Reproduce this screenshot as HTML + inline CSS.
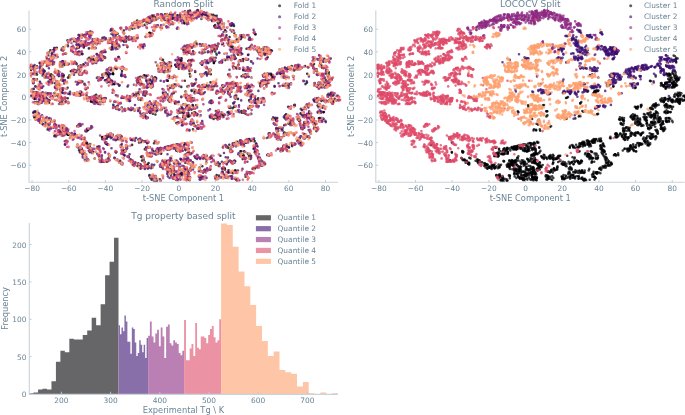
<!DOCTYPE html>
<html><head><meta charset="utf-8"><title>Splits</title>
<style>html,body{margin:0;padding:0;background:#fff}svg{display:block}</style></head>
<body>
<svg width="685" height="415" viewBox="0 0 685 415" font-family="'DejaVu Sans','Liberation Sans',sans-serif" fill="#6a8496">
<rect width="685" height="415" fill="#fff"/>
<path d="M161.5 16.6h0M333.5 100.3h0M240.0 155.7h0M94.7 158.5h0M52.8 96.0h0M190.2 76.4h0M140.8 142.3h0M237.3 141.8h0M285.1 147.6h0M263.4 48.8h0M266.3 84.7h0M112.8 134.9h0M255.4 34.2h0M324.2 58.9h0M236.7 49.8h0M185.7 154.9h0M316.4 131.1h0M237.8 39.7h0M239.4 68.6h0M307.4 117.9h0M100.3 79.6h0M246.9 59.6h0M307.2 73.7h0M152.1 166.7h0M297.8 140.3h0M121.1 39.7h0M82.8 44.9h0M169.4 24.3h0M270.7 51.1h0M79.9 73.7h0M213.9 62.7h0M86.6 95.4h0M142.6 76.9h0M93.4 59.0h0M154.0 143.2h0M287.2 133.5h0M243.0 61.0h0M319.7 118.0h0M60.8 62.9h0M219.7 22.5h0M110.5 38.6h0M319.7 121.6h0M148.8 167.7h0M179.2 58.6h0M244.0 76.3h0M192.5 105.7h0M145.8 20.5h0M146.4 117.3h0M191.7 91.0h0M259.8 158.1h0M206.4 159.4h0M264.2 162.8h0M185.5 179.2h0M194.4 112.8h0M191.1 47.3h0M190.6 60.2h0M283.3 146.6h0M305.1 66.1h0M168.3 19.2h0M318.4 105.5h0M89.1 147.4h0M165.7 161.4h0M319.9 58.5h0M151.9 83.7h0M237.0 180.0h0M62.3 66.5h0M154.7 78.6h0M232.0 23.2h0M245.6 76.9h0M185.3 116.2h0M264.6 73.9h0M165.8 63.8h0M95.2 41.6h0M162.1 16.1h0M85.7 89.2h0M149.9 112.7h0M263.7 75.9h0M191.5 109.6h0M69.3 75.5h0M120.8 145.2h0M253.6 148.7h0M208.9 73.7h0M179.6 111.8h0M109.4 42.8h0M189.3 106.3h0M157.7 154.0h0M193.3 85.3h0M215.0 48.2h0M228.2 74.5h0M80.2 82.3h0M64.2 131.0h0M143.0 46.7h0M313.6 99.6h0M232.8 25.2h0M228.9 44.1h0M113.1 74.1h0M162.8 166.5h0M116.5 68.9h0M151.5 104.0h0M130.3 27.3h0M97.1 54.5h0M215.1 51.5h0M194.0 100.0h0M138.6 25.3h0M181.7 149.7h0M231.8 178.6h0M146.8 81.3h0M119.3 36.5h0M93.8 60.5h0M231.3 161.4h0M300.1 120.5h0M241.4 111.1h0M139.7 78.7h0M215.6 27.5h0M299.2 67.9h0M127.4 47.1h0M62.5 61.6h0M174.2 84.5h0M95.3 47.8h0M215.9 114.4h0M68.9 134.5h0M122.0 71.1h0M167.5 96.1h0M217.6 178.5h0M56.8 47.8h0M217.4 164.8h0M122.5 151.1h0M324.7 87.4h0M34.6 117.8h0M94.3 43.0h0M58.2 74.0h0M49.1 102.7h0M234.7 97.6h0M47.7 93.3h0M231.5 25.0h0M80.4 81.2h0M31.1 69.2h0M177.7 163.3h0M246.1 86.3h0M153.8 111.3h0M260.6 52.3h0M231.9 151.6h0M205.5 13.9h0M230.8 46.1h0M182.7 123.0h0M177.6 15.3h0M75.9 63.0h0M84.3 35.9h0M95.7 101.2h0M195.7 157.9h0M188.8 116.4h0M147.4 82.4h0M226.5 35.2h0M224.8 168.4h0M234.0 26.0h0M185.4 53.0h0M62.5 128.0h0M98.0 59.0h0M211.9 49.9h0M192.3 98.4h0M234.5 160.9h0M223.6 114.4h0M250.5 158.9h0M155.4 114.5h0M84.5 83.8h0M321.8 66.7h0M185.5 150.1h0" stroke="#000004" stroke-opacity="0.76" stroke-width="2.6" stroke-linecap="round" fill="none"/>
<path d="M252.7 168.9h0M230.2 106.8h0M203.5 50.9h0M313.7 59.3h0M269.6 52.5h0M202.2 15.1h0M173.8 93.1h0M146.6 22.1h0M212.9 87.5h0M168.5 16.4h0M62.1 103.5h0M223.2 115.7h0M155.2 27.1h0M107.9 75.1h0M66.1 101.6h0M168.9 15.8h0M203.4 93.4h0M325.9 100.4h0M328.8 72.4h0M178.5 65.0h0M89.8 152.1h0M149.6 32.9h0M42.7 75.4h0M60.3 66.3h0M232.9 143.6h0M250.8 106.0h0M96.1 102.1h0M159.8 179.4h0M215.0 49.3h0M107.9 80.1h0M235.4 170.2h0M44.7 71.2h0M184.2 21.0h0M78.6 44.4h0M295.4 65.6h0M35.3 86.4h0M308.8 136.3h0M241.8 112.7h0M293.4 76.8h0M42.1 64.2h0M59.1 126.3h0M320.2 111.7h0M304.7 134.2h0M239.9 60.4h0M167.6 149.4h0M102.1 40.9h0M173.3 17.7h0M171.1 96.4h0M79.3 94.3h0M201.4 177.1h0M305.5 84.1h0M146.5 76.1h0M54.5 93.1h0M124.7 75.2h0M272.5 76.8h0M87.1 142.8h0M113.5 42.7h0M56.9 84.2h0M191.5 60.8h0M202.3 166.3h0M228.4 161.5h0M114.4 84.1h0M188.2 112.7h0M57.5 86.5h0M198.0 86.0h0M294.5 106.0h0M307.6 114.4h0M72.4 47.9h0M104.6 57.0h0M266.0 48.5h0M329.9 94.9h0M308.7 105.3h0M191.4 167.9h0M302.3 115.0h0M311.9 117.2h0M157.7 14.5h0M326.0 85.9h0M153.8 104.6h0M147.8 168.5h0M185.2 148.9h0M128.7 157.2h0M151.5 107.4h0M209.8 157.9h0M30.7 66.9h0M163.0 59.8h0M322.5 99.6h0M279.7 127.8h0M220.4 155.8h0M216.9 117.3h0M228.4 147.9h0M58.2 71.0h0M112.4 44.0h0M48.5 81.6h0M99.0 146.5h0M40.4 87.1h0M231.5 162.5h0M293.7 69.9h0M96.8 57.9h0M244.7 158.4h0M309.1 113.6h0M327.9 83.6h0M187.1 169.5h0M113.1 73.9h0M126.0 41.6h0M238.1 54.7h0M254.5 148.5h0M184.8 80.8h0M90.0 148.3h0M233.4 66.7h0M312.4 121.9h0M95.4 97.2h0M188.9 98.8h0M148.2 86.9h0M203.1 93.6h0M300.7 143.2h0M221.8 113.8h0M185.2 105.0h0M107.3 160.4h0M78.8 35.0h0M224.1 92.4h0M47.3 59.2h0M78.3 82.9h0M33.7 92.3h0M216.0 83.6h0M183.3 49.9h0M39.9 81.8h0M294.1 70.4h0M264.1 47.3h0M181.9 173.6h0M332.9 100.0h0M63.0 63.6h0M101.3 51.8h0M199.7 157.8h0M68.9 93.8h0M140.6 168.4h0M30.7 68.0h0M77.1 146.9h0M204.2 157.7h0M282.8 85.5h0M192.8 45.5h0M197.3 114.3h0M31.0 65.8h0M83.4 138.7h0M193.4 99.3h0M226.4 147.0h0M241.3 151.3h0M187.3 161.5h0M143.3 141.2h0M292.4 121.7h0M184.7 95.1h0M95.2 98.2h0M307.1 136.5h0M67.5 40.4h0M33.6 79.0h0M33.3 94.2h0M39.8 63.1h0M327.2 85.4h0M51.0 76.7h0M84.2 35.8h0M328.2 77.4h0M195.3 112.7h0M234.7 58.8h0M222.3 91.3h0M177.2 116.6h0M237.5 90.5h0M89.6 145.7h0M140.6 83.3h0" stroke="#000004" stroke-opacity="0.76" stroke-width="2.6" stroke-linecap="round" fill="none"/>
<path d="M248.7 85.6h0M212.2 21.0h0M185.2 169.3h0M221.7 89.5h0M143.5 113.2h0M210.5 82.4h0M191.1 99.7h0M331.5 78.9h0M102.0 137.1h0M79.0 150.2h0M210.0 117.3h0M167.6 71.4h0M242.8 59.2h0M300.7 113.3h0M215.3 176.7h0M61.6 50.1h0M194.4 43.5h0M34.7 98.8h0M277.2 118.1h0M61.6 103.7h0M170.2 87.8h0M243.8 110.7h0M204.8 86.9h0M285.0 67.8h0M90.8 60.5h0M317.6 105.5h0M248.9 155.7h0M271.1 75.3h0M164.3 72.2h0M245.8 86.9h0M290.0 122.8h0M294.3 143.5h0M250.2 39.5h0M84.6 153.5h0M54.9 48.1h0M156.0 178.6h0M137.2 20.6h0M231.0 147.4h0M149.4 33.1h0M223.4 117.0h0M234.8 83.2h0M150.1 18.0h0M219.4 27.5h0M233.6 41.9h0M206.9 74.2h0M96.7 101.1h0M328.8 74.6h0M195.9 92.2h0M112.3 81.6h0M244.0 151.3h0M175.6 178.3h0M315.0 84.7h0M326.2 73.7h0M108.2 73.9h0M315.3 123.5h0M80.4 152.2h0M183.7 173.2h0M252.3 94.9h0M155.7 19.7h0M190.2 168.9h0M271.0 73.8h0M211.5 57.8h0M216.6 114.7h0M174.3 170.5h0M61.9 98.4h0M301.9 110.1h0M215.0 60.9h0M298.1 118.6h0M191.6 153.3h0M323.9 112.0h0M57.3 95.4h0M240.9 50.4h0M144.8 149.2h0M213.7 61.4h0M208.2 62.9h0M232.8 46.7h0M173.5 169.0h0M253.2 140.8h0M338.4 100.0h0M172.5 85.3h0M178.4 174.6h0M152.6 111.6h0M222.2 90.5h0M107.6 80.8h0M76.6 44.6h0M300.4 141.6h0M120.4 139.2h0M315.5 101.5h0M276.0 120.3h0M284.2 132.5h0M229.7 94.4h0M307.9 67.3h0M238.2 87.2h0M85.8 72.1h0M128.0 156.8h0M70.9 71.3h0M116.9 43.4h0M184.2 143.7h0M99.6 159.5h0M79.7 95.1h0M169.2 76.0h0M304.3 122.9h0M188.5 152.3h0M215.3 117.6h0M117.6 33.8h0M231.4 91.8h0M204.8 13.4h0M186.5 19.6h0M142.5 167.1h0M46.2 75.1h0M297.8 119.4h0M257.4 150.7h0M144.6 75.2h0M278.6 128.1h0M314.4 126.9h0M200.8 63.2h0M279.5 69.6h0M175.0 103.5h0M218.3 110.8h0M323.1 85.0h0M267.7 75.6h0M43.5 96.8h0M211.5 100.5h0M154.9 77.4h0M93.9 41.6h0M281.5 129.2h0M204.6 52.3h0M65.2 97.8h0M165.6 148.2h0M148.7 82.8h0M128.1 108.7h0M201.6 171.3h0M189.7 115.8h0M91.2 101.5h0M182.1 108.3h0M248.8 91.3h0M62.5 100.6h0M332.6 103.7h0M114.1 84.0h0M253.3 168.6h0M137.4 82.7h0M86.2 88.2h0M180.5 17.4h0M217.5 27.7h0M43.5 72.9h0M286.9 150.4h0M226.8 164.1h0M213.9 63.1h0M225.0 169.6h0M156.5 179.2h0M57.5 134.5h0M306.6 105.3h0M90.3 31.5h0M185.3 52.6h0M223.2 87.1h0M88.5 129.4h0M194.8 83.7h0M160.5 148.4h0M142.5 116.6h0M212.6 89.5h0M61.9 100.7h0M183.1 117.2h0M244.3 75.4h0M198.9 176.4h0M331.0 92.7h0M40.7 93.6h0M51.0 78.5h0" stroke="#000004" stroke-opacity="0.76" stroke-width="2.6" stroke-linecap="round" fill="none"/>
<path d="M161.1 153.1h0M292.8 144.0h0M122.8 97.7h0M250.7 96.1h0M196.3 43.1h0M211.0 58.4h0M86.6 143.6h0M186.4 155.0h0M149.1 21.7h0M150.5 178.1h0M59.7 130.6h0M219.1 117.4h0M115.8 47.1h0M217.6 116.8h0M141.0 99.9h0M170.6 158.2h0M254.1 32.6h0M205.5 157.7h0M183.7 65.4h0M222.9 147.3h0M215.6 117.4h0M169.8 168.9h0M173.9 87.2h0M185.6 47.8h0M317.8 112.4h0M80.4 125.7h0M31.1 69.7h0M243.0 144.5h0M127.6 86.5h0M230.3 107.9h0M68.0 77.6h0M76.6 64.1h0M78.7 47.6h0M187.6 105.7h0M193.7 123.6h0M110.9 69.1h0M322.0 67.6h0M327.3 86.5h0M107.4 75.9h0M138.7 99.4h0M42.0 100.8h0M259.8 83.4h0M187.7 100.3h0M105.9 143.8h0M174.8 175.0h0M77.4 54.2h0M119.3 85.7h0M333.2 102.4h0M120.1 160.7h0M241.6 76.2h0M141.7 83.9h0M96.2 94.8h0M61.8 65.2h0M38.7 116.5h0M204.9 60.6h0M189.3 16.7h0M234.6 172.5h0M277.8 149.0h0M209.8 169.8h0M67.7 134.8h0M116.5 138.0h0M207.5 87.5h0M240.0 140.6h0M187.4 86.6h0M146.4 141.7h0M87.5 130.3h0M98.0 77.3h0M188.5 114.6h0M315.5 122.6h0M146.0 148.8h0M124.0 33.5h0M157.2 143.2h0M43.1 99.2h0M228.4 172.8h0M184.5 23.5h0M216.7 15.8h0M245.9 142.4h0M186.0 171.8h0M170.7 146.3h0M90.2 144.0h0M42.2 71.6h0M292.1 146.1h0M63.3 47.4h0M131.4 110.0h0M240.6 143.1h0M180.2 174.2h0M273.7 77.9h0M77.1 126.3h0M80.8 74.4h0M96.8 54.0h0M178.5 122.3h0M176.4 66.8h0M79.6 66.1h0M145.1 95.6h0M257.0 50.0h0M229.6 37.0h0M138.6 94.5h0M269.8 50.1h0M290.7 69.2h0M328.8 100.5h0M303.4 125.2h0M152.1 15.6h0M174.0 163.0h0M192.2 19.8h0M229.8 45.9h0M195.5 126.0h0M177.6 151.1h0M185.2 104.5h0M67.7 45.2h0M274.0 118.6h0M173.3 146.6h0M217.4 111.8h0M33.7 88.9h0M170.0 15.3h0M235.1 170.9h0M31.2 65.4h0M113.3 104.8h0M261.6 49.3h0M243.3 70.3h0M147.7 164.7h0M187.9 22.5h0M137.3 37.9h0M78.1 38.0h0M320.9 87.2h0M155.5 17.4h0M105.1 98.6h0M108.4 158.4h0M314.9 124.6h0M187.1 45.5h0M250.2 106.2h0M209.4 72.3h0M173.0 88.1h0M62.9 103.8h0M149.4 175.6h0M156.2 78.6h0M44.4 100.7h0M234.6 143.6h0M192.1 113.2h0M246.8 174.0h0M60.3 103.0h0M204.7 170.1h0M53.5 62.8h0M105.5 52.0h0M161.8 14.8h0M304.4 115.4h0M241.7 35.4h0M105.0 57.9h0M193.1 51.3h0M49.6 100.2h0M238.8 68.0h0M307.0 82.6h0M242.2 155.5h0M82.3 53.9h0M128.5 37.1h0M170.1 164.8h0M327.4 70.8h0M46.7 100.3h0M144.7 24.9h0M63.1 50.5h0M249.1 100.3h0M36.9 79.4h0M145.8 93.7h0M317.5 85.4h0M315.4 128.2h0M243.8 112.8h0M185.3 162.8h0M142.4 21.6h0" stroke="#000004" stroke-opacity="0.76" stroke-width="2.6" stroke-linecap="round" fill="none"/>
<path d="M222.6 39.5h0M180.0 59.1h0M243.4 154.9h0M247.2 87.5h0M143.9 19.9h0M68.1 102.0h0M246.5 48.7h0M216.4 53.8h0M63.8 75.4h0M113.2 32.9h0M199.2 12.7h0M246.1 142.4h0M322.0 121.2h0M151.2 33.2h0M287.8 68.3h0M240.4 151.3h0M245.6 176.8h0M119.1 45.5h0M186.1 177.5h0M121.7 75.9h0M327.9 83.7h0M256.8 145.8h0M315.3 69.6h0M199.3 89.7h0M127.2 97.3h0M161.5 27.8h0M234.8 143.4h0M171.0 66.0h0M35.7 73.3h0M90.7 149.8h0M78.0 71.9h0M211.3 156.7h0M266.4 58.9h0M294.1 144.4h0M285.6 119.1h0M167.5 170.9h0M49.1 82.6h0M162.3 167.5h0M167.4 80.8h0M235.5 35.2h0M214.1 49.2h0M138.3 163.4h0M211.5 117.5h0M75.7 72.2h0M82.5 154.2h0M181.5 106.6h0M168.0 161.0h0M190.0 10.8h0M108.7 76.8h0M206.3 61.6h0M289.3 84.0h0M78.8 53.0h0M48.3 55.2h0M61.2 80.0h0M214.2 26.0h0M292.1 124.3h0M321.4 101.0h0M101.5 99.2h0M52.4 64.3h0M281.8 150.2h0M142.3 45.8h0M173.3 145.1h0M88.9 48.4h0M87.3 130.2h0M237.9 89.1h0M109.2 78.6h0M84.3 139.6h0M238.6 64.5h0M90.3 35.0h0M258.2 98.3h0M176.4 123.1h0M150.7 154.9h0M127.2 146.0h0M139.0 142.4h0M181.4 159.9h0M195.5 92.0h0M248.9 39.4h0M172.2 18.9h0M232.8 171.2h0M179.6 144.9h0M294.1 105.2h0M228.9 57.6h0M94.7 100.4h0M31.3 95.7h0M111.7 29.9h0M58.7 83.5h0M128.5 39.5h0M57.2 134.9h0M189.2 12.0h0M155.4 141.7h0M175.5 117.5h0M125.5 151.1h0M216.7 54.6h0M175.3 64.9h0M268.1 48.9h0M231.5 46.9h0M286.1 114.3h0M211.1 103.1h0M265.2 51.8h0M112.3 47.6h0M309.4 112.5h0M189.4 66.8h0M85.1 44.2h0M309.8 131.6h0M67.6 87.7h0M101.3 78.2h0M203.2 172.6h0M202.7 87.0h0M130.5 159.4h0M80.6 95.2h0M323.4 61.7h0M187.8 116.4h0M181.3 97.1h0M247.7 153.6h0M298.7 66.5h0M198.7 128.6h0M48.6 125.5h0M163.7 62.3h0M205.0 14.7h0M178.8 16.8h0M188.7 179.8h0M138.5 92.5h0M255.6 150.7h0M288.5 123.7h0M233.0 82.1h0M210.6 157.7h0M202.9 157.5h0M62.9 89.8h0M219.8 163.8h0M99.4 156.8h0M200.5 93.8h0M284.2 125.2h0M58.4 72.7h0M32.1 65.7h0M138.4 79.7h0M283.5 77.4h0M266.1 54.1h0M272.0 75.7h0M264.6 48.6h0M285.0 133.0h0M188.2 46.7h0M173.0 86.0h0M258.0 99.6h0M134.3 139.1h0M187.3 106.0h0M133.1 38.4h0M85.9 142.7h0M261.5 162.4h0M114.9 68.1h0M111.4 49.5h0M46.9 66.0h0M120.4 135.6h0M137.5 166.0h0M249.7 69.8h0M85.4 131.1h0M167.8 172.7h0M35.1 93.0h0M284.6 117.7h0M49.9 78.8h0M52.2 53.2h0M337.2 95.8h0M264.9 53.8h0M329.0 61.3h0M250.1 172.7h0M206.1 72.4h0M227.8 177.4h0M181.1 112.5h0" stroke="#000004" stroke-opacity="0.76" stroke-width="2.6" stroke-linecap="round" fill="none"/>
<path d="M65.7 53.7h0M79.5 35.6h0M223.9 23.7h0M331.0 101.9h0M67.2 134.0h0M54.4 50.1h0M289.0 147.4h0M215.3 177.3h0M36.8 118.7h0M215.9 111.0h0M50.1 75.3h0M35.7 95.5h0M148.4 147.4h0M149.5 19.4h0M54.4 136.1h0M142.2 156.4h0M84.4 45.8h0M272.8 77.8h0M145.5 116.3h0M181.1 174.3h0M116.1 107.4h0M148.6 163.0h0M294.7 104.9h0M192.7 162.4h0M150.2 113.0h0M55.1 83.3h0M189.4 70.7h0M245.5 113.7h0M157.3 110.4h0M188.8 16.8h0M175.1 102.8h0M170.9 99.6h0M185.1 49.5h0M69.0 77.3h0M192.7 105.0h0M111.8 47.5h0M276.9 73.9h0M320.4 63.6h0M168.2 69.5h0M200.3 44.7h0M40.0 117.0h0M200.5 179.3h0M243.9 156.0h0M210.6 158.1h0M124.0 41.5h0M194.5 112.4h0M147.4 20.9h0M316.3 128.4h0M250.1 96.2h0M222.0 114.3h0M188.7 110.0h0M228.6 170.4h0M304.8 107.4h0M249.6 37.5h0M105.6 80.3h0M246.3 70.0h0M35.5 111.6h0M299.2 121.0h0M38.6 101.8h0M61.6 79.9h0M227.6 112.4h0M80.8 65.6h0M254.7 152.3h0M149.3 111.7h0M104.4 74.2h0M161.5 99.0h0M217.4 46.5h0M231.7 84.7h0M40.1 95.7h0M114.5 157.8h0M94.9 100.6h0M112.7 32.9h0M182.2 173.6h0M83.4 64.4h0M267.7 57.3h0M132.1 144.9h0M230.5 83.6h0M139.7 164.5h0M260.2 85.9h0M93.0 151.7h0M106.9 138.5h0M189.6 46.0h0M167.1 161.4h0M286.3 68.7h0M184.4 168.9h0M183.8 112.6h0M327.3 81.6h0M102.4 139.0h0M268.6 137.1h0M147.8 166.8h0M288.4 68.3h0M142.8 166.6h0M116.1 152.6h0M80.2 151.8h0M232.3 30.6h0M251.1 61.6h0M36.8 102.0h0M168.0 21.2h0M171.2 173.4h0M169.7 101.6h0M257.8 51.2h0M48.4 101.7h0M177.5 19.6h0M235.2 161.3h0M145.7 148.9h0M80.9 54.0h0M140.3 76.8h0M82.2 45.7h0M323.5 118.9h0M98.8 40.0h0M37.0 66.4h0M116.4 152.0h0M174.8 147.1h0M285.5 85.7h0M59.2 86.1h0M95.0 97.8h0M147.0 164.8h0M235.2 85.7h0M225.1 30.0h0M42.5 63.5h0M250.9 91.2h0M234.2 32.9h0M52.4 75.4h0M42.8 124.0h0M53.0 50.3h0M317.0 71.5h0M123.9 30.5h0M132.9 161.8h0M202.7 14.1h0M49.0 52.3h0M134.0 95.4h0M63.2 76.9h0M229.1 107.4h0M215.2 25.1h0M186.0 171.2h0M235.7 58.5h0M118.1 139.3h0M97.4 146.7h0M177.3 144.3h0M186.6 12.7h0M202.6 85.0h0M31.1 65.0h0M164.5 71.3h0M197.6 10.4h0M144.4 161.8h0M124.2 155.0h0M214.3 20.5h0M54.9 124.6h0M262.3 165.4h0M86.3 157.6h0M297.7 69.4h0M77.0 48.3h0M168.5 64.2h0M121.4 163.7h0M248.3 108.4h0M266.6 50.2h0M92.7 102.2h0M228.0 39.7h0M79.2 47.0h0M110.5 42.4h0M207.8 52.2h0M78.3 52.1h0M187.2 153.6h0M55.0 87.5h0M161.0 153.7h0M323.4 112.3h0" stroke="#000004" stroke-opacity="0.76" stroke-width="2.6" stroke-linecap="round" fill="none"/>
<path d="M107.5 136.8h0M89.5 34.4h0M217.3 45.8h0M164.3 163.2h0M235.7 67.6h0M145.6 36.7h0M228.6 45.0h0M112.9 73.3h0M168.3 100.3h0M189.4 130.4h0M314.2 59.0h0M71.6 71.0h0M280.6 73.6h0M263.7 83.9h0M242.1 144.5h0M181.5 60.7h0M181.3 60.0h0M224.8 162.3h0M92.4 152.6h0M268.0 83.0h0M191.3 53.7h0M236.2 95.5h0M312.0 121.9h0M62.7 135.5h0M88.3 44.0h0M189.7 73.8h0M187.1 161.1h0M330.8 94.5h0M68.3 134.7h0M318.9 118.2h0M186.9 14.2h0M93.8 62.5h0M57.9 83.7h0M102.5 137.4h0M163.0 66.5h0M79.7 93.5h0M255.1 99.9h0M34.1 116.6h0M268.4 154.3h0M65.9 130.6h0M106.1 72.9h0M67.7 98.3h0M256.0 143.5h0M132.4 28.7h0M212.0 50.5h0M57.3 85.7h0M102.4 60.1h0M322.5 107.8h0M92.9 45.2h0M178.8 68.7h0M232.7 173.3h0M212.3 60.0h0M268.4 53.6h0M241.2 53.3h0M153.5 151.3h0M246.4 87.4h0M217.7 22.6h0M274.6 86.0h0M90.4 33.6h0M152.9 113.7h0M109.2 73.4h0M323.7 67.9h0M263.6 53.8h0M271.6 74.8h0M153.4 78.2h0M167.8 80.7h0M247.9 86.9h0M151.2 84.3h0M153.6 107.5h0M62.8 88.2h0M262.3 100.6h0M185.1 174.0h0M143.9 75.6h0M250.8 141.0h0M235.2 171.8h0M256.4 102.5h0M136.3 93.2h0M181.3 58.4h0M234.8 56.6h0M184.2 145.1h0M198.7 16.1h0M180.9 150.2h0M282.6 150.8h0M183.1 112.7h0M214.7 15.9h0M242.7 159.1h0M176.2 150.5h0M116.0 44.7h0M291.7 66.0h0M319.5 104.1h0M66.3 140.9h0M159.2 150.0h0M171.3 169.5h0M60.5 131.9h0M96.8 101.9h0M118.4 57.1h0M189.2 160.1h0M317.1 98.4h0M78.3 68.8h0M107.8 74.2h0M35.5 98.1h0M178.0 180.1h0M209.0 45.7h0M40.7 70.9h0M270.9 50.3h0M266.8 50.1h0M214.6 86.1h0M227.2 146.8h0M196.6 114.6h0M141.9 157.2h0M185.5 91.5h0M80.5 69.5h0M255.6 102.9h0M188.3 11.0h0M102.6 37.9h0M226.0 175.2h0M51.2 74.4h0M185.5 48.8h0M217.5 91.7h0M33.3 112.8h0M141.0 156.8h0M283.5 73.1h0M163.2 18.2h0M229.7 107.4h0M233.9 106.9h0M186.5 172.3h0M168.7 15.5h0M210.6 70.3h0M188.3 61.1h0M153.5 16.4h0M116.0 60.3h0M139.3 80.0h0M218.8 165.9h0M122.0 40.5h0M79.1 95.2h0M213.6 119.0h0M242.7 37.1h0M254.0 141.1h0M171.7 22.6h0M98.6 104.0h0M36.6 92.5h0M44.9 77.5h0M110.3 136.2h0M181.3 86.9h0M176.7 66.4h0M220.6 36.3h0M189.3 15.8h0M205.0 171.7h0M165.7 164.3h0M193.0 129.4h0M196.1 105.4h0M222.6 169.2h0M179.9 15.1h0M110.6 70.2h0M138.9 77.9h0M243.5 35.0h0M189.5 66.2h0M108.6 136.6h0M302.5 129.2h0M301.3 127.9h0M58.8 76.1h0M198.6 16.0h0M189.6 180.3h0M255.4 34.2h0M162.4 63.2h0M288.4 85.8h0" stroke="#000004" stroke-opacity="0.76" stroke-width="2.6" stroke-linecap="round" fill="none"/>
<path d="M152.3 16.7h0M222.9 172.4h0M157.3 65.6h0M299.5 137.9h0M267.1 81.7h0M169.7 160.3h0M149.6 153.5h0M59.9 89.2h0M253.7 140.1h0M48.7 119.1h0M228.0 91.8h0M245.3 74.2h0M146.5 91.9h0M47.3 64.9h0M212.1 51.6h0M211.1 14.8h0M98.3 98.5h0M96.9 40.2h0M90.8 101.4h0M50.6 120.0h0M181.1 174.3h0M225.7 37.7h0M94.6 95.9h0M163.2 93.4h0M191.8 83.7h0M147.7 154.8h0M232.6 108.2h0M325.6 79.7h0M321.9 65.8h0M236.8 39.6h0M323.1 81.0h0M152.6 175.9h0M242.1 154.2h0M116.8 38.6h0M82.4 34.9h0M227.9 157.5h0M216.8 93.5h0M334.7 98.7h0M170.1 165.2h0M272.3 119.3h0M269.6 133.3h0M243.1 75.1h0M142.2 167.4h0M256.7 105.6h0M55.6 125.3h0M31.2 68.0h0M37.0 74.6h0M206.7 85.4h0M180.9 60.9h0M288.2 67.7h0M151.6 179.6h0M216.7 175.1h0M212.3 59.7h0M106.9 161.6h0M187.3 14.9h0M89.3 57.7h0M152.7 84.7h0M45.1 94.2h0M112.6 84.2h0M34.6 98.9h0M254.9 168.4h0M146.3 105.4h0M327.6 95.0h0M93.2 60.5h0M286.6 145.9h0M160.4 150.1h0M172.1 86.5h0M124.1 150.2h0M248.4 178.0h0M38.7 120.4h0M194.6 91.9h0M147.2 143.2h0M243.7 144.2h0M319.6 59.8h0M319.0 84.3h0M164.8 19.9h0M254.6 141.1h0M138.2 21.9h0M176.0 179.6h0M295.4 68.9h0M146.3 20.3h0M62.4 75.7h0M172.3 171.4h0M227.7 172.0h0M333.4 95.4h0M175.7 65.1h0M231.1 176.2h0M44.9 120.2h0M69.2 133.2h0M287.4 69.0h0M248.2 90.7h0M140.5 164.5h0M213.1 14.9h0M47.6 129.5h0M121.7 107.6h0M314.8 124.3h0M238.0 98.9h0M169.6 18.7h0M230.7 25.4h0M257.0 166.7h0M272.2 76.7h0M173.8 173.7h0M231.4 161.6h0M312.0 118.3h0M55.6 55.5h0M43.4 96.1h0M250.9 46.2h0M240.3 88.1h0M33.0 68.1h0M176.9 162.5h0M111.9 80.7h0M249.1 139.1h0M170.7 65.8h0M51.1 121.6h0M142.0 160.6h0M198.9 91.0h0M102.8 101.3h0M312.8 66.0h0M210.9 74.3h0M151.5 87.3h0M182.3 122.1h0M333.3 95.3h0M225.3 60.1h0M108.7 81.3h0M195.2 71.9h0M164.2 108.1h0M314.0 64.1h0M316.7 69.5h0M74.0 41.3h0M236.6 180.1h0M102.3 74.7h0M150.1 79.6h0M89.8 147.6h0M233.4 66.7h0M184.2 22.8h0M72.5 62.6h0M89.5 34.3h0M241.2 36.8h0M50.4 50.3h0M33.0 82.8h0M45.6 122.9h0M109.3 156.5h0M331.4 96.1h0M51.6 83.0h0M240.8 39.1h0M151.7 81.7h0M134.6 110.6h0M218.7 23.9h0M56.6 100.0h0M276.1 120.1h0M82.4 81.6h0M276.2 128.4h0M129.2 39.1h0M229.3 144.8h0M45.6 77.2h0M269.2 134.4h0M333.0 101.8h0M116.4 139.1h0M126.3 38.0h0M165.1 14.2h0M248.0 55.0h0M251.1 155.8h0M36.2 114.7h0M120.8 28.6h0M64.7 64.9h0M81.8 149.0h0" stroke="#000004" stroke-opacity="0.76" stroke-width="2.6" stroke-linecap="round" fill="none"/>
<path d="M223.5 93.6h0M167.3 21.2h0M171.6 148.1h0M61.0 103.9h0M115.1 47.8h0M185.7 167.6h0M160.7 80.8h0M222.3 85.5h0M64.9 80.1h0M300.0 69.3h0M112.0 137.3h0M140.9 45.3h0M245.6 141.4h0M124.6 109.7h0M151.0 153.8h0M131.2 109.6h0M75.7 136.1h0M42.7 120.7h0M98.4 155.4h0M35.8 119.7h0M46.4 97.7h0M39.7 118.5h0M133.5 38.7h0M166.6 80.2h0M278.2 139.4h0M160.2 180.8h0M38.2 112.7h0M213.7 161.0h0M101.6 77.8h0M215.5 177.7h0M143.8 161.6h0M76.2 70.8h0M99.7 102.2h0M222.8 92.8h0M301.0 136.2h0M146.0 147.2h0M249.7 101.5h0M237.3 142.9h0M152.0 20.9h0M215.8 57.7h0M172.5 15.6h0M144.1 91.6h0M273.7 123.4h0M206.5 177.9h0M186.4 52.0h0M54.3 121.2h0M212.5 102.5h0M248.8 76.8h0M75.9 39.3h0M308.4 67.2h0M173.6 76.7h0M232.0 176.6h0M202.6 51.5h0M148.6 155.7h0M152.6 178.0h0M203.7 155.1h0M181.3 172.6h0M74.8 133.7h0M263.0 98.1h0M216.7 18.6h0M190.1 177.4h0M153.4 30.4h0M55.1 135.1h0M111.0 29.4h0M197.2 128.4h0M153.1 175.6h0M163.2 97.8h0M119.5 162.2h0M172.3 77.1h0M107.9 81.7h0M87.6 128.9h0M227.3 56.6h0M151.8 107.7h0M64.4 80.2h0M43.5 72.5h0M160.5 59.0h0M318.2 99.5h0M199.6 167.8h0M155.8 77.7h0M304.4 127.6h0M153.7 180.6h0M258.5 51.4h0M245.3 70.7h0M57.8 85.2h0M111.5 34.0h0M221.9 161.7h0M216.5 164.8h0M143.7 92.9h0M61.1 96.7h0M192.1 119.8h0M210.5 52.3h0M193.0 14.9h0M109.4 74.4h0M258.1 158.4h0M86.2 71.7h0M235.2 143.1h0M43.4 117.9h0M147.5 112.1h0M216.8 118.5h0M242.5 168.9h0M63.5 80.4h0M187.2 154.6h0M227.8 87.2h0M265.3 80.4h0M160.8 14.2h0M309.5 137.6h0M329.1 59.4h0M149.1 156.2h0M39.5 95.0h0M202.2 64.7h0M161.0 163.9h0M206.9 62.4h0M51.0 128.1h0M34.3 94.6h0M175.4 145.6h0M197.1 107.4h0M157.5 152.4h0M240.6 38.3h0M34.1 95.2h0M149.2 155.2h0M65.5 53.8h0M103.2 56.3h0M75.5 136.1h0M179.7 66.5h0M194.3 18.3h0M95.6 98.4h0M183.6 166.1h0M219.7 118.5h0M291.0 83.3h0M249.0 87.0h0M150.0 147.4h0M119.6 109.5h0M251.3 113.9h0M197.5 158.1h0M41.5 72.7h0M188.3 159.6h0M172.3 22.8h0M169.6 161.6h0M167.7 167.1h0M139.7 79.7h0M162.1 97.1h0M161.2 65.6h0M80.8 65.9h0M144.3 107.3h0M98.7 77.2h0M313.9 128.5h0M43.0 69.4h0M273.1 117.3h0M121.8 163.9h0M181.0 159.2h0M178.9 60.9h0M217.4 163.5h0M199.6 179.4h0M41.6 99.0h0M235.8 179.2h0M90.3 35.3h0M169.5 62.3h0M322.4 118.2h0M152.4 81.9h0M147.6 104.4h0M154.7 102.8h0M197.2 114.5h0M178.2 179.7h0M43.2 86.2h0M165.4 98.2h0" stroke="#3b0f70" stroke-opacity="0.76" stroke-width="2.6" stroke-linecap="round" fill="none"/>
<path d="M200.6 170.9h0M199.9 177.0h0M171.9 93.8h0M261.5 102.4h0M180.4 169.6h0M49.0 77.7h0M255.5 151.1h0M79.3 74.6h0M182.4 64.2h0M121.2 145.3h0M239.5 112.2h0M244.8 111.6h0M33.2 67.5h0M229.8 113.6h0M86.9 160.6h0M157.3 161.4h0M143.4 21.0h0M147.8 168.0h0M223.1 43.2h0M187.3 50.7h0M133.8 37.6h0M314.8 83.1h0M215.0 20.2h0M168.9 170.5h0M48.8 65.1h0M178.3 66.4h0M246.3 76.5h0M189.3 60.3h0M176.3 145.7h0M101.7 159.3h0M93.8 98.0h0M277.2 132.1h0M197.7 128.5h0M132.7 140.3h0M300.7 145.2h0M201.4 18.9h0M53.3 55.2h0M38.0 119.1h0M178.4 111.1h0M245.9 58.9h0M180.0 163.7h0M156.2 111.4h0M316.4 86.2h0M261.5 165.6h0M120.7 68.6h0M143.3 95.1h0M44.1 97.8h0M174.7 76.4h0M130.1 100.7h0M204.8 92.2h0M174.3 176.1h0M172.5 23.4h0M44.7 74.7h0M308.4 107.5h0M274.8 124.5h0M224.0 153.0h0M88.8 150.6h0M64.3 64.0h0M206.7 15.4h0M211.5 60.4h0M65.3 102.3h0M248.8 48.5h0M226.5 177.7h0M240.6 61.0h0M241.3 48.4h0M53.0 51.2h0M203.4 176.7h0M233.4 103.2h0M151.8 76.6h0M84.1 65.3h0M119.4 46.9h0M184.5 159.1h0M67.9 64.4h0M228.9 41.6h0M119.7 103.2h0M265.1 164.1h0M104.3 37.3h0M275.2 118.7h0M73.7 73.0h0M176.9 28.6h0M249.0 172.3h0M320.7 65.7h0M193.7 54.1h0M196.9 44.5h0M42.1 115.2h0M326.2 69.7h0M110.6 30.8h0M96.2 62.9h0M183.4 104.3h0M310.7 133.4h0M104.8 101.5h0M116.5 108.7h0M109.2 74.2h0M132.8 25.8h0M114.7 32.3h0M225.1 175.1h0M74.6 39.6h0M186.9 161.4h0M132.9 39.5h0M164.8 147.3h0M254.1 138.6h0M165.5 16.4h0M177.5 62.8h0M211.4 20.1h0M100.7 161.1h0M174.6 13.8h0M63.2 92.9h0M201.2 123.6h0M103.7 161.8h0M157.9 148.3h0M156.4 150.9h0M39.9 68.6h0M321.6 111.7h0M118.0 105.6h0M316.5 69.7h0M306.5 115.8h0M255.7 99.3h0M319.2 105.7h0M288.0 84.0h0M108.3 40.7h0M109.4 82.3h0M304.0 81.1h0M288.7 77.5h0M329.7 80.1h0M185.5 168.5h0M84.6 71.4h0M222.0 171.8h0M84.5 44.2h0M253.6 29.9h0M182.2 175.4h0M201.2 45.6h0M117.9 84.1h0M243.2 69.6h0M80.2 45.6h0M167.6 147.1h0M111.5 148.2h0M158.3 69.2h0M104.6 101.0h0M71.7 133.0h0M48.2 60.1h0M253.0 63.4h0M309.1 111.4h0M140.2 113.2h0M176.3 144.8h0M177.6 27.6h0M206.9 68.0h0M105.4 73.3h0M267.9 53.5h0M82.7 156.6h0M81.3 51.8h0M260.9 83.6h0M318.1 99.9h0M194.6 93.2h0M221.4 177.4h0M78.3 66.2h0M87.7 145.1h0M233.8 54.8h0M184.9 168.6h0M123.9 68.7h0M288.1 106.9h0M193.0 169.5h0M267.5 154.8h0M219.0 111.6h0M179.2 173.2h0M186.3 97.5h0" stroke="#3b0f70" stroke-opacity="0.76" stroke-width="2.6" stroke-linecap="round" fill="none"/>
<path d="M102.7 77.7h0M192.9 17.3h0M189.7 10.9h0M236.5 143.8h0M251.5 77.6h0M247.5 69.9h0M197.5 92.5h0M61.9 48.6h0M40.2 99.7h0M208.9 16.1h0M49.6 82.6h0M85.4 42.9h0M308.2 117.1h0M262.8 49.1h0M60.4 100.3h0M153.3 104.8h0M109.3 135.9h0M266.9 58.3h0M121.4 74.9h0M304.7 138.6h0M99.4 96.8h0M206.8 155.7h0M170.2 13.7h0M93.2 96.8h0M266.4 74.5h0M323.4 74.0h0M157.8 25.3h0M47.4 99.1h0M288.5 115.8h0M112.5 83.7h0M284.9 67.7h0M88.2 43.3h0M188.0 174.1h0M205.4 85.5h0M213.3 17.9h0M251.9 85.1h0M202.7 156.3h0M268.9 133.5h0M130.2 27.3h0M76.6 71.8h0M280.6 151.3h0M217.6 114.4h0M190.3 66.3h0M144.2 44.3h0M33.3 73.9h0M180.4 158.9h0M233.1 51.7h0M138.3 27.6h0M190.5 170.2h0M214.9 18.5h0M165.8 92.8h0M189.5 107.9h0M174.4 117.6h0M34.8 112.1h0M325.4 82.6h0M270.3 52.6h0M200.8 63.1h0M150.4 22.4h0M308.9 76.4h0M269.3 134.7h0M48.3 124.5h0M177.2 18.6h0M186.7 66.4h0M175.5 60.3h0M80.2 35.2h0M35.4 93.3h0M81.6 139.1h0M46.1 101.3h0M245.5 158.6h0M248.1 35.3h0M179.6 108.7h0M188.9 148.8h0M64.8 141.2h0M232.6 49.1h0M305.5 122.5h0M187.8 171.2h0M165.5 161.7h0M50.8 80.5h0M45.7 96.6h0M197.3 11.3h0M123.6 38.3h0M206.9 12.9h0M59.1 133.2h0M241.2 154.5h0M193.7 89.8h0M119.5 85.0h0M102.4 101.5h0M219.2 176.5h0M267.0 75.4h0M104.0 57.8h0M54.1 48.0h0M306.7 81.4h0M162.9 92.5h0M185.6 116.0h0M238.7 52.2h0M87.9 32.4h0M327.8 60.6h0M126.4 147.5h0M97.8 59.1h0M139.6 89.3h0M129.5 101.1h0M100.0 102.0h0M318.7 82.9h0M148.6 103.1h0M106.2 142.4h0M187.8 108.6h0M134.0 84.7h0M222.7 85.2h0M117.5 48.7h0M117.7 135.5h0M63.0 80.7h0M109.6 68.0h0M165.5 71.6h0M160.6 110.0h0M237.3 84.0h0M91.0 59.5h0M152.2 149.8h0M67.6 131.0h0M162.1 166.2h0M110.9 138.1h0M129.5 29.8h0M241.2 140.6h0M70.8 136.1h0M140.0 22.9h0M86.5 131.4h0M215.9 116.3h0M81.4 41.2h0M187.0 174.2h0M101.2 60.2h0M140.2 138.5h0M179.7 112.6h0M219.1 52.5h0M168.5 75.8h0M305.1 115.2h0M262.9 80.5h0M262.3 161.3h0M134.1 23.0h0M116.3 136.6h0M191.0 65.1h0M229.0 56.9h0M229.2 113.1h0M159.7 150.2h0M304.5 134.1h0M112.6 92.7h0M158.0 151.5h0M48.9 68.2h0M166.5 160.9h0M51.7 53.7h0M196.6 12.2h0M109.3 40.2h0M136.2 95.4h0M39.3 88.9h0M239.1 50.6h0M235.7 106.1h0M125.1 110.8h0M197.7 11.3h0M96.7 44.3h0M133.0 94.3h0M178.1 175.7h0M91.6 150.1h0M235.5 98.8h0M77.0 84.5h0M107.7 144.6h0M135.3 162.2h0M330.8 58.5h0" stroke="#3b0f70" stroke-opacity="0.76" stroke-width="2.6" stroke-linecap="round" fill="none"/>
<path d="M88.0 147.8h0M107.3 144.2h0M328.2 96.7h0M185.0 68.1h0M228.0 93.5h0M81.2 67.2h0M86.9 45.3h0M187.3 22.7h0M175.7 84.6h0M230.8 112.2h0M242.1 141.7h0M258.7 106.1h0M50.9 61.0h0M136.8 80.8h0M47.1 124.0h0M49.0 129.1h0M233.1 163.2h0M326.1 84.1h0M194.1 12.8h0M53.6 127.7h0M162.1 59.7h0M227.2 57.7h0M309.4 118.6h0M117.3 159.5h0M117.3 45.4h0M124.3 41.4h0M40.1 122.0h0M121.4 97.9h0M268.9 74.1h0M54.9 95.9h0M221.6 39.7h0M328.5 93.7h0M298.8 143.4h0M178.0 60.3h0M155.9 151.4h0M187.5 163.1h0M247.1 95.3h0M121.0 138.2h0M317.5 129.5h0M299.6 138.2h0M300.8 114.1h0M106.9 79.6h0M123.5 45.0h0M202.5 53.3h0M211.4 45.8h0M143.7 159.4h0M150.2 111.3h0M82.1 93.0h0M30.9 68.0h0M220.3 116.4h0M162.5 89.1h0M222.2 24.0h0M126.8 98.6h0M155.8 177.4h0M222.0 168.3h0M120.5 39.8h0M236.1 85.4h0M92.6 39.2h0M139.3 82.5h0M74.6 133.8h0M33.4 83.2h0M66.7 133.1h0M118.5 138.3h0M177.5 123.3h0M61.2 91.4h0M145.9 116.7h0M232.6 24.0h0M162.4 161.0h0M259.0 47.9h0M84.7 42.1h0M84.8 159.9h0M36.5 72.3h0M73.2 48.0h0M299.1 118.9h0M65.4 98.2h0M101.9 161.6h0M168.6 146.3h0M220.1 24.4h0M115.7 35.7h0M110.6 133.4h0M42.0 87.8h0M273.6 133.5h0M117.0 106.0h0M149.9 21.1h0M222.0 44.2h0M330.2 99.9h0M256.4 143.7h0M167.5 94.2h0M266.9 53.5h0M100.8 96.9h0M187.1 24.2h0M194.5 156.3h0M100.6 161.9h0M229.5 69.8h0M294.8 144.4h0M323.3 106.1h0M103.7 52.3h0M201.0 11.3h0M254.8 147.5h0M251.6 97.1h0M237.5 178.8h0M192.7 123.9h0M286.7 77.0h0M259.1 161.2h0M83.9 46.9h0M60.3 64.8h0M188.1 47.2h0M276.9 138.9h0M271.6 50.8h0M46.7 73.7h0M113.5 106.2h0M258.4 90.9h0M155.7 78.5h0M203.5 13.8h0M237.7 111.5h0M282.4 149.4h0M278.9 72.1h0M259.0 53.6h0M234.1 85.5h0M209.0 85.6h0M201.9 64.6h0M191.8 14.7h0M141.8 98.7h0M176.3 149.9h0M200.6 115.4h0M139.8 111.5h0M296.9 67.9h0M39.9 62.9h0M171.5 170.1h0M234.5 102.1h0M194.5 46.2h0M111.6 84.2h0M156.8 181.0h0M35.2 74.3h0M169.6 178.0h0M133.2 108.6h0M86.9 129.0h0M103.2 138.1h0M229.3 89.2h0M265.5 50.3h0M105.5 39.3h0M136.9 94.6h0M62.9 61.4h0M313.5 68.4h0M249.6 139.2h0M44.2 70.5h0M197.9 14.0h0M176.5 160.6h0M202.6 44.3h0M194.4 125.6h0M198.9 171.2h0M202.0 74.5h0M60.6 103.1h0M105.8 136.2h0M143.4 157.7h0M99.3 40.8h0M100.3 104.2h0M311.1 64.5h0M111.1 68.1h0M321.5 84.8h0M250.1 48.8h0M188.1 13.8h0M219.8 21.7h0M301.4 128.0h0M122.3 151.2h0" stroke="#3b0f70" stroke-opacity="0.76" stroke-width="2.6" stroke-linecap="round" fill="none"/>
<path d="M200.5 86.9h0M188.0 178.9h0M209.8 115.7h0M178.8 65.1h0M177.1 15.5h0M165.3 111.2h0M211.3 47.5h0M204.3 85.2h0M87.3 145.7h0M325.8 60.1h0M288.7 147.3h0M167.9 176.4h0M186.9 15.9h0M81.3 92.0h0M70.0 91.9h0M71.4 47.3h0M200.3 74.2h0M115.7 34.2h0M318.5 74.2h0M179.4 110.7h0M247.4 161.7h0M222.2 35.0h0M146.2 80.4h0M294.0 69.3h0M138.4 109.5h0M144.9 169.0h0M34.1 92.3h0M39.1 99.4h0M149.6 175.0h0M225.2 31.5h0M126.1 147.2h0M131.4 140.0h0M34.6 65.1h0M265.8 76.1h0M157.3 148.9h0M138.2 139.5h0M203.2 85.7h0M36.5 94.5h0M48.8 63.2h0M247.6 91.7h0M281.3 74.2h0M250.2 39.1h0M62.2 93.0h0M183.2 108.7h0M231.5 25.6h0M325.4 83.1h0M167.5 154.2h0M161.0 25.4h0M39.9 96.7h0M231.2 60.0h0M178.8 59.3h0M126.1 37.1h0M229.1 172.1h0M280.7 149.7h0M180.7 21.0h0M58.9 131.4h0M206.3 61.3h0M209.2 46.2h0M115.6 139.6h0M330.5 78.2h0M132.4 23.4h0M129.6 154.2h0M181.8 125.3h0M190.4 16.0h0M321.3 111.8h0M197.7 14.8h0M151.1 83.8h0M116.2 41.1h0M98.3 80.5h0M51.0 56.8h0M325.2 100.4h0M134.9 28.1h0M113.4 139.5h0M250.6 114.0h0M318.7 83.7h0M128.8 109.3h0M323.2 75.2h0M304.5 117.3h0M154.2 164.7h0M298.0 64.9h0M265.7 79.5h0M325.8 122.1h0M264.8 55.0h0M128.8 100.0h0M39.7 96.4h0M167.3 173.9h0M191.6 142.6h0M314.1 59.9h0M128.7 156.8h0M147.9 84.1h0M317.9 111.7h0M93.6 61.9h0M330.1 99.0h0M250.8 46.9h0M320.6 112.8h0M188.4 96.2h0M193.0 106.0h0M170.8 19.3h0M191.0 13.5h0M250.7 157.6h0M80.3 36.4h0M225.4 145.1h0M226.2 31.6h0M316.7 74.3h0M62.4 61.3h0M258.0 156.7h0M254.9 100.5h0M101.0 79.6h0M292.2 144.8h0M110.7 136.1h0M105.9 161.1h0M170.3 97.4h0M41.3 83.9h0M314.4 71.0h0M186.2 158.7h0M219.4 62.4h0M191.9 98.3h0M204.1 12.3h0M314.0 57.9h0M89.6 144.4h0M149.8 101.5h0M218.0 162.3h0M212.6 86.8h0M267.5 73.6h0M56.1 72.6h0M233.7 24.6h0M268.6 52.8h0M190.8 160.5h0M105.8 98.2h0M315.4 69.5h0M313.9 100.4h0M113.0 35.1h0M56.2 88.8h0M271.9 50.7h0M283.8 116.9h0M196.6 18.3h0M182.9 66.6h0M197.6 10.1h0M284.2 116.4h0M85.5 62.8h0M197.5 13.8h0M190.4 169.4h0M53.6 57.8h0M276.6 134.5h0M265.0 49.3h0M79.1 53.0h0M54.1 76.8h0M156.0 154.4h0M48.4 100.0h0M177.9 64.2h0M124.7 151.8h0M91.2 128.3h0M215.5 46.4h0M266.8 81.0h0M203.6 45.8h0M102.9 77.5h0M269.6 134.4h0M221.8 62.5h0M243.4 59.0h0M174.8 178.7h0M60.5 127.5h0M135.0 105.0h0M185.7 17.5h0M256.5 145.3h0M314.2 128.3h0" stroke="#3b0f70" stroke-opacity="0.76" stroke-width="2.6" stroke-linecap="round" fill="none"/>
<path d="M214.8 50.1h0M95.2 98.8h0M191.5 121.0h0M36.3 115.7h0M219.5 26.6h0M210.3 101.0h0M58.8 85.9h0M212.0 49.5h0M134.7 164.0h0M161.7 109.5h0M112.2 46.4h0M152.1 153.3h0M160.3 148.4h0M268.5 48.6h0M219.3 53.0h0M132.8 139.3h0M199.5 52.5h0M169.6 114.8h0M149.9 176.8h0M39.8 67.1h0M185.5 169.3h0M220.9 91.2h0M250.7 98.9h0M261.8 83.9h0M261.8 50.2h0M206.9 75.6h0M199.5 14.2h0M97.2 153.7h0M315.1 100.3h0M125.7 40.2h0M195.2 13.3h0M115.7 140.2h0M182.9 169.7h0M118.7 57.1h0M138.8 81.4h0M191.0 47.3h0M254.9 97.5h0M178.0 148.6h0M301.4 128.3h0M234.2 48.5h0M202.2 121.1h0M239.0 105.3h0M229.9 160.6h0M73.7 93.5h0M64.9 144.4h0M84.7 153.5h0M268.8 51.8h0M200.4 111.2h0M71.2 50.4h0M52.0 55.3h0M280.7 139.7h0M249.3 47.8h0M293.4 76.1h0M325.4 120.9h0M261.4 83.5h0M126.6 148.9h0M168.6 97.7h0M182.7 150.7h0M61.9 90.7h0M84.9 34.8h0M223.6 32.0h0M97.2 42.9h0M230.6 96.8h0M77.7 82.1h0M108.4 134.6h0M106.5 159.7h0M188.9 173.1h0M293.5 133.8h0M121.2 146.4h0M77.2 45.1h0M162.2 14.8h0M80.5 91.6h0M211.9 158.3h0M186.3 179.2h0M107.1 135.2h0M43.2 98.5h0M287.7 147.1h0M136.0 138.0h0M175.1 102.6h0M297.3 141.0h0M117.0 160.1h0M45.8 102.7h0M193.3 166.8h0M151.1 168.2h0M203.3 14.0h0M50.3 97.1h0M242.3 54.0h0M322.8 75.0h0M326.6 101.0h0M98.3 40.2h0M186.2 14.0h0M207.9 170.0h0M33.8 111.9h0M171.1 158.2h0M153.4 103.8h0M172.7 178.3h0M272.8 77.8h0M105.1 142.6h0M313.9 118.5h0M130.9 161.7h0M52.5 61.2h0M143.9 84.9h0M279.7 73.4h0M68.0 46.3h0M116.4 139.3h0M138.9 23.7h0M283.7 133.7h0M267.1 48.0h0M210.0 109.3h0M187.8 176.6h0M41.7 102.7h0M90.1 97.3h0M107.0 82.4h0M190.8 164.8h0M139.5 108.1h0M205.1 86.7h0M138.0 111.0h0M214.9 60.6h0M55.9 136.5h0M35.0 102.4h0M96.1 59.1h0M153.6 19.8h0M285.1 115.1h0M278.2 135.5h0M34.9 79.4h0M270.0 54.0h0M145.5 77.9h0M322.7 74.8h0M149.0 23.0h0M179.4 111.3h0M49.9 64.2h0M242.8 157.5h0M125.5 76.9h0M189.4 52.7h0M42.0 100.7h0M91.5 126.4h0M105.4 139.1h0M187.3 115.0h0M103.6 39.7h0M195.3 157.2h0M175.4 65.1h0M197.0 114.3h0M222.8 43.8h0M121.2 75.5h0M277.4 128.8h0M147.9 117.8h0M216.8 48.4h0M50.0 79.1h0M114.3 101.8h0M110.8 80.4h0M165.0 99.6h0M199.5 167.9h0M49.3 118.0h0M108.4 40.8h0M49.4 59.1h0M172.9 178.0h0M289.2 107.0h0M156.9 105.5h0M184.7 143.3h0M165.1 92.6h0M194.1 98.6h0M171.5 145.6h0M50.3 77.3h0M87.3 145.7h0M43.6 93.1h0" stroke="#3b0f70" stroke-opacity="0.76" stroke-width="2.6" stroke-linecap="round" fill="none"/>
<path d="M235.8 85.8h0M166.9 66.4h0M155.3 181.0h0M186.2 107.8h0M300.8 108.9h0M187.4 160.4h0M321.9 74.2h0M78.7 137.7h0M70.0 94.2h0M46.9 58.4h0M321.2 118.1h0M76.7 53.2h0M147.1 87.5h0M235.1 57.7h0M155.7 180.0h0M65.2 144.6h0M103.3 51.5h0M179.8 166.8h0M258.8 52.0h0M77.1 71.4h0M98.0 96.2h0M152.9 80.2h0M65.4 92.7h0M188.0 157.7h0M263.6 48.8h0M282.1 129.2h0M327.5 60.4h0M228.7 111.7h0M206.2 18.0h0M204.3 73.9h0M266.8 138.0h0M235.1 95.9h0M207.2 15.7h0M237.4 40.1h0M197.0 158.9h0M92.5 63.4h0M188.2 143.7h0M113.0 49.3h0M64.5 134.9h0M105.9 80.3h0M52.0 81.2h0M98.8 96.4h0M121.8 144.0h0M302.8 116.6h0M326.7 60.6h0M232.9 146.4h0M149.9 108.1h0M169.0 148.7h0M204.6 169.8h0M50.7 79.3h0M283.2 73.2h0M256.2 49.3h0M237.9 170.5h0M269.2 155.5h0M233.5 68.4h0M171.1 176.3h0M150.3 80.2h0M99.0 43.1h0M210.3 69.5h0M156.5 151.7h0M186.4 144.1h0M144.3 162.0h0M153.1 109.5h0M201.6 176.3h0M156.2 154.0h0M224.7 59.8h0M85.7 34.7h0M72.8 63.5h0M238.2 154.2h0M79.8 92.0h0M201.5 178.3h0M134.1 165.1h0M115.5 152.0h0M229.9 113.6h0M104.9 80.3h0M148.6 17.1h0M184.3 117.2h0M124.6 155.6h0M168.5 89.7h0M205.2 72.8h0M152.4 167.4h0M74.0 69.8h0M135.0 140.8h0M338.5 96.8h0M133.8 94.8h0M283.2 71.4h0M82.3 54.1h0M131.7 160.2h0M238.7 153.0h0M142.7 92.6h0M184.4 63.3h0M188.2 172.2h0M170.5 24.3h0M254.7 33.6h0M215.2 163.5h0M152.9 107.0h0M120.9 103.3h0M165.4 112.5h0M42.3 71.6h0M246.8 88.2h0M34.0 66.2h0M290.4 124.9h0M241.2 100.4h0M140.6 140.7h0M110.8 74.0h0M220.5 19.5h0M179.3 67.3h0M247.5 74.4h0M107.0 144.3h0M122.5 154.1h0M182.6 125.2h0M269.6 73.7h0M34.8 111.5h0M289.0 87.6h0M33.3 82.9h0M40.3 117.1h0M194.1 84.0h0M160.3 166.7h0M158.7 71.5h0M85.6 45.3h0M42.6 92.2h0M137.3 25.4h0M148.1 142.6h0M184.7 45.7h0M79.0 93.0h0M319.7 110.4h0M184.4 46.3h0M167.8 114.4h0M240.9 35.7h0M60.7 97.7h0M150.6 35.5h0M99.2 155.1h0M79.0 51.6h0M101.5 161.5h0M185.0 11.4h0M151.8 164.6h0M250.3 87.0h0M54.1 49.6h0M201.5 177.1h0M199.7 44.1h0M46.2 124.0h0M240.8 36.6h0M199.1 93.0h0M116.8 109.0h0M83.8 47.6h0M114.3 31.3h0M98.1 60.4h0M186.5 170.2h0M197.5 15.7h0M233.5 30.6h0M200.4 14.3h0M225.3 38.9h0M127.7 99.3h0M194.9 108.3h0M233.5 103.4h0M218.4 19.8h0M151.5 156.1h0M66.8 129.1h0M247.5 139.6h0M45.5 99.0h0M214.5 115.6h0M182.2 18.0h0M79.3 69.4h0M178.9 101.9h0" stroke="#3b0f70" stroke-opacity="0.76" stroke-width="2.6" stroke-linecap="round" fill="none"/>
<path d="M72.8 72.1h0M115.9 95.2h0M74.0 62.6h0M248.2 59.4h0M121.7 73.4h0M282.0 68.7h0M87.9 97.6h0M63.3 81.0h0M314.4 101.4h0M282.6 130.5h0M102.8 101.1h0M250.1 172.4h0M172.3 22.8h0M59.7 134.3h0M146.7 75.9h0M173.2 169.1h0M96.9 77.9h0M148.8 83.0h0M177.1 20.4h0M241.0 143.2h0M62.5 74.5h0M193.2 108.4h0M53.4 79.0h0M224.7 91.7h0M324.5 77.8h0M101.6 58.5h0M137.3 80.8h0M247.8 67.6h0M248.4 54.6h0M164.7 19.3h0M129.8 98.5h0M35.5 92.4h0M165.3 67.3h0M182.1 67.8h0M239.3 180.2h0M92.6 41.8h0M225.7 157.3h0M96.6 60.5h0M78.4 147.6h0M40.9 87.7h0M31.3 68.3h0M193.2 121.9h0M75.4 70.3h0M104.1 98.9h0M185.3 118.9h0M162.1 71.6h0M129.8 96.2h0M246.0 142.5h0M81.3 148.0h0M189.3 152.5h0M217.1 86.0h0M189.6 109.1h0M208.4 19.9h0M236.6 68.6h0M317.1 102.3h0M164.7 164.0h0M278.2 130.6h0M173.7 18.6h0M146.1 118.2h0M318.5 107.2h0M142.4 46.7h0M105.0 152.1h0M130.8 139.6h0M189.3 15.0h0M176.2 65.4h0M177.5 163.6h0M253.8 100.5h0M234.5 162.8h0M250.8 90.9h0M306.5 123.0h0M275.3 117.8h0M172.8 15.1h0M254.5 102.7h0M237.3 179.6h0M196.0 79.6h0M272.1 92.8h0M231.3 89.3h0M72.7 51.6h0M207.3 168.4h0M164.4 161.4h0M74.0 74.8h0M239.6 90.7h0M307.2 115.2h0M134.7 22.6h0M283.6 145.9h0M207.3 168.9h0M122.9 140.4h0M290.8 121.8h0M283.0 75.6h0M274.6 86.7h0M240.0 52.5h0M87.0 34.0h0M277.1 121.0h0M306.9 104.4h0M181.6 58.6h0M188.9 60.7h0M218.9 175.6h0M111.6 48.7h0M261.8 82.3h0M122.2 67.8h0M257.6 146.5h0M234.4 161.1h0M114.8 158.2h0M200.2 158.9h0M263.8 50.0h0M44.3 93.3h0M245.6 111.0h0M100.1 40.4h0M177.4 102.1h0M260.8 165.1h0M207.2 47.1h0M192.1 85.7h0M190.9 99.5h0M263.4 76.6h0M167.7 67.7h0M62.1 73.9h0M189.1 154.1h0M180.1 63.1h0M317.3 86.7h0M105.8 38.2h0M104.5 98.2h0M100.3 96.1h0M88.0 58.7h0M215.0 44.9h0M318.4 59.2h0M64.1 83.5h0M55.5 87.6h0M220.4 20.4h0M228.9 40.0h0M278.5 83.2h0M43.8 75.5h0M219.2 98.0h0M108.2 78.2h0M145.0 141.4h0M89.8 32.0h0M231.8 31.4h0M211.7 155.8h0M166.3 26.4h0M274.9 134.9h0M257.6 58.5h0M285.0 77.7h0M222.2 62.1h0M78.5 46.3h0M177.3 164.3h0M308.7 130.0h0M222.0 62.1h0M160.8 63.3h0M170.8 174.6h0M191.6 90.0h0M157.3 18.9h0M42.8 124.4h0M103.5 161.4h0M291.7 143.0h0M282.9 71.2h0M89.2 36.6h0M282.4 130.6h0M193.7 99.8h0M178.2 113.1h0M237.8 110.5h0M288.1 118.2h0M171.4 14.4h0M201.7 16.5h0M206.4 162.3h0M268.0 80.3h0" stroke="#3b0f70" stroke-opacity="0.76" stroke-width="2.6" stroke-linecap="round" fill="none"/>
<path d="M205.7 49.1h0M46.1 118.0h0M267.0 52.9h0M80.3 81.7h0M175.6 101.4h0M247.4 67.3h0M168.7 21.9h0M33.0 92.0h0M200.5 126.8h0M132.8 164.9h0M167.4 149.6h0M122.5 111.3h0M91.2 61.3h0M236.9 77.2h0M268.6 83.0h0M276.7 120.8h0M113.3 42.4h0M265.4 49.9h0M332.9 99.2h0M295.6 143.9h0M81.6 149.8h0M329.2 59.5h0M59.1 130.3h0M147.9 146.9h0M303.9 127.9h0M154.8 110.3h0M175.3 117.7h0M197.3 92.4h0M338.6 99.7h0M186.0 98.1h0M91.2 35.0h0M175.5 144.9h0M282.8 70.7h0M221.0 29.3h0M154.8 103.0h0M268.6 134.5h0M49.6 62.1h0M139.1 79.5h0M101.9 155.4h0M245.7 157.8h0M197.4 16.1h0M143.2 48.1h0M174.4 147.2h0M78.7 38.1h0M71.3 49.2h0M161.1 15.0h0M76.3 63.5h0M321.1 86.0h0M72.0 63.5h0M239.1 38.0h0M226.0 36.8h0M168.4 148.4h0M306.8 137.0h0M254.6 46.4h0M326.0 71.1h0M202.4 158.2h0M44.3 100.0h0M163.0 176.3h0M112.1 81.5h0M233.0 31.4h0M289.3 107.5h0M155.0 78.7h0M197.9 11.6h0M38.3 102.3h0M101.0 58.7h0M63.6 130.0h0M256.4 106.6h0M209.2 102.4h0M80.1 71.4h0M168.0 63.6h0M318.7 82.9h0M218.5 25.4h0M164.8 96.8h0M250.6 39.7h0M217.5 90.8h0M140.0 165.7h0M150.8 177.4h0M166.7 27.6h0M211.0 115.5h0M138.5 108.3h0M162.4 166.1h0M259.0 154.3h0M72.7 71.0h0M192.0 47.3h0M262.5 80.5h0M181.2 151.1h0M208.2 18.0h0M212.0 50.3h0M99.4 149.7h0M194.8 156.5h0M105.7 39.3h0M186.0 68.3h0M119.5 162.3h0M78.6 126.6h0M53.0 58.8h0M177.0 174.8h0M231.7 42.5h0M49.0 82.3h0M247.4 140.6h0M64.6 98.9h0M229.4 94.5h0M294.7 66.4h0M268.7 133.8h0M300.4 136.2h0M92.3 127.3h0M322.2 121.8h0M199.1 85.3h0M101.2 55.6h0M154.1 20.1h0M55.2 71.3h0M302.4 144.5h0M266.0 47.5h0M236.6 53.4h0M91.4 151.0h0M124.3 39.8h0M247.6 176.8h0M155.8 101.2h0M187.2 21.6h0M286.2 68.6h0M84.4 84.6h0M317.4 75.0h0M138.2 26.0h0M69.0 63.9h0M154.8 102.5h0M31.4 67.4h0M202.5 52.7h0M40.0 72.6h0M240.0 38.4h0M225.5 177.8h0M226.1 99.9h0M322.2 85.0h0M139.4 26.6h0M81.6 135.6h0M117.1 44.2h0M169.9 147.3h0M111.8 42.8h0M53.4 64.3h0M176.0 59.9h0M221.4 20.1h0M51.2 93.6h0M153.9 15.2h0M145.5 106.2h0M135.7 96.1h0M78.3 124.9h0M246.9 139.9h0M225.2 38.7h0M39.3 87.7h0M200.4 179.5h0M159.1 17.7h0M244.7 69.1h0M60.4 62.0h0M216.1 92.9h0M230.6 58.5h0M41.7 87.7h0M229.0 87.3h0M320.2 82.9h0M170.4 97.6h0M56.1 128.5h0M253.4 140.7h0M176.8 178.7h0M185.1 12.9h0M74.9 61.7h0M307.1 124.8h0M278.8 136.6h0M325.0 100.2h0M284.5 76.2h0M62.2 98.2h0M279.6 86.1h0M238.8 86.7h0M156.4 102.4h0M177.6 28.6h0M282.9 127.8h0M261.3 81.0h0" stroke="#8c2981" stroke-opacity="0.76" stroke-width="2.6" stroke-linecap="round" fill="none"/>
<path d="M185.7 178.9h0M271.7 79.5h0M177.3 19.8h0M176.5 177.3h0M187.8 16.2h0M248.2 92.7h0M161.1 108.8h0M230.0 107.4h0M307.5 117.7h0M167.4 167.7h0M92.7 43.3h0M169.2 163.8h0M42.3 69.6h0M237.7 143.1h0M76.8 44.8h0M184.9 67.9h0M218.2 92.0h0M40.7 98.4h0M131.4 37.4h0M193.4 52.1h0M150.7 20.5h0M212.3 102.3h0M189.2 129.8h0M112.8 90.0h0M191.7 19.6h0M193.0 100.7h0M279.8 70.3h0M79.4 55.0h0M181.9 170.3h0M219.0 19.2h0M62.8 125.4h0M286.5 147.0h0M121.7 149.9h0M85.1 41.6h0M302.9 137.4h0M230.9 50.1h0M64.7 129.4h0M257.2 152.3h0M100.4 151.8h0M38.8 119.7h0M116.5 33.0h0M147.0 18.9h0M214.9 85.3h0M82.6 73.3h0M150.0 16.7h0M160.8 151.7h0M49.9 124.3h0M54.0 51.8h0M203.4 158.8h0M241.6 144.7h0M216.7 91.0h0M165.2 148.2h0M293.4 122.5h0M332.1 78.2h0M222.7 173.3h0M108.8 158.5h0M285.8 83.5h0M103.1 98.4h0M151.1 109.3h0M284.3 85.3h0M188.8 176.7h0M79.1 124.2h0M128.6 156.6h0M207.6 47.5h0M318.3 98.0h0M294.0 135.2h0M121.1 28.6h0M329.6 82.3h0M237.2 179.2h0M207.3 60.2h0M265.3 49.8h0M185.3 14.0h0M222.1 34.3h0M121.4 153.7h0M248.8 108.0h0M183.1 124.5h0M203.4 104.2h0M72.8 45.7h0M273.7 93.8h0M282.1 148.5h0M90.8 61.1h0M210.2 169.2h0M198.7 16.8h0M295.0 68.6h0M90.0 43.1h0M200.8 94.2h0M86.0 41.2h0M90.5 37.3h0M247.9 94.0h0M67.6 141.6h0M40.3 83.6h0M169.7 99.5h0M183.3 123.5h0M68.2 42.6h0M162.3 15.2h0M62.1 133.3h0M107.2 69.4h0M264.7 51.8h0M128.2 85.3h0M73.8 135.7h0M233.1 57.9h0M54.2 124.9h0M230.1 24.4h0M324.3 101.2h0M231.9 82.5h0M267.1 155.2h0M187.9 45.2h0M286.3 119.4h0M224.1 174.6h0M238.9 90.7h0M231.4 161.9h0M188.4 108.0h0M217.4 112.4h0M90.5 98.8h0M186.0 17.1h0M92.5 61.8h0M187.5 177.2h0M189.7 12.8h0M174.8 148.7h0M175.8 77.3h0M167.6 173.5h0M195.2 108.4h0M82.5 124.2h0M236.3 143.0h0M205.3 156.2h0M122.1 153.8h0M99.7 97.1h0M93.1 47.8h0M164.2 97.3h0M210.1 58.5h0M54.7 123.7h0M135.8 23.1h0M234.4 178.7h0M188.4 51.0h0M245.0 37.2h0M101.0 158.6h0M72.5 134.4h0M246.4 87.6h0M46.8 101.3h0M258.7 165.5h0M149.7 153.1h0M240.5 141.1h0M57.4 75.0h0M324.8 77.5h0M169.4 149.6h0M79.8 124.1h0M154.7 26.6h0M157.1 26.8h0M177.8 122.4h0M189.2 14.7h0M202.1 178.8h0M102.4 139.2h0M213.1 48.0h0M282.3 70.4h0M40.2 65.2h0M77.5 144.5h0M232.5 145.2h0M313.7 124.5h0M213.8 57.8h0M97.6 42.4h0M73.5 52.3h0M144.8 45.7h0M307.7 121.5h0M66.5 89.0h0M240.7 48.9h0M94.8 98.4h0M152.3 148.8h0M191.5 166.1h0M95.3 103.6h0M82.9 157.7h0M208.7 69.8h0M51.7 121.8h0" stroke="#8c2981" stroke-opacity="0.76" stroke-width="2.6" stroke-linecap="round" fill="none"/>
<path d="M89.0 61.4h0M196.6 113.5h0M76.1 41.9h0M82.1 45.6h0M251.2 157.8h0M129.2 36.6h0M35.0 68.9h0M187.6 52.6h0M140.4 85.3h0M255.4 149.1h0M159.9 165.0h0M207.8 72.7h0M217.9 164.1h0M147.1 152.5h0M166.8 163.5h0M206.0 61.0h0M170.7 18.4h0M210.7 166.4h0M140.6 168.6h0M122.5 163.0h0M228.0 115.2h0M179.9 151.6h0M252.0 172.6h0M155.6 179.1h0M221.3 41.2h0M307.1 106.2h0M39.4 115.9h0M213.8 19.1h0M220.8 61.4h0M249.0 92.4h0M188.9 11.4h0M108.1 144.8h0M117.3 137.4h0M179.9 178.5h0M154.8 153.7h0M146.7 87.8h0M34.1 69.9h0M244.2 146.1h0M307.9 114.0h0M164.0 95.4h0M51.2 128.5h0M126.3 98.2h0M248.3 70.9h0M118.6 160.7h0M323.2 106.0h0M231.2 150.4h0M171.0 100.6h0M245.4 77.7h0M332.1 92.8h0M142.1 44.7h0M183.2 160.4h0M99.5 79.5h0M58.5 132.7h0M218.3 92.6h0M34.9 71.7h0M70.2 40.8h0M54.8 125.1h0M66.6 128.5h0M132.0 161.3h0M58.5 97.4h0M267.7 47.9h0M234.8 85.8h0M240.7 144.1h0M177.8 117.7h0M303.9 109.3h0M226.6 83.0h0M185.9 13.8h0M75.7 94.3h0M245.4 77.5h0M245.9 140.1h0M138.8 26.0h0M113.0 108.0h0M226.7 164.2h0M102.4 38.5h0M59.0 104.0h0M168.4 27.3h0M111.3 39.5h0M86.6 98.8h0M163.2 98.3h0M189.4 52.5h0M313.3 67.7h0M65.6 127.8h0M215.9 179.3h0M166.8 110.2h0M114.8 81.9h0M56.3 125.1h0M189.8 100.2h0M284.2 135.7h0M47.8 77.6h0M138.6 164.8h0M139.0 22.4h0M223.7 167.7h0M127.3 95.9h0M75.1 70.2h0M157.6 14.2h0M54.2 62.0h0M206.7 168.9h0M215.4 178.7h0M116.7 108.7h0M151.7 156.1h0M39.2 114.0h0M79.8 152.3h0M301.2 144.6h0M225.2 85.6h0M322.4 87.4h0M66.1 129.1h0M262.0 85.2h0M122.1 38.2h0M218.8 19.0h0M269.0 155.2h0M74.8 93.8h0M130.8 39.4h0M130.2 110.1h0M206.4 66.7h0M55.2 124.1h0M163.8 81.4h0M146.9 24.2h0M232.8 143.5h0M208.5 51.5h0M114.8 46.4h0M193.3 45.3h0M266.1 83.4h0M186.5 156.3h0M290.8 108.6h0M94.6 148.7h0M203.4 86.9h0M64.6 93.4h0M155.8 80.8h0M38.9 116.4h0M148.0 81.1h0M126.6 142.1h0M169.1 77.9h0M55.1 48.6h0M193.8 108.3h0M249.1 38.9h0M148.2 81.3h0M259.4 157.3h0M180.6 179.6h0M181.9 165.7h0M162.0 64.5h0M214.0 59.5h0M155.9 27.2h0M127.3 148.2h0M172.4 169.5h0M108.0 71.5h0M328.8 60.6h0M173.3 178.8h0M221.7 28.8h0M257.1 167.6h0M89.2 35.1h0M236.8 172.2h0M148.5 103.0h0M167.9 113.3h0M167.6 26.8h0M37.6 104.0h0M187.2 162.3h0M223.1 34.7h0M121.6 136.2h0M42.0 121.0h0M248.0 76.6h0M303.7 138.5h0M136.2 85.2h0M270.2 137.3h0M177.4 123.1h0M167.6 146.5h0M143.4 117.8h0M238.9 106.9h0M181.8 120.1h0M145.6 87.3h0M128.1 100.8h0M143.2 167.4h0M160.7 180.6h0" stroke="#8c2981" stroke-opacity="0.76" stroke-width="2.6" stroke-linecap="round" fill="none"/>
<path d="M221.7 90.4h0M118.6 138.8h0M230.2 150.1h0M45.6 92.8h0M109.6 160.3h0M207.9 19.6h0M226.7 83.9h0M187.6 108.2h0M321.0 112.7h0M124.9 37.5h0M45.5 118.9h0M141.3 114.2h0M319.1 55.3h0M52.4 104.0h0M299.9 123.9h0M191.1 124.6h0M38.5 120.9h0M139.8 26.1h0M226.8 53.5h0M187.3 95.1h0M281.0 71.7h0M209.6 14.8h0M171.9 170.9h0M87.8 87.8h0M229.3 84.5h0M182.2 23.1h0M61.5 76.4h0M99.9 59.9h0M277.5 73.7h0M184.7 67.9h0M266.8 49.1h0M123.9 97.9h0M172.9 24.3h0M73.6 139.0h0M249.9 173.5h0M183.6 146.2h0M191.6 69.9h0M34.1 94.6h0M296.8 65.6h0M236.0 146.4h0M177.6 112.2h0M62.5 126.0h0M108.6 73.3h0M100.7 60.3h0M190.4 95.5h0M147.8 85.5h0M260.9 85.1h0M78.7 52.6h0M144.6 168.3h0M325.7 102.3h0M41.3 65.8h0M78.1 46.5h0M229.9 24.0h0M77.8 52.3h0M47.8 60.1h0M66.1 141.1h0M208.3 86.1h0M186.9 113.3h0M230.9 51.6h0M138.1 98.4h0M104.7 99.3h0M138.5 78.8h0M123.5 75.7h0M330.9 99.0h0M192.0 59.8h0M58.8 74.6h0M317.4 75.0h0M252.3 48.0h0M202.4 122.5h0M243.3 67.6h0M251.7 44.8h0M147.0 28.1h0M330.8 94.9h0M223.7 177.1h0M114.8 107.1h0M125.6 36.5h0M283.4 149.4h0M212.2 60.2h0M165.2 147.1h0M186.4 167.9h0M164.1 81.5h0M196.3 17.2h0M77.0 92.6h0M99.0 56.4h0M167.4 169.6h0M190.6 154.2h0M211.5 118.0h0M95.0 39.4h0M169.9 100.0h0M68.1 63.9h0M37.1 68.0h0M89.7 38.5h0M189.5 64.0h0M308.3 122.3h0M49.9 128.2h0M286.7 70.4h0M185.8 46.9h0M59.2 132.6h0M78.1 84.1h0M304.8 134.3h0M217.9 43.6h0M47.7 53.0h0M252.5 94.5h0M128.3 100.1h0M36.6 92.4h0M117.6 95.5h0M227.9 162.3h0M234.7 59.1h0M175.5 172.0h0M303.5 127.2h0M46.8 117.0h0M138.3 164.5h0M52.6 58.3h0M217.2 112.9h0M147.8 167.8h0M114.7 158.1h0M48.0 127.9h0M213.2 45.4h0M78.2 38.7h0M327.1 85.0h0M224.5 175.2h0M290.9 84.5h0M178.2 161.9h0M236.8 144.6h0M166.5 95.4h0M169.7 71.3h0M160.8 166.2h0M234.5 83.7h0M233.5 114.1h0M229.2 39.9h0M105.0 98.1h0M254.6 97.0h0M316.9 85.6h0M267.9 48.2h0M170.4 157.8h0M146.7 27.6h0M45.0 102.9h0M286.9 134.8h0M96.2 98.4h0M193.4 85.4h0M155.2 25.7h0M115.4 58.9h0M67.7 131.8h0M48.7 93.2h0M248.9 68.3h0M83.0 138.4h0M264.6 101.4h0M152.4 84.1h0M124.8 76.8h0M166.5 162.3h0M106.6 70.0h0M334.6 93.4h0M325.1 67.7h0M88.2 43.2h0M214.6 116.5h0M132.9 161.3h0M208.4 110.4h0M121.8 137.3h0M195.5 90.1h0M277.6 72.8h0M263.5 53.8h0M145.8 141.1h0M175.7 178.1h0M99.3 55.4h0M177.4 172.0h0M100.1 135.5h0M179.8 146.4h0M317.2 100.5h0M193.2 162.8h0M189.4 100.6h0M220.1 97.7h0M168.0 168.6h0" stroke="#8c2981" stroke-opacity="0.76" stroke-width="2.6" stroke-linecap="round" fill="none"/>
<path d="M178.4 61.7h0M307.0 113.8h0M281.4 137.3h0M187.2 46.7h0M183.5 110.4h0M231.5 23.4h0M234.5 160.9h0M304.0 66.7h0M293.2 118.6h0M94.1 103.8h0M88.1 159.3h0M152.0 104.1h0M295.5 68.6h0M132.8 41.0h0M34.6 102.5h0M151.1 103.2h0M289.6 69.3h0M230.0 42.2h0M45.0 75.4h0M190.3 15.6h0M241.3 90.9h0M186.6 170.2h0M277.9 148.5h0M117.7 108.4h0M78.6 35.1h0M86.5 39.5h0M191.4 46.6h0M189.3 96.8h0M195.7 42.1h0M231.4 150.6h0M246.7 141.9h0M111.8 28.9h0M291.1 106.5h0M326.8 81.9h0M187.7 48.5h0M80.8 149.7h0M210.2 157.7h0M154.2 179.9h0M245.2 174.8h0M184.3 112.3h0M191.5 101.2h0M303.9 108.8h0M91.2 42.3h0M63.7 49.8h0M31.4 73.6h0M311.2 113.5h0M103.8 149.1h0M93.2 148.9h0M304.5 122.2h0M188.4 13.5h0M62.9 63.8h0M38.4 118.6h0M218.8 24.6h0M153.3 165.8h0M192.9 60.0h0M126.8 96.8h0M157.1 25.4h0M101.8 155.7h0M184.7 109.6h0M183.1 47.2h0M165.3 97.1h0M287.3 116.7h0M201.8 128.4h0M260.6 86.5h0M285.6 125.0h0M238.7 61.6h0M80.3 124.0h0M138.2 77.6h0M63.0 54.3h0M198.4 125.2h0M208.0 51.4h0M143.8 94.6h0M282.7 85.8h0M187.3 178.7h0M177.1 177.1h0M93.9 99.8h0M269.2 51.4h0M80.2 95.5h0M86.3 71.9h0M140.8 164.7h0M184.4 48.4h0M47.7 94.7h0M59.9 96.2h0M238.0 41.7h0M216.2 17.8h0M131.3 107.9h0M249.6 87.5h0M290.3 119.8h0M138.5 164.7h0M189.2 153.8h0M161.2 66.4h0M52.7 51.1h0M75.6 135.8h0M202.9 49.9h0M219.4 28.0h0M171.7 87.4h0M105.1 152.6h0M40.9 93.1h0M42.3 94.8h0M245.3 140.9h0M192.0 119.7h0M268.0 154.5h0M106.3 136.1h0M107.7 161.4h0M138.2 47.0h0M85.4 85.3h0M156.8 25.9h0M101.8 54.4h0M172.6 170.6h0M242.4 76.2h0M155.7 62.2h0M198.0 125.4h0M40.8 87.2h0M188.4 14.8h0M39.6 118.3h0M163.1 169.0h0M88.7 82.2h0M176.9 165.7h0M38.6 115.7h0M309.4 117.8h0M323.0 60.9h0M39.6 87.5h0M312.6 60.8h0M310.9 120.5h0M155.6 108.2h0M170.8 100.9h0M230.8 151.4h0M284.6 77.1h0M318.7 88.6h0M199.6 176.3h0M137.3 79.1h0M50.1 93.4h0M234.7 96.4h0M332.6 93.4h0M191.4 47.2h0M187.8 22.1h0M263.4 80.5h0M138.1 23.9h0M181.3 20.1h0M276.3 129.7h0M31.5 91.4h0M265.5 76.7h0M133.0 41.0h0M178.4 85.3h0M31.3 95.9h0M300.1 68.5h0M176.7 171.2h0M186.8 47.5h0M265.2 48.7h0M247.8 48.5h0M149.4 85.9h0M229.8 87.4h0M253.4 86.3h0M77.4 137.5h0M166.8 146.9h0M101.4 52.2h0M228.8 43.6h0M134.5 139.1h0M326.7 85.2h0M181.0 109.0h0M268.7 52.5h0M261.1 55.5h0M321.0 120.9h0M188.6 109.8h0M107.6 81.0h0M59.2 132.8h0M196.9 154.8h0M154.8 141.0h0M320.0 59.6h0M302.1 67.5h0M184.8 14.1h0M63.1 74.2h0" stroke="#8c2981" stroke-opacity="0.76" stroke-width="2.6" stroke-linecap="round" fill="none"/>
<path d="M197.0 115.4h0M44.2 119.3h0M76.6 135.1h0M122.4 164.4h0M250.4 70.9h0M130.8 161.5h0M133.2 24.9h0M115.8 101.9h0M240.7 86.8h0M91.1 58.9h0M284.8 68.7h0M265.9 51.7h0M203.2 12.2h0M164.7 164.7h0M235.8 144.3h0M133.3 139.2h0M127.3 156.4h0M52.9 51.2h0M116.8 45.5h0M226.8 118.8h0M174.3 118.1h0M329.4 62.4h0M188.5 52.9h0M126.4 52.9h0M324.5 100.5h0M84.6 72.3h0M186.8 162.1h0M288.5 67.4h0M146.7 112.7h0M132.1 38.7h0M48.7 84.7h0M146.1 150.0h0M264.1 88.4h0M194.2 115.4h0M89.0 128.7h0M266.5 47.5h0M248.2 142.5h0M54.9 54.7h0M181.5 64.1h0M85.2 35.7h0M49.8 95.5h0M224.0 86.1h0M262.4 85.2h0M169.0 62.5h0M100.1 96.0h0M79.8 67.8h0M247.2 84.2h0M146.5 19.3h0M297.1 114.1h0M164.4 100.2h0M87.0 96.5h0M43.8 100.7h0M295.3 66.2h0M163.7 96.5h0M173.6 148.7h0M151.3 35.5h0M162.1 68.2h0M251.7 45.8h0M317.7 59.4h0M268.3 74.2h0M115.2 139.4h0M163.6 24.7h0M121.4 136.7h0M184.8 155.1h0M150.0 112.6h0M260.3 162.9h0M261.0 159.9h0M163.8 162.2h0M88.1 147.7h0M190.5 122.1h0M91.7 152.9h0M218.0 118.6h0M58.9 73.9h0M133.2 93.8h0M258.1 107.2h0M54.9 131.3h0M77.1 41.2h0M160.7 101.1h0M319.1 88.4h0M155.2 143.0h0M141.1 91.8h0M188.3 50.7h0M180.8 65.9h0M274.8 76.7h0M126.4 37.1h0M203.1 124.5h0M275.5 136.9h0M281.1 148.7h0M185.8 159.2h0M74.3 93.7h0M197.7 155.4h0M58.9 125.6h0M198.4 127.9h0M99.4 147.8h0M190.3 160.6h0M146.0 165.5h0M299.5 65.1h0M300.3 125.8h0M213.4 159.8h0M52.5 83.0h0M188.2 162.2h0M336.6 100.6h0M120.0 135.4h0M67.8 93.7h0M168.4 161.6h0M213.4 155.7h0M79.3 39.8h0M171.7 160.6h0M173.1 85.6h0M231.9 178.7h0M116.6 44.7h0M215.1 17.5h0M186.7 153.8h0M93.6 41.3h0M174.6 164.0h0M144.2 85.9h0M89.7 32.4h0M267.0 54.2h0M66.2 129.1h0M56.9 89.7h0M97.8 103.8h0M121.9 37.9h0M109.7 78.7h0M72.2 70.4h0M205.1 48.8h0M229.6 89.4h0M53.0 63.4h0M171.0 62.9h0M85.0 70.9h0M189.8 123.7h0M233.8 48.2h0M57.7 57.0h0M284.8 84.3h0M231.5 58.5h0M298.9 117.0h0M198.9 157.4h0M161.4 97.2h0M110.3 101.1h0M169.6 19.2h0M210.5 169.3h0M108.8 68.6h0M128.4 108.5h0M186.1 172.1h0M95.0 99.7h0M163.5 17.2h0M40.0 122.8h0M319.0 121.0h0M264.4 164.3h0M52.1 97.6h0M126.0 27.6h0M321.4 98.7h0M262.4 100.0h0M211.9 117.6h0M236.0 96.5h0M72.8 139.8h0M178.3 60.4h0M85.7 37.7h0M175.3 17.3h0M223.4 163.4h0M215.1 60.5h0M32.0 89.2h0M308.4 126.8h0M57.1 81.2h0M44.4 125.3h0M90.5 148.7h0M206.3 63.3h0M190.5 12.2h0M234.3 85.0h0M238.9 110.0h0M227.8 83.3h0M322.3 120.9h0M254.7 149.8h0" stroke="#8c2981" stroke-opacity="0.76" stroke-width="2.6" stroke-linecap="round" fill="none"/>
<path d="M260.4 102.7h0M59.3 75.1h0M152.0 111.0h0M71.4 43.0h0M79.4 124.1h0M237.8 50.5h0M171.0 95.5h0M113.7 33.6h0M78.2 83.1h0M233.6 52.4h0M79.3 66.4h0M183.0 67.6h0M51.3 61.0h0M254.7 146.9h0M74.9 53.9h0M145.7 141.9h0M192.9 165.8h0M78.7 68.1h0M215.3 27.4h0M56.0 81.0h0M220.8 91.4h0M317.3 59.1h0M220.8 114.5h0M251.6 110.1h0M92.6 46.3h0M248.3 114.9h0M230.0 151.1h0M93.6 100.3h0M150.0 111.1h0M232.1 176.5h0M144.9 114.0h0M213.4 16.3h0M161.8 99.1h0M116.5 60.7h0M294.2 105.2h0M259.1 51.5h0M43.0 101.1h0M99.4 146.2h0M88.6 97.3h0M183.1 122.2h0M188.7 105.4h0M33.5 81.4h0M186.2 124.3h0M183.7 52.0h0M264.1 104.9h0M127.5 28.2h0M188.8 85.9h0M140.9 166.6h0M311.2 64.7h0M265.7 59.1h0M115.6 44.2h0M49.7 82.1h0M162.8 148.4h0M94.3 48.0h0M164.5 63.4h0M82.7 151.5h0M277.0 136.9h0M222.3 60.1h0M87.8 65.0h0M229.9 49.6h0M163.7 71.2h0M125.9 145.3h0M207.0 170.7h0M233.6 145.9h0M160.5 147.9h0M265.3 49.8h0M247.2 85.5h0M77.7 40.0h0M217.9 112.4h0M290.5 121.6h0M215.9 164.4h0M249.8 48.6h0M177.8 57.4h0M250.7 94.9h0M156.7 26.5h0M274.6 124.0h0M80.9 125.1h0M286.9 116.3h0M319.4 87.1h0M331.8 102.4h0M276.4 125.1h0M219.2 103.2h0M228.9 41.2h0M189.8 99.8h0M39.1 89.0h0M214.5 26.8h0M189.4 46.0h0M226.8 38.1h0M147.8 83.4h0M321.1 74.5h0M58.1 130.2h0M89.2 44.3h0M144.1 20.2h0M173.3 166.5h0M217.1 18.9h0M227.2 27.6h0M182.1 68.9h0M166.8 113.2h0M210.3 102.4h0M150.7 112.4h0M97.5 38.7h0M326.8 85.1h0M215.6 178.0h0M230.4 29.7h0M262.8 75.0h0M103.1 148.3h0M39.9 70.5h0M189.9 15.0h0M244.7 151.8h0M264.2 164.1h0M61.3 88.2h0M83.8 41.9h0M172.0 94.3h0M257.3 150.9h0M203.2 62.9h0M274.0 78.5h0M70.3 39.6h0M198.1 16.1h0M229.7 43.6h0M87.8 63.5h0M227.6 59.4h0M58.7 86.3h0M269.4 80.0h0M167.9 67.9h0M185.5 109.2h0M261.4 99.1h0M120.5 27.7h0M33.2 74.0h0M239.5 90.1h0M264.1 99.1h0M204.4 170.3h0M93.1 62.5h0M229.6 176.2h0M124.1 152.5h0M267.8 49.4h0M73.4 63.8h0M82.9 154.3h0M49.3 130.4h0M155.9 176.4h0M171.5 16.0h0M156.2 105.1h0M75.7 49.0h0M101.7 157.6h0M119.7 39.8h0M240.6 156.5h0M309.7 105.1h0M38.2 113.2h0M306.0 109.2h0M142.8 77.1h0M251.4 61.3h0M212.8 88.7h0M201.5 76.4h0M66.5 128.3h0M178.4 164.8h0M322.1 67.1h0M167.4 116.0h0M235.5 106.6h0M39.8 95.1h0M228.4 85.9h0M73.7 94.6h0M230.4 76.5h0M202.3 172.0h0M221.6 112.4h0M192.3 47.6h0M42.2 63.0h0M31.0 75.8h0M149.0 105.5h0M183.4 115.3h0M69.0 40.7h0M202.0 61.3h0M39.9 119.9h0M320.6 59.5h0" stroke="#8c2981" stroke-opacity="0.76" stroke-width="2.6" stroke-linecap="round" fill="none"/>
<path d="M92.6 41.0h0M98.7 55.6h0M135.1 22.7h0M171.0 114.2h0M173.5 170.6h0M126.2 29.2h0M38.8 104.1h0M90.2 35.0h0M231.8 88.0h0M139.0 91.9h0M323.6 82.2h0M281.7 137.6h0M195.1 71.1h0M190.5 109.0h0M97.7 59.8h0M233.6 87.9h0M254.1 145.5h0M115.6 137.1h0M131.2 160.1h0M187.1 53.4h0M325.6 72.9h0M183.2 20.5h0M312.8 57.2h0M249.6 173.3h0M292.6 120.9h0M82.4 94.2h0M236.1 41.1h0M188.3 108.9h0M296.0 69.3h0M99.6 58.0h0M209.9 61.6h0M177.1 179.0h0M60.0 63.2h0M165.6 110.6h0M181.3 146.6h0M95.7 48.2h0M143.5 94.0h0M211.2 86.6h0M160.4 71.7h0M149.5 155.8h0M196.3 12.4h0M218.8 43.8h0M192.0 15.1h0M152.2 107.6h0M168.0 147.6h0M147.2 85.7h0M184.2 53.3h0M156.7 18.6h0M50.8 118.7h0M204.5 61.4h0M210.1 158.7h0M201.8 16.1h0M310.1 129.8h0M236.0 172.3h0M122.7 66.9h0M46.6 77.3h0M36.3 98.9h0M108.6 153.7h0M245.6 94.4h0M163.0 101.4h0M168.2 22.9h0M41.7 121.6h0M181.2 96.5h0M215.8 19.5h0M113.6 36.8h0M191.2 120.5h0M231.5 55.8h0M167.6 86.1h0M179.4 86.3h0M332.8 99.6h0M265.6 75.5h0M80.4 149.0h0M169.7 101.7h0M166.9 96.0h0M52.6 55.6h0M216.8 49.0h0M323.2 79.0h0M109.8 155.7h0M287.0 118.9h0M148.1 141.9h0M240.9 144.3h0M118.8 110.0h0M65.7 101.6h0M94.9 96.5h0M181.5 149.2h0M178.4 17.4h0M71.8 38.9h0M328.9 83.9h0M154.4 154.0h0M337.6 95.9h0M186.7 144.8h0M263.9 98.5h0M200.4 45.9h0M65.1 61.9h0M256.8 102.0h0M91.3 126.4h0M211.4 162.0h0M153.0 86.4h0M189.6 63.3h0M339.6 99.9h0M188.4 23.8h0M89.7 128.8h0M190.3 168.8h0M250.2 96.0h0M78.7 72.6h0M91.3 148.4h0M304.3 122.1h0M305.5 115.6h0M173.2 118.8h0M331.7 79.6h0M304.2 114.8h0M104.0 137.5h0M147.9 107.2h0M124.6 108.7h0M216.0 27.5h0M82.0 74.6h0M109.5 68.1h0M83.0 35.3h0M205.7 158.7h0M322.5 75.7h0M169.9 149.2h0M109.3 69.0h0M155.0 176.5h0M172.4 145.7h0M310.9 63.9h0M68.3 129.5h0M169.2 148.3h0M282.6 148.3h0M246.8 35.0h0M229.9 46.1h0M235.2 48.0h0M225.1 114.9h0M96.8 54.2h0M142.1 140.3h0M246.8 171.9h0M94.3 102.2h0M322.1 58.5h0M55.0 86.6h0M305.2 125.3h0M179.7 176.2h0M33.3 79.3h0M279.8 137.8h0M102.0 39.7h0M181.6 19.9h0M186.8 95.8h0M186.7 106.8h0M188.2 162.6h0M115.8 49.3h0M36.2 86.8h0M177.5 17.4h0M303.2 80.9h0M156.4 107.8h0M174.3 75.8h0M226.2 145.8h0M240.9 54.8h0M291.5 121.4h0M176.6 65.2h0M240.6 91.8h0M216.9 112.3h0M178.5 144.6h0M141.2 22.1h0M132.8 164.0h0M137.6 37.4h0M319.2 55.4h0M105.0 51.0h0M140.5 45.5h0M75.7 81.8h0M34.7 95.2h0M139.5 139.0h0M244.9 88.1h0M263.2 83.8h0M195.9 79.3h0" stroke="#8c2981" stroke-opacity="0.76" stroke-width="2.6" stroke-linecap="round" fill="none"/>
<path d="M181.6 63.6h0M312.8 118.7h0M100.0 43.3h0M180.3 13.4h0M220.6 19.1h0M167.2 14.1h0M176.2 175.8h0M265.2 50.9h0M65.1 98.8h0M160.9 105.5h0M144.9 165.1h0M187.6 22.7h0M94.1 39.5h0M302.3 124.9h0M206.2 47.3h0M121.3 27.8h0M72.4 63.3h0M188.2 68.0h0M185.2 148.1h0M290.4 116.0h0M256.3 150.0h0M294.0 68.5h0M50.4 63.0h0M168.6 160.0h0M224.8 162.5h0M194.6 108.5h0M93.5 97.5h0M167.1 148.7h0M81.4 82.4h0M314.1 85.6h0M257.9 102.5h0M116.0 138.2h0M99.4 149.3h0M301.4 68.1h0M237.0 83.2h0M50.9 60.0h0M35.2 93.9h0M147.6 18.0h0M236.0 97.3h0M170.6 98.1h0M208.9 18.2h0M192.2 121.8h0M134.8 165.0h0M114.6 37.8h0M151.3 106.2h0M293.1 144.5h0M132.7 160.4h0M252.6 168.6h0M173.3 145.0h0M318.6 100.1h0M146.3 27.3h0M112.9 39.3h0M274.0 79.3h0M122.9 32.3h0M319.1 120.1h0M124.1 68.0h0M208.6 19.2h0M184.9 175.4h0M32.9 97.9h0M239.7 53.8h0M228.6 93.2h0M338.7 100.6h0M187.3 99.6h0M285.6 124.3h0M287.3 71.6h0M115.4 151.0h0M216.1 83.1h0M323.3 97.7h0M100.1 161.2h0M288.1 84.0h0M123.0 147.8h0M38.0 95.7h0M60.9 126.5h0M241.4 60.9h0M223.9 114.0h0M154.4 26.6h0M241.6 141.6h0M200.4 12.7h0M158.5 97.9h0M186.9 149.3h0M187.2 129.2h0M263.3 81.5h0M235.0 50.6h0M229.9 85.5h0M168.0 88.8h0M227.0 43.3h0M52.3 103.7h0M328.9 85.6h0M228.9 76.0h0M188.8 145.6h0M227.1 88.6h0M240.9 153.6h0M197.9 86.4h0M192.6 166.7h0M200.0 87.2h0M308.7 123.5h0M110.6 42.2h0M78.6 53.3h0M234.8 178.0h0M83.0 72.8h0M247.7 179.6h0M192.5 166.2h0M103.4 101.7h0M62.9 129.6h0M167.0 165.7h0M208.2 89.3h0M187.8 147.3h0M313.0 121.7h0M306.1 122.9h0M279.1 71.3h0M169.8 170.4h0M224.4 90.4h0M199.2 14.9h0M291.4 132.7h0M177.2 110.1h0M283.9 145.4h0M265.2 75.8h0M257.8 165.8h0M240.1 68.6h0M231.5 111.6h0M237.8 145.3h0M274.6 123.4h0M271.5 155.2h0M320.1 121.9h0M164.1 65.2h0M82.3 46.3h0M329.2 78.5h0M41.6 100.1h0M240.9 154.6h0M109.9 134.5h0M300.6 67.8h0M212.8 82.0h0M221.3 40.3h0M137.2 81.2h0M47.4 83.4h0M118.3 103.1h0M170.1 97.9h0M139.9 21.4h0M231.0 172.7h0M258.7 48.4h0M172.3 87.6h0M230.6 152.2h0M148.9 155.6h0M289.4 108.2h0M164.3 19.5h0M332.9 77.5h0M307.7 67.0h0M270.2 134.0h0M141.7 98.0h0M218.0 115.4h0M137.3 38.5h0M41.1 73.2h0M145.5 165.4h0M100.9 95.8h0M170.7 16.3h0M30.9 65.8h0M224.2 27.2h0M62.1 103.9h0M58.4 133.8h0M333.0 92.8h0M261.1 85.0h0M167.6 147.2h0M226.7 38.6h0M184.8 148.1h0M185.2 116.1h0" stroke="#de4968" stroke-opacity="0.76" stroke-width="2.6" stroke-linecap="round" fill="none"/>
<path d="M185.9 50.9h0M263.2 101.2h0M306.9 119.5h0M162.2 165.1h0M39.8 103.4h0M258.8 167.7h0M61.0 133.7h0M228.4 21.4h0M72.0 62.9h0M56.2 86.3h0M255.2 96.0h0M169.0 67.7h0M77.1 95.4h0M174.4 101.5h0M91.7 96.9h0M42.1 72.2h0M277.2 120.2h0M249.8 90.3h0M197.0 15.3h0M284.3 75.1h0M86.6 73.5h0M223.5 145.9h0M34.2 96.2h0M159.9 71.6h0M81.2 151.5h0M167.4 19.6h0M190.2 96.4h0M74.1 39.9h0M203.9 178.9h0M203.8 50.2h0M171.7 112.3h0M293.4 119.9h0M216.4 177.1h0M184.6 124.0h0M166.0 107.8h0M97.6 39.7h0M188.5 68.4h0M48.5 72.9h0M88.7 98.4h0M237.8 87.4h0M201.3 11.4h0M187.2 177.7h0M143.2 116.3h0M179.9 175.6h0M266.4 49.5h0M81.8 144.6h0M65.7 141.7h0M249.3 107.1h0M148.6 19.3h0M206.6 18.6h0M317.3 130.5h0M232.5 162.5h0M224.2 39.8h0M103.8 138.6h0M186.4 94.4h0M248.5 35.1h0M226.5 147.4h0M210.9 51.7h0M284.8 77.5h0M320.0 61.9h0M238.9 49.6h0M215.3 50.3h0M99.5 80.4h0M177.7 175.0h0M189.3 108.5h0M193.6 150.9h0M245.0 86.1h0M139.4 140.1h0M99.2 155.8h0M189.0 179.0h0M203.8 171.6h0M146.4 19.0h0M33.7 68.5h0M259.6 55.0h0M291.7 125.3h0M199.2 86.3h0M54.5 95.3h0M223.2 39.9h0M329.4 57.8h0M85.8 141.4h0M258.8 159.9h0M47.9 59.3h0M244.8 162.7h0M35.7 71.9h0M72.5 133.9h0M126.2 141.0h0M111.2 39.3h0M281.0 127.5h0M44.9 62.6h0M254.0 100.4h0M231.1 86.8h0M108.8 85.6h0M84.3 137.5h0M219.8 118.1h0M189.6 64.9h0M201.4 53.5h0M55.4 72.9h0M149.5 36.5h0M100.2 152.5h0M169.4 23.4h0M150.6 103.0h0M112.4 42.6h0M266.5 77.2h0M186.7 64.5h0M210.6 59.8h0M318.2 98.0h0M112.5 135.7h0M184.6 96.5h0M171.5 77.6h0M231.5 45.0h0M33.9 92.9h0M113.0 29.2h0M244.9 141.2h0M68.7 102.9h0M229.2 75.9h0M198.5 125.3h0M256.2 150.2h0M309.1 103.2h0M67.2 141.1h0M44.8 97.6h0M120.8 38.1h0M304.3 117.3h0M44.1 93.7h0M64.8 97.6h0M161.2 70.8h0M186.7 123.6h0M245.3 152.1h0M80.2 138.6h0M271.3 79.0h0M148.3 79.5h0M140.2 48.5h0M164.5 165.0h0M260.6 51.2h0M177.3 61.5h0M105.2 57.5h0M182.2 160.8h0M285.9 148.5h0M238.8 91.2h0M228.5 118.4h0M248.9 158.3h0M164.7 160.8h0M173.2 166.7h0M175.7 91.7h0M239.7 51.6h0M132.3 96.4h0M98.9 78.7h0M321.1 99.5h0M161.3 165.8h0M47.3 65.4h0M290.8 107.0h0M262.0 55.4h0M303.8 112.4h0M33.8 72.6h0M87.2 145.8h0M340.1 100.1h0M256.1 154.4h0M227.6 89.9h0M220.9 62.6h0M294.0 134.9h0M257.3 47.2h0M109.2 42.0h0M104.4 161.4h0M314.3 60.4h0M310.8 115.8h0M203.0 171.7h0" stroke="#de4968" stroke-opacity="0.76" stroke-width="2.6" stroke-linecap="round" fill="none"/>
<path d="M57.6 131.2h0M226.2 89.3h0M204.2 12.2h0M87.7 98.1h0M192.7 113.0h0M282.5 149.1h0M160.2 27.4h0M216.5 114.0h0M204.8 13.2h0M167.5 169.5h0M175.9 178.9h0M289.2 67.0h0M219.6 118.6h0M132.6 23.5h0M318.7 111.4h0M171.9 176.7h0M88.8 34.5h0M128.7 39.8h0M257.0 151.8h0M246.2 158.3h0M315.0 70.8h0M283.6 136.1h0M237.2 52.1h0M171.6 176.9h0M210.9 90.0h0M73.9 47.2h0M314.3 129.0h0M150.9 156.6h0M294.5 124.2h0M219.6 35.9h0M285.0 148.7h0M219.8 114.2h0M311.0 131.3h0M236.2 144.8h0M121.8 162.5h0M253.6 173.2h0M120.0 37.5h0M240.6 50.1h0M81.7 65.8h0M232.0 163.5h0M184.9 154.7h0M316.6 124.0h0M57.1 55.0h0M74.6 131.0h0M150.8 35.7h0M202.2 94.3h0M73.3 62.4h0M209.4 69.6h0M76.8 54.2h0M244.0 158.2h0M146.3 109.4h0M127.5 97.6h0M92.2 99.9h0M200.8 175.5h0M97.6 148.5h0M194.6 53.4h0M79.8 43.0h0M142.7 166.9h0M170.9 12.9h0M117.4 37.4h0M85.3 130.3h0M187.4 49.1h0M121.0 147.2h0M165.1 163.2h0M49.2 74.3h0M113.2 42.1h0M84.9 138.0h0M157.8 108.5h0M160.3 97.7h0M68.1 103.3h0M104.6 99.6h0M121.5 67.0h0M221.5 173.3h0M38.1 96.4h0M83.3 150.7h0M186.3 48.9h0M38.4 93.6h0M227.6 158.6h0M221.2 91.0h0M109.9 135.2h0M85.0 88.7h0M211.8 47.7h0M179.5 19.5h0M104.8 161.2h0M174.6 19.6h0M102.6 74.4h0M201.7 92.9h0M192.4 147.6h0M223.6 92.9h0M232.9 63.4h0M188.8 46.0h0M247.2 176.6h0M205.9 44.6h0M54.4 126.2h0M98.0 155.2h0M95.4 151.7h0M324.5 106.9h0M214.3 19.3h0M61.1 97.5h0M318.4 128.8h0M62.1 99.9h0M236.7 77.1h0M160.8 148.7h0M245.1 161.4h0M160.4 17.7h0M249.8 108.0h0M133.4 161.7h0M128.8 160.7h0M147.1 117.2h0M120.9 41.3h0M191.3 70.5h0M38.4 92.6h0M274.9 93.2h0M302.3 142.8h0M83.9 144.8h0M40.5 85.6h0M191.9 99.2h0M63.0 54.3h0M320.8 59.8h0M134.2 166.0h0M311.8 104.9h0M67.2 64.8h0M237.9 86.9h0M151.1 87.4h0M41.1 95.2h0M210.0 87.4h0M277.0 130.5h0M122.7 96.8h0M53.3 77.4h0M146.9 140.8h0M217.7 119.8h0M169.2 67.3h0M45.4 126.2h0M166.4 149.4h0M64.0 53.5h0M221.2 97.1h0M92.2 61.8h0M125.9 52.4h0M159.7 150.4h0M124.4 97.1h0M211.7 156.3h0M116.0 83.5h0M314.0 120.3h0M64.3 125.7h0M199.3 111.3h0M253.6 32.8h0M65.0 93.0h0M253.9 49.4h0M164.4 16.6h0M226.4 172.1h0M194.4 125.8h0M170.3 66.5h0M115.2 67.0h0M95.7 40.5h0M160.8 15.5h0M81.7 37.9h0M170.1 146.0h0M260.2 59.0h0M157.9 14.6h0M54.0 63.7h0M291.4 119.2h0M153.7 108.7h0M119.2 103.6h0M84.5 43.3h0M142.6 25.9h0" stroke="#de4968" stroke-opacity="0.76" stroke-width="2.6" stroke-linecap="round" fill="none"/>
<path d="M247.9 140.3h0M121.9 141.1h0M142.5 84.6h0M321.4 78.9h0M59.4 96.0h0M235.7 172.7h0M44.1 61.6h0M237.0 92.0h0M187.4 169.7h0M246.7 176.8h0M92.6 32.4h0M298.3 141.6h0M78.5 40.9h0M250.5 173.5h0M206.5 68.5h0M161.0 63.2h0M195.2 100.5h0M104.7 50.0h0M146.3 37.0h0M296.4 132.6h0M163.2 164.1h0M254.8 46.1h0M147.4 94.0h0M228.1 176.8h0M147.6 147.2h0M30.8 65.1h0M162.1 28.0h0M242.8 141.9h0M54.3 125.0h0M78.0 47.2h0M120.8 102.9h0M149.8 166.4h0M235.4 49.8h0M41.2 94.9h0M328.3 101.7h0M199.3 91.7h0M189.8 50.5h0M283.2 72.3h0M48.8 77.8h0M85.8 45.6h0M315.1 69.6h0M217.5 46.4h0M88.5 39.6h0M139.1 79.0h0M332.3 100.6h0M202.3 99.7h0M47.5 102.1h0M238.5 179.9h0M219.8 166.2h0M167.8 166.7h0M175.6 146.4h0M246.2 173.8h0M266.4 86.6h0M87.1 92.7h0M231.1 58.6h0M264.2 76.8h0M31.1 74.7h0M86.2 93.5h0M191.7 83.8h0M37.5 88.3h0M330.8 99.6h0M179.0 170.2h0M137.4 35.4h0M36.9 113.6h0M45.6 75.2h0M60.2 90.2h0M86.3 32.2h0M179.9 58.0h0M163.9 89.9h0M114.1 91.2h0M64.4 133.9h0M258.6 100.9h0M160.0 153.5h0M242.9 143.8h0M193.1 165.2h0M161.9 69.6h0M220.3 88.7h0M327.0 82.5h0M124.9 38.4h0M157.6 98.3h0M76.3 40.6h0M324.7 99.8h0M300.0 123.2h0M115.3 33.0h0M170.2 67.7h0M189.1 160.0h0M194.0 167.3h0M48.1 65.5h0M100.3 150.5h0M246.9 139.0h0M140.4 98.2h0M108.6 40.2h0M220.6 88.1h0M189.0 163.5h0M238.3 47.3h0M191.5 20.4h0M332.9 103.6h0M33.5 83.0h0M273.3 133.7h0M251.5 101.7h0M304.9 116.6h0M142.9 20.1h0M323.8 75.0h0M93.9 56.1h0M279.7 86.3h0M232.8 151.2h0M137.1 23.0h0M301.4 128.7h0M74.7 63.5h0M154.4 30.6h0M316.5 100.7h0M169.4 148.1h0M180.9 151.1h0M91.6 48.3h0M118.5 44.4h0M189.1 69.4h0M284.9 78.0h0M121.9 151.3h0M154.6 25.4h0M183.4 15.5h0M202.4 75.9h0M183.9 171.7h0M86.2 154.4h0M32.9 94.0h0M216.4 19.9h0M223.4 166.7h0M82.8 143.2h0M247.6 140.7h0M255.8 166.4h0M57.5 84.3h0M177.3 162.1h0M34.7 79.7h0M186.6 180.4h0M189.6 68.4h0M212.0 117.4h0M112.6 38.8h0M104.2 136.6h0M286.3 118.8h0M218.6 36.0h0M195.2 126.6h0M322.9 77.5h0M169.4 21.8h0M62.6 50.0h0M154.1 108.3h0M39.5 116.2h0M145.7 149.4h0M325.5 65.9h0M163.5 150.4h0M270.0 136.9h0M245.7 59.6h0M278.8 137.0h0M156.6 149.1h0M188.6 19.9h0M135.4 40.7h0M62.7 77.9h0M225.5 100.7h0M314.1 83.3h0M158.6 142.4h0M31.3 72.9h0M209.6 59.6h0M196.0 82.6h0M261.6 98.5h0M122.9 109.2h0M328.7 85.6h0M165.0 69.2h0" stroke="#de4968" stroke-opacity="0.76" stroke-width="2.6" stroke-linecap="round" fill="none"/>
<path d="M103.6 160.5h0M171.1 148.6h0M264.4 162.8h0M223.3 35.9h0M43.4 96.9h0M272.2 94.1h0M273.2 75.1h0M182.7 11.7h0M320.0 74.0h0M206.8 159.8h0M175.1 15.8h0M189.4 60.1h0M98.4 57.7h0M124.9 75.0h0M271.3 153.4h0M326.6 66.4h0M237.7 66.3h0M48.1 101.2h0M216.2 26.7h0M290.6 118.4h0M192.7 152.4h0M158.5 68.4h0M231.0 84.6h0M145.9 91.4h0M141.0 44.7h0M59.0 101.1h0M162.2 69.9h0M302.5 128.1h0M251.2 106.9h0M187.1 113.3h0M48.7 100.9h0M186.8 54.2h0M176.1 19.2h0M302.9 133.3h0M218.8 154.5h0M312.2 65.7h0M80.3 146.6h0M195.4 11.5h0M38.0 86.8h0M68.6 146.9h0M30.8 65.2h0M205.7 67.5h0M267.3 78.8h0M80.1 81.6h0M102.8 51.4h0M294.2 134.2h0M160.2 104.2h0M115.0 43.5h0M193.7 18.4h0M153.6 77.8h0M39.6 85.9h0M177.2 64.7h0M179.1 169.0h0M234.7 172.0h0M95.7 43.7h0M191.1 17.6h0M183.8 119.8h0M170.3 171.5h0M156.9 14.9h0M54.2 126.9h0M142.8 156.1h0M86.1 156.3h0M240.1 35.2h0M199.5 169.8h0M190.5 115.6h0M223.9 169.5h0M145.0 166.2h0M147.8 110.3h0M161.5 70.2h0M169.0 100.7h0M243.3 36.6h0M154.8 110.1h0M299.4 68.1h0M162.1 107.8h0M119.2 39.2h0M286.4 144.3h0M61.0 99.7h0M203.1 86.1h0M294.1 144.5h0M221.8 21.5h0M251.0 68.0h0M186.9 143.1h0M171.7 95.9h0M188.9 178.5h0M135.6 40.9h0M194.7 172.2h0M256.9 156.1h0M150.8 94.9h0M189.0 150.6h0M151.7 19.8h0M323.2 68.3h0M113.6 91.5h0M322.2 73.5h0M140.6 116.2h0M71.4 50.9h0M181.5 48.8h0M85.8 35.5h0M103.3 100.1h0M46.8 82.7h0M252.3 106.8h0M110.2 48.1h0M187.4 45.7h0M116.3 151.5h0M44.1 119.7h0M190.9 98.8h0M290.4 68.6h0M81.9 43.6h0M190.0 18.3h0M188.0 160.5h0M271.9 135.4h0M327.9 56.0h0M123.2 152.2h0M197.1 122.1h0M286.5 149.7h0M140.6 81.2h0M320.5 107.3h0M230.4 43.1h0M327.5 76.1h0M219.7 177.9h0M259.3 166.4h0M173.6 91.8h0M266.7 86.2h0M127.4 46.0h0M242.0 60.6h0M33.8 115.7h0M154.4 81.4h0M47.6 53.3h0M169.0 171.0h0M152.8 34.0h0M234.1 67.6h0M175.3 12.6h0M336.4 96.3h0M191.1 101.4h0M60.4 90.3h0M178.9 16.6h0M187.2 22.3h0M193.8 115.5h0M193.9 60.8h0M85.2 44.3h0M144.0 88.0h0M300.2 123.1h0M62.4 62.6h0M152.0 27.2h0M167.4 165.3h0M256.8 105.5h0M277.3 138.8h0M56.5 127.0h0M235.4 40.9h0M84.6 36.1h0M320.7 56.1h0M152.0 35.4h0M170.3 19.3h0M108.8 154.7h0M114.2 46.1h0M109.4 160.3h0M223.9 45.7h0M200.8 123.3h0M116.1 136.8h0M265.5 74.6h0M162.6 160.3h0M280.1 148.8h0M222.7 27.5h0M166.6 166.3h0M130.4 145.8h0M329.5 85.2h0" stroke="#de4968" stroke-opacity="0.76" stroke-width="2.6" stroke-linecap="round" fill="none"/>
<path d="M212.3 45.8h0M165.7 15.7h0M168.9 149.0h0M181.4 143.6h0M202.0 89.3h0M298.2 114.8h0M187.9 149.1h0M234.6 57.3h0M93.6 63.2h0M188.5 173.4h0M208.5 170.1h0M82.2 66.2h0M270.2 51.7h0M51.1 82.7h0M144.6 162.9h0M149.9 94.4h0M181.6 15.1h0M136.0 78.0h0M177.8 66.9h0M316.1 123.2h0M91.9 57.1h0M184.6 53.3h0M96.6 61.7h0M138.6 83.9h0M61.7 135.7h0M169.6 149.0h0M188.9 16.3h0M60.0 84.8h0M246.9 114.8h0M82.9 150.8h0M296.0 67.5h0M66.9 81.8h0M189.6 153.7h0M109.1 80.4h0M322.7 80.1h0M184.0 167.6h0M180.1 148.6h0M98.9 41.4h0M119.7 58.8h0M84.7 144.8h0M64.5 132.0h0M188.5 106.6h0M228.0 84.7h0M41.3 98.0h0M210.6 46.6h0M36.8 94.5h0M171.2 77.4h0M250.4 172.3h0M293.8 79.3h0M237.2 172.9h0M178.6 150.5h0M56.9 127.5h0M116.8 41.4h0M87.4 44.6h0M60.3 90.7h0M145.3 20.0h0M213.4 160.3h0M251.2 84.9h0M244.0 110.6h0M167.9 76.1h0M53.1 96.8h0M243.3 112.0h0M225.1 40.3h0M121.1 153.4h0M103.4 100.8h0M197.3 100.1h0M309.7 130.8h0M116.0 38.2h0M123.7 158.4h0M307.7 124.0h0M276.7 137.2h0M117.7 96.4h0M216.3 92.9h0M119.2 36.4h0M213.1 161.0h0M77.2 137.3h0M298.9 139.2h0M99.7 98.9h0M266.5 58.9h0M130.3 138.4h0M214.3 45.4h0M60.5 129.7h0M173.6 168.9h0M196.1 114.2h0M81.9 51.4h0M253.6 146.4h0M40.2 117.0h0M190.5 17.8h0M223.7 25.1h0M242.9 112.0h0M85.5 66.0h0M63.5 98.0h0M111.1 67.7h0M180.2 111.9h0M184.2 123.5h0M89.8 33.8h0M152.0 33.4h0M99.1 40.0h0M305.9 137.2h0M134.9 21.7h0M317.0 102.0h0M232.7 82.9h0M298.2 141.9h0M184.4 172.4h0M164.3 93.9h0M256.4 145.2h0M125.3 40.7h0M174.3 167.0h0M183.9 69.3h0M284.7 71.5h0M247.4 142.5h0M329.2 61.5h0M120.8 147.0h0M245.1 75.1h0M152.7 85.3h0M125.8 140.6h0M87.4 64.0h0M251.7 90.5h0M83.4 142.8h0M317.7 127.3h0M54.7 120.5h0M141.3 45.6h0M224.3 53.8h0M271.5 93.5h0M92.6 44.2h0M161.3 20.1h0M320.1 82.6h0M54.4 78.7h0M85.4 72.5h0M172.7 78.3h0M83.6 94.5h0M101.4 86.4h0M107.9 43.1h0M147.2 166.9h0M75.0 62.0h0M203.6 155.6h0M171.7 100.4h0M38.8 84.5h0M204.3 126.3h0M150.8 16.4h0M186.6 18.1h0M259.2 163.0h0M332.5 103.4h0M179.6 118.3h0M56.5 83.6h0M178.7 145.5h0M63.1 130.9h0M168.0 68.5h0M230.8 161.4h0M32.9 102.3h0M190.6 98.5h0M56.2 49.2h0M242.9 179.7h0M253.7 167.5h0M81.2 81.0h0M200.9 93.5h0M80.5 137.0h0M201.9 127.2h0M187.3 149.1h0M49.2 123.4h0M75.5 95.3h0M149.9 36.3h0M243.0 112.1h0M145.3 166.8h0M258.5 51.5h0" stroke="#de4968" stroke-opacity="0.76" stroke-width="2.6" stroke-linecap="round" fill="none"/>
<path d="M186.0 178.6h0M120.9 39.6h0M63.7 88.4h0M54.5 72.1h0M288.7 67.7h0M321.0 58.9h0M202.7 98.9h0M327.2 96.5h0M75.2 136.5h0M151.5 152.4h0M59.7 72.0h0M111.2 83.0h0M218.8 110.5h0M209.1 159.0h0M301.7 144.7h0M50.3 127.0h0M63.8 99.3h0M186.9 162.2h0M82.0 152.5h0M42.6 64.8h0M93.7 97.0h0M320.8 75.7h0M276.0 150.5h0M269.2 51.7h0M187.7 47.5h0M163.0 178.2h0M186.6 19.7h0M176.2 103.6h0M143.2 87.4h0M201.1 74.6h0M143.3 117.2h0M186.7 130.4h0M191.7 54.5h0M223.1 147.7h0M148.7 142.2h0M37.2 117.1h0M122.8 140.1h0M83.0 94.9h0M269.3 51.9h0M295.8 65.2h0M96.7 100.9h0M260.2 50.0h0M187.0 17.4h0M98.7 41.4h0M310.7 64.0h0M180.7 121.5h0M91.8 31.9h0M87.1 88.2h0M246.0 70.5h0M301.9 145.6h0M211.3 114.6h0M99.0 103.2h0M40.6 122.8h0M140.7 46.7h0M99.6 161.8h0M293.3 123.9h0M219.0 102.2h0M247.4 70.9h0M61.8 125.1h0M295.6 66.3h0M112.5 70.7h0M158.1 103.0h0M215.7 82.8h0M321.5 85.0h0M108.8 42.0h0M217.5 179.2h0M275.0 136.1h0M170.4 16.9h0M59.8 65.0h0M327.3 59.8h0M326.5 87.4h0M135.0 38.2h0M182.4 80.7h0M189.6 47.1h0M89.0 32.9h0M232.8 163.4h0M212.4 114.7h0M308.4 104.3h0M75.8 51.2h0M190.3 44.5h0M233.9 63.5h0M212.9 101.9h0M64.9 82.1h0M179.2 167.0h0M30.7 74.0h0M307.2 105.4h0M229.8 93.6h0M87.7 100.9h0M66.8 143.5h0M229.6 74.1h0M86.7 147.3h0M142.0 98.8h0M170.1 19.4h0M191.2 62.2h0M189.5 177.9h0M176.3 147.5h0M316.0 121.4h0M288.5 135.0h0M153.0 19.9h0M139.7 84.1h0M177.7 144.8h0M88.5 44.4h0M252.2 39.4h0M173.0 23.5h0M83.9 145.1h0M243.8 156.8h0M245.0 112.4h0M57.0 134.8h0M50.6 95.3h0M255.3 153.5h0M140.1 111.1h0M139.7 79.9h0M263.9 138.2h0M299.9 120.5h0M67.0 147.0h0M222.5 117.1h0M104.4 140.6h0M233.4 51.5h0M330.3 85.3h0M86.9 38.4h0M137.3 163.4h0M87.6 87.8h0M66.6 131.9h0M91.9 48.0h0M267.3 81.6h0M331.3 96.6h0M199.0 13.3h0M172.5 145.6h0M237.2 181.0h0M168.6 169.9h0M116.0 41.7h0M190.1 97.9h0M187.4 21.1h0M313.9 72.7h0M325.8 61.8h0M87.9 100.8h0M221.4 90.6h0M181.8 149.5h0M72.0 48.9h0M36.5 97.2h0M102.9 160.6h0M254.8 32.3h0M209.4 73.8h0M183.8 158.1h0M203.0 86.4h0M90.2 151.0h0M201.0 90.8h0M265.8 50.1h0M305.8 135.3h0M248.9 172.8h0M209.2 159.0h0M312.3 120.6h0M216.3 111.5h0M202.0 156.9h0M328.8 79.9h0M52.4 98.8h0M162.7 16.9h0M179.5 151.1h0M58.1 94.3h0M147.1 153.9h0M54.9 99.7h0M200.8 128.7h0M232.7 66.3h0M250.5 49.4h0" stroke="#de4968" stroke-opacity="0.76" stroke-width="2.6" stroke-linecap="round" fill="none"/>
<path d="M319.5 65.8h0M149.4 108.5h0M241.9 170.5h0M122.1 96.3h0M58.0 94.5h0M41.2 123.3h0M115.2 59.4h0M176.4 180.1h0M108.6 80.1h0M40.1 97.9h0M126.3 27.4h0M126.3 45.1h0M191.4 101.6h0M326.7 67.3h0M72.1 48.8h0M181.1 62.8h0M187.9 100.2h0M183.6 63.0h0M91.7 151.1h0M329.5 79.3h0M104.6 137.0h0M300.2 66.5h0M96.8 41.7h0M168.5 66.7h0M80.8 74.5h0M126.3 147.4h0M270.9 52.1h0M261.4 165.3h0M170.5 18.9h0M56.6 88.3h0M134.1 139.8h0M213.6 20.8h0M113.8 107.5h0M205.4 176.4h0M229.1 83.0h0M140.3 45.9h0M190.7 170.7h0M151.2 154.5h0M199.2 90.6h0M117.2 67.8h0M249.8 153.9h0M160.5 99.9h0M314.0 67.6h0M202.3 44.7h0M45.6 61.2h0M108.2 79.8h0M75.8 52.4h0M245.2 162.0h0M173.2 177.7h0M97.6 148.8h0M146.9 118.5h0M314.2 57.7h0M238.4 65.0h0M114.8 101.3h0M87.0 72.7h0M165.5 169.2h0M51.1 81.2h0M203.1 127.0h0M196.7 157.2h0M308.3 115.7h0M117.3 58.8h0M180.9 146.6h0M233.6 116.2h0M188.6 16.0h0M96.1 99.2h0M111.0 82.0h0M286.2 117.3h0M237.2 83.2h0M315.0 98.4h0M187.8 144.6h0M37.4 93.0h0M335.9 99.9h0M131.2 25.8h0M130.3 98.5h0M185.4 176.8h0M212.6 19.1h0M185.4 94.7h0M248.1 140.6h0M339.3 97.1h0M187.8 46.8h0M147.4 155.7h0M53.3 55.5h0M331.5 80.0h0M144.9 21.0h0M245.4 87.4h0M103.7 98.9h0M46.4 56.9h0M199.6 175.2h0M320.8 62.7h0M265.1 75.1h0M39.4 71.5h0M65.2 131.8h0M265.6 49.9h0M82.0 94.0h0M184.5 161.6h0M90.8 98.8h0M230.7 113.6h0M152.9 17.9h0M53.5 78.3h0M128.4 97.8h0M88.4 160.2h0M128.0 156.5h0M72.6 70.0h0M182.9 147.8h0M125.4 110.0h0M130.1 97.2h0M252.3 138.9h0M179.5 122.8h0M210.2 167.6h0M112.3 135.3h0M206.0 172.6h0M271.1 136.5h0M186.9 167.7h0M106.3 142.7h0M327.4 67.5h0M248.8 71.1h0M233.8 84.5h0M49.1 76.7h0M145.2 103.5h0M100.1 52.7h0M175.9 86.0h0M194.2 115.0h0M189.4 174.4h0M175.3 19.9h0M63.6 135.8h0M296.7 117.1h0M139.9 44.8h0M113.0 89.8h0M183.5 116.3h0M239.5 90.1h0M264.8 76.0h0M251.6 102.8h0M183.4 111.1h0M147.7 20.0h0M239.2 87.7h0M171.0 111.4h0M193.2 12.7h0M97.2 148.3h0M253.2 105.8h0M288.3 133.5h0M94.2 97.9h0M216.4 86.1h0M87.7 59.5h0M41.0 62.7h0M325.2 109.0h0M155.4 175.8h0M95.3 96.6h0M84.5 36.5h0M101.3 79.4h0M188.5 47.4h0M131.5 108.1h0M174.8 172.1h0M164.5 94.2h0M148.2 75.4h0M73.0 48.2h0M295.0 133.6h0M43.3 120.2h0M288.0 88.1h0M144.9 93.9h0M287.2 151.1h0M69.8 138.1h0M200.7 171.6h0M211.8 84.9h0M246.6 86.6h0" stroke="#de4968" stroke-opacity="0.76" stroke-width="2.6" stroke-linecap="round" fill="none"/>
<path d="M326.9 86.9h0M223.2 94.1h0M230.6 146.9h0M190.1 178.0h0M42.4 62.4h0M173.1 100.5h0M178.6 172.7h0M175.9 145.7h0M315.5 128.9h0M77.5 126.7h0M240.7 155.4h0M181.9 17.9h0M305.5 121.9h0M189.7 180.1h0M277.1 133.4h0M325.7 99.5h0M80.8 148.1h0M175.2 15.0h0M235.5 53.3h0M191.3 21.1h0M45.6 99.9h0M64.1 129.8h0M138.4 95.8h0M46.3 100.1h0M232.5 115.8h0M195.5 106.8h0M195.9 165.0h0M191.5 13.0h0M264.6 83.1h0M204.6 61.1h0M102.5 100.8h0M209.9 15.5h0M127.1 109.4h0M178.8 62.3h0M59.8 67.2h0M234.3 36.0h0M109.8 155.6h0M51.4 98.2h0M288.0 116.1h0M136.6 35.8h0M139.1 164.2h0M264.0 75.2h0M60.9 126.7h0M91.6 48.0h0M72.3 93.2h0M118.8 162.7h0M256.7 49.4h0M163.2 166.5h0M53.7 133.2h0M51.0 104.3h0M45.0 95.2h0M67.3 83.0h0M41.2 122.0h0M122.1 82.3h0M174.3 75.5h0M190.2 164.2h0M208.4 20.2h0M146.7 34.0h0M194.6 14.6h0M169.3 24.2h0M31.8 64.7h0M197.2 105.0h0M286.9 116.1h0M139.6 140.8h0M91.3 56.5h0M60.3 87.8h0M333.0 98.9h0M52.5 126.7h0M31.2 68.8h0M259.3 101.8h0M32.1 80.6h0M289.3 145.0h0M302.5 113.1h0M218.3 178.3h0M184.8 175.5h0M186.1 172.2h0M153.9 29.3h0M191.8 168.1h0M218.4 110.3h0M290.5 70.0h0M266.2 82.2h0M303.8 138.2h0M66.1 64.4h0M187.7 49.7h0M290.4 66.7h0M325.4 60.0h0M129.8 37.7h0M161.1 152.0h0M94.2 39.7h0M126.8 145.4h0M80.4 42.7h0M182.1 177.8h0M149.3 147.8h0M113.8 32.7h0M288.9 132.5h0M229.7 86.2h0M288.6 120.2h0M193.4 130.7h0M263.6 136.8h0M288.3 122.4h0M319.4 65.3h0M162.1 175.4h0M168.0 112.0h0M96.0 151.5h0M289.3 151.5h0M113.5 69.1h0M189.7 19.7h0M248.0 83.5h0M141.3 82.0h0M58.1 85.6h0M269.6 134.7h0M197.9 12.7h0M81.8 151.2h0M104.1 75.5h0M225.3 32.2h0M213.8 81.6h0M31.3 89.8h0M198.9 168.8h0M58.6 82.9h0M60.5 65.8h0M198.9 175.5h0M180.4 110.4h0M138.6 24.2h0M88.8 145.7h0M195.8 131.1h0M165.1 99.7h0M321.9 58.3h0M185.0 105.0h0M169.1 148.6h0M313.9 125.2h0M87.2 96.7h0M147.6 140.8h0M66.0 83.3h0M188.9 99.8h0M146.7 36.6h0M209.6 88.8h0M303.3 144.2h0M162.9 96.4h0M59.7 93.6h0M37.1 118.1h0M37.0 80.8h0M192.4 147.5h0M103.9 100.4h0M233.4 32.0h0M54.0 120.0h0M242.4 146.4h0M226.9 160.8h0M325.6 87.2h0M281.1 138.2h0M174.4 86.6h0M78.5 68.3h0M309.1 105.9h0M58.8 86.7h0M263.2 138.1h0M70.4 42.4h0M59.8 99.9h0M318.9 99.0h0M129.7 30.1h0M236.7 143.4h0M303.6 138.1h0M317.4 100.1h0M262.1 164.7h0M84.0 99.0h0" stroke="#fe9f6d" stroke-opacity="0.76" stroke-width="2.6" stroke-linecap="round" fill="none"/>
<path d="M155.1 28.6h0M305.7 108.8h0M74.8 40.0h0M201.3 63.3h0M170.1 85.9h0M149.2 20.4h0M211.6 53.8h0M50.4 84.1h0M326.9 55.6h0M286.1 79.1h0M259.5 158.8h0M153.3 103.8h0M86.4 39.0h0M187.3 108.1h0M282.2 75.1h0M172.0 147.5h0M265.3 50.8h0M51.9 51.0h0M141.9 92.3h0M57.2 70.8h0M292.2 70.5h0M253.2 96.1h0M151.7 85.7h0M53.1 77.3h0M232.3 147.3h0M97.7 100.1h0M246.2 141.6h0M201.7 11.3h0M47.9 61.5h0M146.9 112.0h0M168.1 96.8h0M140.6 78.1h0M215.8 18.2h0M264.5 100.9h0M101.1 96.0h0M288.0 114.8h0M305.3 108.8h0M64.5 127.5h0M126.4 69.2h0M42.0 64.5h0M321.0 62.7h0M258.6 82.4h0M178.4 176.5h0M280.1 130.8h0M292.7 76.1h0M203.5 89.0h0M171.8 118.8h0M96.3 59.8h0M95.9 38.8h0M262.3 49.4h0M46.6 120.4h0M321.3 105.9h0M187.4 21.0h0M203.6 45.4h0M175.6 145.6h0M77.7 47.0h0M313.1 117.4h0M133.7 37.6h0M158.3 70.5h0M262.7 83.0h0M41.2 72.4h0M171.4 166.4h0M245.4 75.6h0M169.2 173.7h0M284.0 147.0h0M229.4 86.4h0M48.9 63.3h0M47.1 63.2h0M243.3 75.3h0M185.3 110.4h0M154.6 20.6h0M238.1 67.8h0M165.9 165.1h0M138.7 98.8h0M259.2 49.7h0M227.9 27.1h0M50.5 65.1h0M303.3 108.0h0M40.4 93.3h0M157.4 26.8h0M146.5 20.6h0M78.5 80.8h0M48.6 126.9h0M78.4 71.6h0M104.0 74.6h0M123.7 34.2h0M174.8 15.8h0M248.1 74.4h0M175.3 117.9h0M203.2 99.4h0M97.6 96.0h0M153.2 112.2h0M216.6 79.6h0M139.8 25.1h0M155.5 179.9h0M77.7 144.9h0M185.3 115.8h0M70.7 48.1h0M186.7 109.3h0M73.9 38.6h0M307.2 124.6h0M194.6 173.2h0M40.5 101.7h0M37.7 88.3h0M58.6 87.4h0M235.0 42.8h0M83.4 41.8h0M193.5 125.0h0M279.1 134.0h0M213.4 82.5h0M130.5 27.1h0M134.3 110.5h0M33.7 95.4h0M163.1 175.5h0M292.4 122.3h0M157.9 105.4h0M135.6 27.0h0M84.2 143.3h0M183.6 122.4h0M71.6 64.3h0M37.2 67.3h0M151.1 77.2h0M60.3 94.1h0M90.3 144.5h0M80.7 69.6h0M176.3 80.6h0M234.5 35.6h0M134.9 84.9h0M232.8 170.8h0M157.5 153.9h0M320.5 85.5h0M155.9 176.9h0M91.9 33.6h0M187.7 154.9h0M172.7 172.4h0M151.9 106.9h0M183.9 95.6h0M266.8 73.8h0M152.9 174.2h0M221.0 24.5h0M115.1 32.8h0M76.1 136.4h0M309.3 136.5h0M246.9 58.9h0M183.3 170.0h0M309.7 65.9h0M38.3 116.5h0M45.2 103.4h0M186.4 171.4h0M175.0 76.5h0M181.8 170.3h0M161.1 59.1h0M91.0 148.7h0M191.9 45.3h0M267.4 75.8h0M238.3 179.1h0M100.1 103.2h0M163.4 107.4h0M161.1 108.2h0M169.3 16.1h0M188.4 97.4h0M124.4 33.1h0M259.5 102.3h0" stroke="#fe9f6d" stroke-opacity="0.76" stroke-width="2.6" stroke-linecap="round" fill="none"/>
<path d="M160.7 57.9h0M266.9 74.9h0M232.0 116.5h0M250.6 101.2h0M315.4 129.2h0M54.6 95.7h0M47.8 119.9h0M166.2 18.9h0M171.2 77.4h0M148.4 82.2h0M202.2 92.3h0M320.1 66.7h0M171.4 97.5h0M222.1 42.7h0M263.4 101.2h0M96.0 58.1h0M120.3 140.2h0M245.6 68.5h0M214.8 176.5h0M253.0 141.2h0M287.5 133.8h0M190.7 52.3h0M177.1 149.7h0M146.2 24.0h0M79.5 134.7h0M122.5 68.4h0M30.9 72.6h0M103.1 100.1h0M60.1 94.9h0M253.3 96.9h0M166.2 95.3h0M305.6 105.9h0M58.9 87.1h0M251.5 106.3h0M61.2 80.1h0M170.8 12.9h0M245.5 58.3h0M147.4 166.2h0M231.3 91.2h0M69.9 76.4h0M206.1 154.9h0M234.2 172.6h0M41.8 99.2h0M165.6 72.0h0M273.0 79.7h0M251.7 78.0h0M240.3 83.0h0M113.9 31.6h0M170.2 70.4h0M41.8 120.2h0M296.9 137.6h0M186.2 173.5h0M69.9 77.4h0M321.7 58.2h0M85.3 161.2h0M318.5 83.5h0M220.3 24.9h0M203.1 156.0h0M325.3 60.7h0M198.9 169.1h0M50.3 78.0h0M289.6 108.2h0M237.2 143.3h0M178.9 28.5h0M166.4 66.7h0M152.8 167.1h0M269.0 51.8h0M193.1 20.3h0M206.4 163.0h0M185.4 177.4h0M56.8 100.2h0M169.5 169.6h0M235.7 143.9h0M92.4 61.8h0M78.3 145.8h0M234.3 144.0h0M223.4 178.7h0M151.6 155.0h0M133.5 40.2h0M212.6 83.5h0M88.9 59.8h0M64.3 49.2h0M136.1 27.6h0M239.9 55.1h0M117.7 134.9h0M127.9 96.8h0M288.9 78.2h0M131.1 161.5h0M153.9 101.4h0M208.4 158.9h0M104.4 137.0h0M71.9 72.7h0M228.4 106.4h0M188.5 67.2h0M75.2 53.3h0M58.1 134.1h0M120.3 145.8h0M161.7 19.5h0M104.6 160.7h0M172.8 87.4h0M290.8 117.6h0M171.0 63.9h0M112.1 135.4h0M215.5 117.3h0M251.1 48.6h0M34.4 114.9h0M329.6 76.1h0M191.5 95.6h0M123.5 138.7h0M149.5 21.7h0M46.5 60.3h0M184.1 105.0h0M222.3 27.8h0M189.2 106.0h0M168.2 74.7h0M269.5 137.3h0M195.0 107.2h0M170.3 173.6h0M34.9 119.2h0M109.6 48.3h0M110.0 42.1h0M167.0 67.8h0M198.5 125.8h0M35.0 103.4h0M287.2 83.2h0M140.3 22.5h0M296.2 139.1h0M118.7 47.7h0M228.3 178.5h0M77.3 146.5h0M162.0 163.6h0M231.3 89.2h0M36.1 114.0h0M177.4 124.2h0M261.3 54.1h0M122.5 157.7h0M178.3 148.3h0M148.9 107.1h0M322.2 118.1h0M62.3 66.7h0M44.5 78.0h0M185.6 65.1h0M233.0 41.1h0M89.3 84.4h0M311.0 122.2h0M300.7 68.6h0M94.6 40.2h0M93.2 45.7h0M94.9 48.3h0M102.1 57.1h0M86.2 71.0h0M154.3 25.1h0M227.7 88.2h0M83.9 97.9h0M322.1 96.0h0M235.7 92.4h0M114.3 43.1h0M53.1 56.4h0M96.5 44.6h0M98.5 77.2h0M184.6 155.9h0M146.8 102.8h0M285.1 133.6h0" stroke="#fe9f6d" stroke-opacity="0.76" stroke-width="2.6" stroke-linecap="round" fill="none"/>
<path d="M112.5 38.7h0M118.0 159.9h0M34.7 92.6h0M265.2 48.2h0M249.1 158.5h0M249.2 95.1h0M281.4 151.5h0M203.8 17.2h0M167.7 148.6h0M72.6 48.5h0M237.1 41.5h0M77.3 93.2h0M233.9 68.2h0M35.2 69.3h0M247.8 177.1h0M138.2 21.4h0M134.7 26.8h0M59.0 81.2h0M287.0 76.1h0M89.3 61.8h0M262.2 84.3h0M182.5 169.2h0M268.6 154.5h0M190.0 169.6h0M310.7 105.2h0M103.3 104.2h0M42.9 93.7h0M186.5 14.0h0M194.5 43.3h0M109.7 156.9h0M264.0 82.9h0M132.9 27.0h0M80.5 73.6h0M45.5 95.4h0M48.6 63.6h0M268.0 48.3h0M78.9 95.2h0M113.9 93.0h0M143.4 158.0h0M157.3 17.0h0M57.8 98.4h0M99.7 158.3h0M233.8 82.0h0M329.9 99.3h0M172.3 167.8h0M85.9 145.9h0M319.3 104.3h0M185.3 20.9h0M210.2 69.5h0M294.0 107.1h0M188.6 16.3h0M127.0 100.7h0M231.9 111.6h0M196.7 46.0h0M63.6 133.4h0M93.5 42.8h0M113.9 92.4h0M126.2 69.3h0M319.8 121.8h0M174.3 23.2h0M174.9 177.9h0M185.4 104.0h0M63.3 103.9h0M291.0 133.2h0M77.6 92.7h0M272.2 94.4h0M119.4 138.5h0M269.9 53.8h0M143.7 161.9h0M226.2 174.9h0M116.0 137.6h0M149.2 147.1h0M146.6 103.1h0M135.9 92.2h0M223.1 85.7h0M174.4 120.6h0M142.5 100.0h0M82.2 41.9h0M160.8 67.6h0M42.1 68.1h0M77.9 95.3h0M37.2 113.3h0M199.6 167.9h0M300.0 117.4h0M71.0 137.7h0M316.2 121.8h0M73.2 73.2h0M140.1 92.4h0M157.9 178.7h0M35.0 74.6h0M234.9 97.6h0M144.5 78.0h0M183.5 179.4h0M52.4 75.6h0M99.5 98.0h0M151.3 155.1h0M261.6 58.1h0M161.6 64.0h0M120.8 68.1h0M121.7 29.8h0M178.5 84.6h0M195.8 93.1h0M250.7 106.7h0M217.8 93.2h0M319.7 59.6h0M157.0 161.1h0M81.2 34.4h0M256.9 47.8h0M207.2 83.4h0M203.8 84.5h0M263.4 165.4h0M314.8 60.1h0M316.0 85.0h0M175.7 162.4h0M258.2 47.1h0M180.4 68.3h0M180.5 66.3h0M137.5 108.1h0M165.3 15.6h0M168.2 162.8h0M167.9 62.7h0M74.5 137.1h0M244.9 37.4h0M303.2 136.4h0M325.4 83.8h0M64.9 46.8h0M156.8 103.1h0M327.2 60.9h0M110.2 100.3h0M288.8 67.4h0M324.3 106.5h0M320.7 62.5h0M181.0 169.2h0M257.4 101.7h0M160.5 18.0h0M36.6 102.9h0M144.3 109.2h0M184.1 63.0h0M137.8 95.2h0M46.1 63.1h0M235.2 35.6h0M234.6 47.5h0M124.8 69.1h0M196.4 92.0h0M320.4 107.5h0M174.1 118.7h0M238.6 39.2h0M297.5 69.7h0M320.3 104.9h0M248.5 49.2h0M121.9 164.1h0M95.5 41.2h0M47.1 121.4h0M201.8 49.9h0M88.3 160.8h0M187.2 147.5h0M57.0 54.5h0M190.3 12.8h0M170.9 22.0h0M251.8 46.5h0M109.6 68.6h0M238.8 60.9h0M298.7 138.8h0" stroke="#fe9f6d" stroke-opacity="0.76" stroke-width="2.6" stroke-linecap="round" fill="none"/>
<path d="M126.3 69.6h0M191.8 44.5h0M153.0 176.6h0M235.6 48.1h0M278.1 140.0h0M207.0 158.0h0M262.1 52.7h0M178.6 172.0h0M84.6 157.1h0M319.7 73.9h0M207.0 88.3h0M143.0 107.4h0M87.7 99.7h0M167.0 147.9h0M204.8 44.4h0M232.6 51.9h0M81.3 69.4h0M306.3 134.3h0M174.9 178.5h0M117.4 107.1h0M188.3 18.7h0M185.2 12.4h0M297.7 117.2h0M56.6 49.0h0M146.5 18.7h0M142.4 88.0h0M222.7 163.8h0M265.3 51.8h0M125.6 151.4h0M44.6 93.2h0M253.8 145.2h0M42.6 116.3h0M60.6 90.6h0M81.6 151.7h0M143.1 107.2h0M190.6 142.8h0M171.6 22.5h0M52.0 121.4h0M72.3 137.1h0M176.9 165.1h0M261.2 50.9h0M269.2 52.4h0M223.0 177.0h0M166.9 22.6h0M213.7 21.5h0M204.9 85.2h0M126.1 98.5h0M43.0 119.9h0M289.3 151.3h0M35.6 67.1h0M112.0 32.5h0M158.8 66.8h0M84.1 156.0h0M169.8 65.1h0M65.3 61.4h0M74.2 137.5h0M135.0 96.7h0M79.6 66.2h0M184.7 17.7h0M230.3 43.2h0M194.2 165.9h0M135.2 24.7h0M258.9 50.9h0M109.2 144.9h0M161.0 66.8h0M203.7 51.4h0M122.8 38.6h0M164.4 25.0h0M116.7 45.7h0M246.0 94.9h0M138.8 167.4h0M192.4 107.6h0M143.1 76.5h0M188.0 143.4h0M149.0 103.0h0M47.3 54.6h0M115.7 32.8h0M180.2 121.3h0M335.5 100.6h0M170.3 173.8h0M292.5 133.6h0M225.9 53.2h0M216.8 178.7h0M215.4 47.6h0M173.9 145.8h0M80.0 91.8h0M264.4 88.5h0M305.0 137.3h0M283.1 69.0h0M114.6 137.1h0M45.2 96.3h0M234.3 85.5h0M74.1 38.3h0M139.6 141.5h0M96.8 42.0h0M205.3 47.7h0M327.8 87.1h0M253.0 87.2h0M313.0 62.6h0M161.3 71.7h0M93.7 48.7h0M181.8 161.7h0M117.7 37.4h0M285.7 85.1h0M283.5 83.7h0M338.4 97.5h0M38.4 115.9h0M193.1 17.1h0M148.1 19.9h0M91.1 33.1h0M190.6 106.0h0M272.7 119.5h0M264.7 74.7h0M223.2 28.8h0M187.4 155.3h0M319.4 113.2h0M186.2 167.1h0M56.5 81.3h0M176.3 162.4h0M66.4 44.9h0M85.1 153.9h0M291.2 67.3h0M194.8 167.0h0M195.0 15.0h0M201.3 171.5h0M156.2 140.5h0M119.8 135.4h0M199.6 116.4h0M57.1 72.4h0M281.4 77.1h0M322.6 85.6h0M76.5 92.8h0M40.8 69.9h0M147.5 20.4h0M114.6 44.6h0M245.9 94.9h0M116.8 38.0h0M186.0 12.0h0M295.5 132.9h0M122.3 138.3h0M193.0 16.7h0M187.1 162.5h0M213.3 88.1h0M89.3 32.8h0M183.0 143.2h0M321.8 81.8h0M88.3 128.4h0M145.8 104.6h0M150.9 86.9h0M123.8 37.8h0M154.4 179.7h0M167.4 71.6h0M167.4 169.6h0M125.8 145.9h0M51.0 58.7h0M54.7 79.0h0M189.7 48.3h0M161.9 26.8h0M311.1 133.4h0M94.9 158.5h0M183.8 54.3h0M161.0 29.6h0" stroke="#fe9f6d" stroke-opacity="0.76" stroke-width="2.6" stroke-linecap="round" fill="none"/>
<path d="M289.2 133.0h0M175.0 160.3h0M194.0 112.8h0M148.4 155.2h0M317.5 72.5h0M195.7 15.4h0M36.0 79.2h0M52.5 121.9h0M85.0 151.4h0M319.1 87.0h0M158.6 105.1h0M211.5 16.5h0M299.6 68.7h0M205.8 17.6h0M61.3 64.2h0M99.7 42.5h0M157.4 103.9h0M141.0 25.0h0M165.3 93.5h0M223.6 24.6h0M39.9 89.7h0M133.0 23.2h0M54.5 95.0h0M288.5 135.8h0M278.5 134.6h0M207.8 13.4h0M157.4 18.6h0M237.4 89.4h0M235.6 106.0h0M262.3 55.0h0M33.0 81.4h0M235.5 177.5h0M191.5 164.9h0M56.2 58.0h0M164.4 67.8h0M141.5 21.8h0M308.6 139.2h0M177.6 84.0h0M171.9 77.3h0M104.6 101.1h0M162.5 96.1h0M147.4 156.1h0M152.7 34.8h0M232.5 57.9h0M48.5 52.4h0M178.6 104.2h0M139.6 47.7h0M116.1 160.1h0M184.7 179.8h0M170.8 165.5h0M239.3 45.9h0M234.9 41.2h0M125.2 150.8h0M171.6 156.2h0M291.0 132.8h0M146.4 153.4h0M84.1 140.8h0M32.8 93.9h0M103.5 40.4h0M50.9 63.2h0M233.9 162.3h0M292.6 123.8h0M229.6 106.6h0M200.8 164.9h0M214.9 163.9h0M226.5 177.3h0M248.3 106.8h0M38.9 116.8h0M279.5 127.3h0M230.5 171.1h0M326.3 106.8h0M169.2 17.8h0M62.8 48.1h0M77.9 72.6h0M276.9 123.3h0M318.8 105.0h0M60.8 128.6h0M66.2 64.7h0M210.7 17.6h0M141.8 23.8h0M200.5 74.1h0M59.8 63.3h0M50.1 120.0h0M281.7 137.7h0M121.3 108.2h0M142.3 117.2h0M177.8 112.7h0M68.5 40.8h0M103.0 58.9h0M226.6 175.1h0M135.2 109.3h0M170.1 100.6h0M43.2 121.0h0M221.6 174.5h0M31.3 91.4h0M246.4 93.3h0M181.0 148.6h0M267.1 55.1h0M113.5 70.6h0M70.5 135.5h0M187.7 154.2h0M210.6 167.5h0M213.6 17.3h0M44.0 125.8h0M225.1 162.0h0M185.1 12.7h0M172.7 84.7h0M159.9 180.8h0M95.3 58.6h0M46.5 124.0h0M172.2 167.8h0M43.8 76.2h0M189.4 178.1h0M45.5 119.9h0M218.3 21.5h0M217.3 164.8h0M205.9 163.9h0M183.8 173.2h0M308.7 75.0h0M209.8 14.6h0M187.3 154.6h0M238.0 145.5h0M231.3 60.2h0M184.8 48.2h0M162.1 20.8h0M312.4 119.6h0M290.9 132.4h0M201.6 86.5h0M43.7 118.3h0M157.4 64.4h0M323.7 80.2h0M290.5 143.1h0M296.5 125.4h0M35.6 71.7h0M193.2 120.9h0M119.0 67.7h0M266.8 51.9h0M331.1 101.6h0M144.1 113.3h0M202.0 17.5h0M85.9 154.9h0M195.1 46.6h0M184.5 104.9h0M125.1 138.1h0M205.3 180.0h0M56.4 133.5h0M116.9 32.9h0M157.7 143.4h0M56.5 83.4h0M231.9 30.3h0M316.2 101.0h0M155.1 108.6h0M107.0 134.0h0M316.6 85.7h0M71.2 61.4h0M91.3 45.1h0M330.5 80.8h0M144.5 85.5h0M77.5 93.2h0M92.9 153.4h0M154.5 18.6h0M53.3 80.2h0" stroke="#fe9f6d" stroke-opacity="0.76" stroke-width="2.6" stroke-linecap="round" fill="none"/>
<path d="M243.8 86.7h0M295.1 68.1h0M37.2 117.1h0M148.9 86.0h0M194.2 44.0h0M246.1 94.7h0M140.1 81.3h0M185.1 19.5h0M100.4 100.9h0M156.1 143.0h0M136.5 35.9h0M325.0 66.3h0M44.8 95.0h0M182.5 15.9h0M214.2 117.0h0M196.0 41.4h0M222.8 92.8h0M34.2 94.5h0M80.3 74.0h0M313.7 71.2h0M56.8 86.6h0M108.9 79.6h0M121.9 82.3h0M151.8 175.0h0M239.3 38.1h0M314.3 126.4h0M327.9 78.0h0M163.5 66.4h0M145.4 107.4h0M329.1 101.1h0M31.4 68.0h0M83.0 138.6h0M122.4 147.7h0M173.7 161.9h0M102.1 40.5h0M191.6 44.4h0M68.8 133.5h0M41.1 123.1h0M39.2 87.9h0M224.3 59.4h0M99.7 40.1h0M76.1 95.1h0M228.7 59.4h0M197.2 14.1h0M47.0 63.0h0M294.5 125.9h0M311.5 118.7h0M322.6 98.6h0M284.2 146.5h0M259.5 53.7h0M230.9 111.8h0M131.4 163.3h0M75.8 93.7h0M286.0 87.6h0M200.2 111.3h0M150.7 176.8h0M250.4 114.3h0M66.3 53.6h0M223.8 23.4h0M191.4 119.9h0M201.2 75.1h0M204.4 84.9h0M181.7 119.7h0M73.1 93.2h0M232.5 170.8h0M323.1 66.0h0M174.9 145.5h0M111.0 83.7h0M281.4 69.6h0M261.8 86.2h0M61.3 84.7h0M154.0 28.6h0M181.3 105.2h0M148.3 34.4h0M238.1 84.2h0M121.3 162.9h0M188.3 68.4h0M195.2 52.7h0M188.4 87.3h0M191.4 163.6h0M136.5 25.6h0M154.3 111.9h0M132.1 94.5h0M146.9 19.5h0M56.7 94.2h0M105.3 99.8h0M46.5 83.2h0M265.8 48.6h0M78.1 95.4h0M51.9 98.1h0M265.8 49.8h0M269.1 53.3h0M85.4 87.7h0M101.4 55.1h0M160.5 16.5h0M271.3 154.2h0M183.0 143.0h0M106.4 81.7h0M295.3 125.8h0M161.2 99.0h0M258.0 151.7h0M75.3 71.0h0M240.9 83.0h0M171.8 96.5h0M166.1 22.4h0M306.5 125.1h0M31.1 76.7h0M200.4 10.2h0M37.5 110.5h0M210.0 72.5h0M328.7 59.6h0M134.7 37.9h0M266.9 78.8h0M98.7 152.9h0M172.7 169.7h0M284.4 135.0h0M293.1 143.2h0M122.6 147.4h0M72.7 61.8h0M106.8 76.3h0M158.4 66.0h0M134.9 25.2h0M169.5 85.4h0M189.2 62.3h0M213.0 82.9h0M315.2 57.3h0M165.1 160.1h0M169.8 99.4h0M235.4 37.3h0M138.8 46.8h0M304.7 135.7h0M190.4 141.8h0M171.0 102.3h0M291.1 83.8h0M192.7 166.8h0M241.8 157.3h0M201.4 75.4h0M291.0 107.2h0M331.3 100.5h0M169.0 67.6h0M325.5 101.9h0M162.7 62.6h0M236.7 111.8h0M55.6 70.5h0M197.1 120.9h0M53.8 58.2h0M248.5 95.8h0M148.9 154.5h0M83.1 93.3h0M294.0 76.3h0M148.5 34.2h0M64.3 103.0h0M49.1 96.1h0M211.8 57.2h0M168.2 161.8h0M107.8 40.5h0M327.8 71.1h0M167.4 77.5h0M62.5 125.5h0M156.6 161.1h0M213.0 156.0h0M263.3 100.7h0" stroke="#fe9f6d" stroke-opacity="0.76" stroke-width="2.6" stroke-linecap="round" fill="none"/>
<path d="M53.4 80.2h0M300.7 140.7h0M254.3 170.1h0M261.1 99.8h0M187.0 95.6h0M238.6 144.9h0M267.1 76.9h0M77.1 135.2h0M47.0 125.8h0M97.5 58.7h0M45.6 102.4h0M246.2 141.1h0M60.8 103.6h0M303.9 66.7h0M203.1 75.4h0M110.4 133.3h0M212.2 49.0h0M238.7 41.0h0M99.9 158.6h0M327.5 74.7h0M67.0 64.8h0M184.4 117.2h0M46.5 120.1h0M104.2 73.4h0M216.0 81.3h0M94.0 145.2h0M231.7 40.9h0M108.3 40.2h0M230.5 44.1h0M35.7 119.4h0M71.6 137.6h0M232.1 85.8h0M106.9 160.2h0M84.5 99.3h0M322.5 81.7h0M316.7 70.1h0M330.1 101.1h0M188.8 150.3h0M193.7 98.7h0M228.9 45.5h0M268.3 154.8h0M191.2 75.6h0M59.4 96.6h0M319.7 73.6h0M268.6 53.6h0M298.8 119.8h0M269.4 82.1h0M52.0 121.7h0M248.6 153.5h0M189.5 66.9h0M81.1 36.8h0M178.8 22.4h0M38.9 103.8h0M115.6 66.5h0M45.7 101.2h0M192.0 167.8h0M261.2 54.1h0M41.3 85.1h0M47.7 103.4h0M115.7 159.8h0M236.3 36.6h0M319.4 65.9h0M262.3 83.4h0M36.2 115.1h0M50.0 57.0h0M89.7 147.7h0M216.2 161.9h0M178.0 150.7h0M66.2 88.6h0M204.7 66.7h0M330.5 77.4h0M327.7 70.2h0M52.0 57.9h0M160.7 110.2h0M108.8 38.2h0M242.0 154.0h0M85.5 157.7h0M126.3 51.8h0M38.9 115.8h0M127.0 138.7h0M200.0 45.7h0M226.5 39.5h0M142.7 167.8h0M261.6 162.8h0M187.6 142.6h0M143.3 142.1h0M247.4 91.7h0M270.3 76.7h0M207.9 46.7h0M186.3 15.7h0M222.6 112.9h0M328.1 85.4h0M169.1 64.7h0M84.8 98.4h0M229.8 77.6h0M248.9 178.0h0M169.1 91.5h0M115.2 46.3h0M177.2 76.9h0M230.6 150.9h0M139.2 25.0h0M210.2 70.0h0M269.4 48.9h0M135.2 22.1h0M46.6 103.4h0M268.4 49.6h0M263.2 47.3h0M223.2 176.4h0M79.8 53.8h0M55.1 69.2h0M279.1 70.4h0M196.8 90.4h0M42.2 61.2h0M162.5 164.4h0M230.0 41.2h0M241.4 154.0h0M67.9 63.1h0M235.6 111.1h0M116.7 108.2h0M276.3 131.2h0M67.7 101.9h0M117.7 101.8h0M84.5 141.1h0M71.5 74.5h0M76.8 146.6h0M266.3 73.7h0M243.4 35.1h0M84.5 66.5h0M129.3 27.5h0M188.9 162.7h0M191.0 69.8h0M93.6 61.7h0M79.6 80.7h0M310.3 112.3h0M214.5 59.4h0M45.3 74.1h0M303.4 143.3h0M273.6 120.1h0M193.8 89.6h0M237.9 172.2h0M110.2 155.0h0M167.5 15.4h0M215.0 17.7h0M156.8 151.2h0M172.2 54.3h0M180.0 168.7h0M156.4 152.6h0M308.2 115.6h0M31.1 91.2h0M186.8 54.2h0M205.6 157.4h0M68.8 133.2h0M244.9 141.2h0M145.3 105.2h0M169.8 148.0h0M154.9 79.0h0M55.4 92.5h0M95.6 61.8h0M133.5 138.2h0M186.2 92.1h0M56.0 90.3h0M235.8 141.7h0" stroke="#fe9f6d" stroke-opacity="0.76" stroke-width="2.6" stroke-linecap="round" fill="none"/>
<path d="M616.8 136.9h0M650.7 108.8h0M656.1 136.5h0M678.1 96.6h0M520.1 145.1h0M533.2 144.1h0M623.5 137.2h0M670.7 112.0h0M592.5 157.8h0M640.9 144.4h0M534.1 161.5h0M679.7 100.0h0M638.5 125.3h0M576.1 144.8h0M508.8 163.6h0M669.3 99.6h0M584.0 172.9h0M616.0 155.5h0M535.9 160.0h0M520.8 163.0h0M538.9 119.8h0M592.1 152.1h0M635.7 132.5h0M553.6 159.8h0M653.3 123.0h0M634.0 151.1h0M529.8 143.0h0M686.9 100.1h0M660.7 125.2h0M528.0 151.1h0M534.5 154.9h0M678.6 102.4h0M578.7 178.7h0M521.6 172.1h0M643.9 114.1h0M536.4 153.7h0M509.8 178.2h0M538.4 142.6h0M525.9 169.0h0M658.8 121.9h0M591.0 146.1h0M536.9 177.4h0M601.1 170.1h0M675.7 85.6h0M603.8 166.7h0M640.2 122.5h0M628.5 137.7h0M568.7 161.7h0M526.3 151.1h0M544.0 105.0h0M539.5 152.4h0M549.2 158.2h0M547.4 115.4h0M653.9 124.8h0M491.7 165.1h0M680.0 102.4h0M566.6 163.8h0M489.5 167.8h0M656.9 129.8h0M630.4 145.9h0M592.7 142.4h0M631.4 117.7h0M528.7 173.6h0M671.8 100.2h0M594.2 161.7h0M667.2 107.5h0M574.5 172.0h0M653.3 125.1h0M570.2 166.7h0M622.8 150.5h0M655.5 130.0h0M495.9 156.2h0M655.0 117.1h0M594.5 179.6h0M582.6 144.3h0M550.0 172.6h0M503.6 181.0h0M604.1 150.9h0M548.4 176.3h0M607.8 159.9h0M478.8 161.3h0M510.0 164.1h0M603.3 145.3h0M658.8 118.3h0M512.3 161.7h0M668.2 78.9h0M551.2 170.3h0M582.0 143.1h0M562.1 177.3h0M516.6 168.9h0M620.4 120.1h0M648.5 144.7h0M649.2 144.5h0M497.7 156.6h0M621.8 136.1h0M610.2 165.4h0M665.5 82.9h0M629.2 149.4h0M533.2 167.9h0M597.2 172.3h0M507.9 153.1h0M521.1 170.5h0M536.8 169.6h0M504.5 154.0h0M514.4 149.4h0M606.2 157.3h0M528.6 161.7h0M532.8 178.6h0M564.8 162.3h0M644.1 141.0h0M668.4 111.7h0M635.1 122.4h0M556.6 169.8h0M644.5 117.2h0M637.6 117.6h0M501.2 154.0h0M575.2 161.5h0M560.2 155.7h0M650.7 109.3h0M577.6 161.4h0M506.6 179.4h0M592.7 140.1h0M624.6 149.0h0M588.4 141.6h0M523.1 162.4h0M515.9 148.6h0M535.7 162.7h0M573.5 164.2h0M514.2 149.6h0M533.8 174.2h0M526.0 173.2h0M579.7 146.4h0M673.6 81.9h0M494.6 168.0h0M524.8 148.6h0M523.5 171.2h0M665.7 118.2h0M676.5 80.1h0M513.2 149.4h0M595.8 172.3h0M431.5 144.8h0M578.3 162.5h0M564.4 178.5h0M583.0 144.8h0M594.9 140.6h0M623.8 130.5h0M519.2 145.7h0M665.9 88.4h0M611.2 164.3h0M531.7 154.7h0M616.3 137.3h0M582.0 161.3h0M532.0 148.1h0M651.7 116.6h0M531.3 159.1h0M592.4 141.4h0M632.4 119.1h0M640.8 134.9h0M603.2 143.7h0M654.0 124.6h0M507.0 180.8h0M594.0 176.6h0M549.8 171.7h0M595.6 91.3h0M615.1 154.8h0M670.0 79.0h0M500.5 180.6h0M641.3 106.0h0M660.9 83.3h0M517.5 146.3h0M498.4 155.0h0M486.8 165.7h0M535.7 178.5h0M623.8 136.9h0M487.7 166.6h0M506.7 165.0h0M551.4 169.8h0M520.5 161.9h0M635.1 133.5h0M530.7 171.7h0M582.5 143.9h0M593.7 139.0h0M499.4 178.0h0M535.5 179.8h0M531.6 175.5h0M485.9 164.2h0M657.5 133.4h0M564.2 164.8h0M624.0 118.1h0M549.9 127.0h0M637.2 116.0h0M528.6 170.3h0M622.1 117.8h0M511.3 165.0h0M482.1 162.2h0M528.1 172.6h0M640.9 144.5h0M528.2 143.6h0M647.5 143.2h0M678.9 78.2h0M492.8 165.5h0M646.9 120.5h0M659.6 118.7h0M639.6 144.0h0M465.6 162.7h0M655.9 105.9h0M657.1 112.3h0M669.7 77.5h0M535.6 176.7h0M664.1 130.5h0M527.2 169.6h0M606.0 163.0h0M613.9 155.2h0M496.1 147.8h0M512.4 148.2h0M531.6 148.1h0M677.6 58.5h0M615.4 134.5h0M611.0 162.8h0M665.8 121.0h0" stroke="#000004" stroke-opacity="0.76" stroke-width="2.6" stroke-linecap="round" fill="none"/>
<path d="M636.1 151.3h0M602.6 166.4h0M630.1 146.6h0M451.8 152.1h0M494.2 156.1h0M571.9 162.0h0M489.5 166.9h0M523.7 162.5h0M628.5 137.6h0M535.6 150.3h0M507.1 148.4h0M681.5 98.7h0M512.5 161.4h0M669.1 120.9h0M546.4 176.3h0M597.6 90.9h0M518.0 173.4h0M666.8 74.0h0M648.2 128.3h0M516.0 148.3h0M625.6 137.0h0M652.1 108.8h0M608.9 164.7h0M674.4 95.0h0M615.4 137.1h0M501.2 179.7h0M622.8 120.3h0M675.6 100.5h0M647.2 136.2h0M671.1 106.5h0M519.0 167.8h0M674.1 86.5h0M655.9 103.2h0M684.4 95.9h0M596.4 173.3h0M677.7 99.0h0M662.8 121.4h0M519.1 167.8h0M652.5 108.8h0M597.2 114.3h0M579.3 162.5h0M587.4 143.1h0M577.9 176.2h0M578.8 163.5h0M667.1 104.9h0M521.7 177.9h0M546.4 175.2h0M499.6 167.1h0M611.9 164.1h0M527.9 174.3h0M542.1 157.2h0M519.5 178.3h0M479.7 161.3h0M502.5 180.0h0M595.0 92.7h0M584.7 172.2h0M553.2 163.0h0M517.6 165.5h0M639.9 143.2h0M675.9 101.1h0M621.4 123.4h0M631.8 148.7h0M568.8 171.8h0M593.0 141.1h0M672.2 83.1h0M664.4 105.5h0M674.0 96.5h0M676.0 59.5h0M570.2 163.4h0M599.1 138.9h0M513.8 147.9h0M537.0 164.2h0M636.4 108.2h0M588.8 154.0h0M626.9 130.8h0M589.3 168.9h0M507.6 166.2h0M516.9 164.8h0M603.2 145.2h0M509.9 175.5h0M674.9 85.4h0M531.3 161.6h0M677.0 99.9h0M655.5 123.5h0M654.5 124.0h0M593.7 139.9h0M502.6 177.4h0M619.5 119.5h0M625.0 135.5h0M534.7 149.1h0M631.8 133.0h0M670.2 112.3h0M514.1 173.9h0M672.3 101.9h0M668.3 84.8h0M592.9 142.4h0M506.7 180.8h0M586.1 180.2h0M595.9 139.1h0M666.3 104.1h0M685.2 100.0h0M501.6 153.7h0M503.2 152.6h0M674.0 85.4h0M500.1 165.8h0M646.4 138.2h0M468.7 164.1h0M503.3 179.2h0M523.0 175.8h0M643.2 132.6h0M660.7 100.4h0M509.2 166.1h0M587.5 144.1h0M667.8 112.7h0M661.8 98.4h0M604.2 150.7h0M651.5 138.6h0M550.2 158.8h0M532.0 169.3h0M536.9 178.0h0M523.3 177.3h0M675.8 61.3h0M521.4 164.0h0M529.3 169.2h0M552.4 157.4h0M530.6 158.1h0M532.9 172.2h0M514.4 147.2h0M593.0 141.6h0M590.7 156.0h0M603.8 151.8h0M666.9 82.6h0M630.5 133.7h0M610.0 138.1h0M655.4 139.2h0M583.6 144.6h0M489.3 167.1h0M584.1 142.9h0M526.7 151.6h0M577.8 172.7h0M535.0 172.2h0M573.0 145.8h0M645.0 141.9h0M539.2 147.6h0M526.5 176.2h0M624.9 140.0h0M588.9 144.5h0M625.9 134.0h0M624.0 132.1h0M535.3 173.4h0M602.2 149.1h0M670.1 106.1h0M568.4 174.5h0M679.8 101.8h0M673.5 85.2h0M678.2 96.1h0M520.4 148.7h0M609.1 165.4h0M680.2 95.4h0M494.2 155.7h0M533.0 167.1h0M623.9 133.4h0M676.2 62.4h0M664.3 85.4h0M639.2 121.7h0M510.3 150.4h0M634.9 118.2h0M566.6 166.2h0M552.9 154.9h0M635.4 120.2h0M641.3 125.9h0M562.2 178.7h0M647.0 123.1h0M590.2 154.9h0M552.1 156.2h0M523.9 177.1h0M659.2 121.9h0M581.2 178.7h0M663.1 128.4h0M532.3 169.3h0M494.0 166.9h0M485.1 164.5h0M518.7 176.7h0M525.2 164.8h0M546.1 111.3h0M666.6 121.8h0M626.9 148.8h0M657.7 120.5h0M543.5 157.2h0M499.4 175.9h0M537.4 154.2h0M541.0 165.9h0M492.3 165.4h0M629.2 130.6h0M653.3 115.8h0M450.4 160.5h0M462.2 151.0h0M594.2 140.6h0M499.8 176.6h0M635.3 135.8h0M653.8 113.8h0M651.3 117.3h0M531.0 145.1h0M665.5 82.9h0M582.2 170.2h0M561.6 176.5h0M580.3 103.4h0M637.7 132.4h0M479.5 160.4h0M655.9 113.6h0M517.1 173.8h0M647.8 136.2h0M591.7 141.2h0M533.7 149.3h0M629.4 150.8h0M624.1 138.8h0M578.7 151.6h0M534.0 129.2h0M672.4 72.9h0M581.2 161.1h0" stroke="#000004" stroke-opacity="0.76" stroke-width="2.6" stroke-linecap="round" fill="none"/>
<path d="M641.6 144.4h0M599.5 168.9h0M641.5 104.9h0M519.5 172.4h0M543.7 154.8h0M522.5 178.1h0M676.3 79.3h0M656.6 131.6h0M630.8 147.0h0M662.3 101.5h0M463.2 152.0h0M502.8 154.4h0M668.1 111.8h0M516.4 161.6h0M593.0 158.3h0M607.6 165.1h0M532.9 177.5h0M573.2 147.0h0M534.0 153.6h0M556.6 157.9h0M637.6 107.0h0M469.3 163.0h0M518.5 160.6h0M622.9 120.1h0M600.0 140.8h0M534.8 157.7h0M534.6 147.3h0M667.3 107.3h0M638.2 119.2h0M605.6 159.9h0M563.6 178.7h0M584.5 143.1h0M530.5 173.2h0M651.2 127.6h0M477.3 159.4h0M569.5 173.3h0M649.3 129.2h0M637.8 133.2h0M524.3 163.6h0M639.9 144.5h0M498.1 155.1h0M625.3 134.6h0M672.0 109.0h0M651.6 107.4h0M650.5 138.5h0M591.5 151.8h0M565.7 175.6h0M597.6 141.0h0M567.2 155.8h0M619.1 119.3h0M579.9 163.2h0M513.3 160.9h0M677.1 85.3h0M627.5 149.7h0M536.3 177.9h0M581.6 178.0h0M583.4 180.1h0M532.6 159.2h0M498.0 154.5h0M557.0 169.2h0M595.8 92.4h0M516.2 148.1h0M484.1 163.4h0M587.5 155.4h0M595.0 90.7h0M604.8 156.7h0M562.7 179.3h0M547.2 179.5h0M509.0 165.1h0M589.6 157.5h0M613.5 86.2h0M541.3 156.3h0M620.1 133.7h0M542.7 165.0h0M665.5 88.6h0M507.8 153.7h0M524.8 180.1h0M557.3 169.3h0M507.9 152.0h0M585.3 179.9h0M539.9 165.2h0M645.1 141.6h0M607.1 162.9h0M648.2 128.7h0M576.7 160.6h0M683.4 100.6h0M526.8 163.7h0M647.6 114.1h0M589.7 143.8h0M592.4 176.8h0M665.9 87.0h0M646.7 123.9h0M572.5 157.3h0M653.1 134.3h0M528.9 177.8h0M668.0 118.1h0M552.8 172.6h0M677.6 94.5h0M581.1 144.0h0M568.8 168.3h0M654.0 115.2h0M679.8 98.9h0M627.8 127.5h0M551.8 171.7h0M517.9 176.3h0M491.7 169.0h0M531.2 168.9h0M535.9 154.1h0M509.8 176.3h0M535.1 159.6h0M553.2 162.3h0M511.6 147.3h0M557.0 157.7h0M558.1 156.7h0M513.3 162.3h0M562.0 163.5h0M466.3 162.3h0M679.7 103.6h0M535.7 173.1h0M506.0 150.0h0M581.3 102.1h0M630.6 116.9h0M623.2 125.1h0M533.0 173.5h0M672.4 79.7h0M637.1 119.8h0M665.5 83.7h0M533.0 158.7h0M624.7 148.5h0M547.6 175.5h0M661.2 101.4h0M672.2 83.8h0M495.4 155.7h0M532.5 167.6h0M589.0 155.5h0M536.6 123.7h0M566.5 118.5h0M678.3 78.9h0M486.5 164.5h0M491.8 166.2h0M529.7 147.8h0M679.7 99.2h0M673.7 55.6h0M579.5 173.3h0M516.0 163.8h0M662.1 123.5h0M499.2 167.4h0M520.0 166.7h0M615.5 133.8h0M659.9 117.4h0M546.4 179.4h0M592.1 140.9h0M523.1 147.5h0M547.0 158.9h0M620.5 123.4h0M618.3 155.2h0M528.3 106.6h0M523.6 178.7h0M581.9 170.9h0M587.7 153.6h0M584.0 181.0h0M475.6 160.7h0M569.7 147.3h0M573.0 174.9h0M540.8 167.3h0M517.1 171.5h0M528.5 149.7h0M533.7 162.2h0M641.0 105.2h0M571.6 168.4h0M665.6 105.0h0M575.9 172.1h0M531.5 143.3h0M532.3 168.5h0M627.5 139.7h0M534.2 160.4h0M593.6 171.9h0M535.8 163.5h0M674.7 56.0h0M626.3 127.3h0M583.5 111.8h0M661.6 83.1h0M631.0 146.5h0M594.4 176.8h0M652.6 135.3h0M572.2 145.1h0M553.2 159.4h0M667.8 120.9h0M650.2 125.2h0M578.9 176.5h0M535.8 179.0h0M663.2 131.1h0M680.3 100.3h0M518.5 112.3h0M565.6 165.9h0M520.1 146.6h0M685.3 96.8h0M655.1 122.3h0M462.3 152.0h0M509.3 164.4h0M549.7 157.5h0M557.4 158.1h0M669.0 121.8h0M637.3 121.6h0M652.4 105.9h0M504.1 148.9h0M531.7 168.6h0M668.8 121.2h0M485.6 167.4h0M634.8 88.1h0M595.7 155.7h0M666.5 118.0h0M520.0 177.7h0M588.9 141.7h0M536.2 174.4h0M569.8 177.0h0M533.2 155.0h0M535.7 148.8h0M508.9 166.2h0M670.0 106.0h0" stroke="#000004" stroke-opacity="0.76" stroke-width="2.6" stroke-linecap="round" fill="none"/>
<path d="M523.2 180.1h0M515.7 149.0h0M503.0 154.0h0M534.1 149.1h0M523.9 179.0h0M558.7 158.3h0M657.8 131.3h0M527.7 146.6h0M555.9 159.0h0M638.9 124.3h0M605.6 167.7h0M507.5 180.6h0M529.7 169.7h0M552.7 163.9h0M663.9 98.4h0M628.9 148.5h0M517.6 174.6h0M465.4 160.7h0M547.3 179.3h0M673.8 82.5h0M605.5 165.5h0M653.7 104.4h0M661.8 84.7h0M568.2 177.4h0M532.1 118.9h0M497.5 176.8h0M634.9 106.9h0M462.5 159.8h0M573.6 164.1h0M564.3 179.2h0M530.0 160.4h0M646.7 120.5h0M564.7 164.1h0M660.7 118.5h0M538.4 153.3h0M574.6 177.4h0M507.3 148.4h0M653.7 119.5h0M594.3 139.6h0M599.4 168.6h0M536.0 153.8h0M649.7 133.3h0M487.6 164.7h0M621.4 124.0h0M629.4 148.3h0M667.6 75.7h0M571.9 175.1h0M570.9 174.6h0M655.0 115.6h0M537.0 168.9h0M600.2 140.7h0M604.9 158.4h0M562.3 177.7h0M562.7 164.4h0M536.2 130.4h0M535.0 162.6h0M627.4 151.3h0M665.5 111.4h0M533.5 144.8h0M631.0 132.5h0M533.5 153.8h0M675.6 72.4h0M598.5 90.5h0M521.6 175.0h0M651.5 135.7h0M504.3 153.9h0M663.9 102.3h0M669.6 75.0h0M637.8 132.8h0M655.7 76.4h0M534.0 162.3h0M583.8 180.0h0M592.0 162.0h0M451.9 152.6h0M631.9 115.1h0M548.1 171.5h0M535.0 162.2h0M583.3 143.8h0M569.9 147.7h0M563.2 177.1h0M566.4 118.6h0M558.5 156.3h0M527.2 158.9h0M673.3 87.4h0M511.5 164.7h0M630.2 149.4h0M665.9 120.1h0M652.3 115.6h0M517.1 173.6h0M685.4 99.7h0M515.4 160.0h0M570.7 169.5h0M542.9 105.4h0M618.7 135.4h0M525.0 161.9h0M537.2 169.4h0M672.0 100.4h0M498.3 152.4h0M570.5 177.1h0M643.5 117.1h0M502.7 176.9h0M672.8 85.9h0M525.4 172.7h0M591.5 158.4h0M538.0 120.5h0M641.0 134.2h0M671.3 106.9h0M601.6 147.5h0M648.0 144.6h0M615.4 154.5h0M623.1 131.2h0M635.8 147.4h0M602.4 150.7h0M663.2 86.2h0M580.4 116.2h0M566.0 98.0h0M521.1 167.0h0M600.1 168.6h0M665.0 98.0h0M581.5 172.0h0M628.2 137.3h0M635.8 87.6h0M530.1 170.0h0M633.2 144.3h0M516.4 149.0h0M575.2 172.8h0M666.5 110.4h0M532.8 171.2h0M551.0 157.7h0M669.0 73.5h0M600.4 146.4h0M578.1 161.4h0M674.7 83.6h0M677.9 101.6h0M676.4 82.3h0M637.9 106.5h0M654.4 114.4h0M524.8 150.7h0M461.5 158.1h0M536.0 160.1h0M485.1 163.4h0M462.9 160.1h0M661.6 124.3h0M496.4 175.0h0M554.1 168.4h0M545.7 157.4h0M669.4 98.6h0M678.5 79.6h0M527.9 174.3h0M669.3 75.7h0M511.2 161.4h0M548.4 171.3h0M577.3 171.1h0M580.2 103.2h0M538.3 164.9h0M572.8 175.2h0M550.7 178.9h0M652.9 122.9h0M520.4 168.9h0M487.4 168.6h0M596.6 153.9h0M623.4 134.5h0M519.5 169.7h0M530.8 167.6h0M654.5 121.5h0M532.2 177.4h0M667.0 111.7h0M512.7 165.1h0M628.2 151.5h0M645.7 117.0h0M579.6 151.2h0M548.3 177.1h0M602.9 154.4h0M538.8 167.8h0M597.3 158.9h0M653.9 136.5h0M590.6 156.8h0M569.5 163.8h0M616.4 133.3h0M664.3 129.5h0M654.3 117.7h0M522.7 178.9h0M526.6 166.8h0M645.6 119.8h0M544.3 158.1h0M609.1 161.3h0M547.2 111.2h0M544.5 155.4h0M593.6 174.0h0M632.9 114.3h0M518.4 156.2h0M670.4 82.2h0M578.8 116.5h0M523.1 144.8h0M549.9 156.0h0M636.8 122.8h0M652.7 137.2h0M493.8 164.8h0M655.5 105.3h0M516.6 170.4h0M549.1 172.0h0M650.6 112.4h0M525.4 172.0h0M656.5 130.8h0M513.6 163.5h0M581.4 143.6h0M625.4 128.1h0M574.7 157.5h0M537.4 142.8h0M659.1 120.6h0M643.3 125.4h0M671.6 77.5h0M552.5 158.7h0M582.8 172.3h0M530.6 173.2h0M582.4 111.1h0M672.5 99.5h0M673.7 86.9h0M502.7 176.4h0M519.7 178.0h0" stroke="#000004" stroke-opacity="0.76" stroke-width="2.6" stroke-linecap="round" fill="none"/>
<path d="M676.4 76.1h0M655.2 104.3h0M668.6 81.8h0M648.7 145.6h0M511.1 163.2h0M616.1 134.7h0M575.4 170.4h0M634.0 133.5h0M677.6 94.9h0M514.5 148.6h0M666.0 105.7h0M516.7 147.3h0M600.6 145.2h0M615.7 133.5h0M524.2 172.0h0M651.1 122.9h0M514.2 169.6h0M581.3 160.9h0M601.5 146.9h0M650.1 144.2h0M661.1 126.4h0M648.1 127.9h0M673.9 85.0h0M640.3 133.8h0M600.5 140.1h0M514.2 165.3h0M665.3 83.5h0M534.3 177.2h0M514.4 146.5h0M511.5 160.8h0M463.1 151.5h0M516.5 160.3h0M539.5 166.8h0M660.4 99.6h0M677.8 101.9h0M509.9 169.0h0M504.3 152.4h0M664.2 100.1h0M537.6 164.8h0M674.6 87.1h0M679.6 99.6h0M669.0 118.1h0M550.4 155.6h0M524.5 175.0h0M579.6 143.5h0M670.6 75.0h0M512.0 148.2h0M665.7 99.0h0M584.1 141.8h0M655.1 115.7h0M647.5 140.7h0M639.3 133.6h0M520.0 169.1h0M584.3 178.8h0M551.5 170.1h0M594.4 91.7h0M534.4 142.6h0M548.9 178.8h0M537.5 170.7h0M468.6 163.9h0M521.8 160.3h0M649.1 115.0h0M633.3 149.7h0M614.3 154.8h0M604.0 152.3h0M587.7 154.6h0M566.9 97.7h0M599.8 141.2h0M516.2 149.6h0M530.3 179.4h0M534.3 163.1h0M655.2 126.8h0M649.1 142.8h0M593.5 141.9h0M616.4 134.4h0M637.6 108.6h0M652.8 109.2h0M604.4 146.5h0M516.0 173.7h0M623.5 120.8h0M663.0 101.0h0M630.4 136.1h0M665.3 107.2h0M635.3 123.7h0M634.8 114.8h0M526.7 175.6h0M502.3 179.9h0M508.1 165.8h0M660.9 85.6h0M667.9 86.0h0M579.3 145.2h0M584.6 145.3h0M642.3 132.9h0M634.5 147.1h0M507.3 147.9h0M644.9 118.6h0M666.1 104.3h0M498.6 164.6h0M497.9 168.2h0M496.2 175.6h0M553.5 168.9h0M516.9 165.2h0M491.4 168.3h0M664.1 86.7h0M577.8 147.4h0M591.9 161.4h0M522.4 178.3h0M526.7 178.5h0M676.9 101.1h0M550.5 155.1h0M614.8 154.5h0M532.3 150.1h0M598.0 157.8h0M571.6 162.5h0M514.7 176.4h0M503.8 161.1h0M513.9 161.4h0M669.5 80.1h0M525.4 150.5h0M531.4 155.9h0M648.2 128.0h0M536.1 152.5h0M589.5 159.1h0M539.2 147.5h0M539.4 166.7h0M590.5 144.2h0M650.0 80.9h0M512.3 169.2h0M675.9 59.4h0M587.8 143.2h0M574.0 146.8h0M627.9 148.7h0M502.4 179.1h0M536.2 178.1h0M595.2 178.0h0M518.2 166.4h0M672.6 122.1h0M637.8 107.2h0M606.3 158.8h0M533.6 162.1h0M573.3 177.3h0M590.8 151.3h0M588.2 154.0h0M675.1 101.7h0M638.9 146.1h0M633.0 117.3h0M507.6 148.7h0M507.8 163.9h0M506.5 150.2h0M518.3 145.6h0M633.1 119.4h0M524.5 163.3h0M629.4 130.5h0M519.4 170.6h0M628.3 129.2h0M537.2 141.8h0M504.7 148.3h0M677.3 78.2h0M532.8 171.8h0M528.3 149.2h0M646.8 117.4h0M494.5 164.7h0M683.2 96.3h0M593.0 173.8h0M583.6 172.2h0M555.3 170.1h0M494.2 166.2h0M487.4 168.4h0M531.7 175.4h0M651.9 115.2h0M553.6 155.7h0M636.1 145.0h0M533.3 172.3h0M589.7 179.7h0M615.8 155.2h0M650.2 143.3h0M637.2 124.9h0M573.3 177.7h0M616.0 134.4h0M464.8 159.9h0M451.9 142.6h0M575.3 118.4h0M527.7 151.1h0M570.2 178.7h0M557.5 166.4h0M507.1 166.7h0M661.1 129.0h0M508.9 175.4h0M510.0 166.5h0M553.8 170.7h0M672.2 120.9h0M602.1 153.5h0M662.9 123.2h0M634.3 133.8h0M494.6 168.5h0M646.3 137.9h0M521.7 178.5h0M675.6 79.9h0M662.3 122.6h0M661.9 100.3h0M534.8 143.4h0M686.4 99.9h0M503.4 161.1h0M584.7 170.5h0M662.2 128.2h0M520.1 178.8h0M657.9 133.4h0M670.5 80.2h0M651.2 115.4h0M552.1 180.0h0M652.3 121.9h0M639.4 123.8h0M513.8 165.7h0M588.4 144.7h0M522.3 144.9h0M621.6 124.5h0M514.8 168.6h0M499.7 174.2h0M578.2 161.6h0" stroke="#000004" stroke-opacity="0.76" stroke-width="2.6" stroke-linecap="round" fill="none"/>
<path d="M468.6 162.5h0M517.9 158.2h0M492.1 166.8h0M569.7 172.4h0M591.7 141.2h0M617.0 134.0h0M532.5 178.9h0M669.3 107.8h0M502.8 178.6h0M539.8 169.5h0M663.8 102.0h0M633.7 116.1h0M656.2 117.8h0M600.9 138.6h0M502.1 181.0h0M638.3 121.4h0M651.0 114.8h0M603.0 150.2h0M640.1 123.9h0M468.1 162.9h0M595.7 158.3h0M506.5 150.4h0M537.9 124.6h0M677.3 80.8h0M524.4 151.1h0M594.4 140.7h0M548.8 156.9h0M656.2 118.6h0M674.3 76.1h0M608.4 162.8h0M603.6 145.8h0M523.3 160.6h0M633.7 134.8h0M528.1 105.2h0M589.8 144.5h0M559.8 156.0h0M658.0 113.5h0M679.1 100.6h0M466.9 160.7h0M514.8 147.6h0M531.0 143.7h0M560.2 160.3h0M430.7 145.1h0M497.8 153.8h0M594.2 142.5h0M550.2 176.7h0M668.7 74.2h0M503.4 149.1h0M517.8 111.4h0M676.7 99.3h0M540.4 150.9h0M573.3 147.4h0M588.0 140.6h0M673.4 101.0h0M515.4 146.3h0M615.2 154.3h0M509.6 166.5h0M514.3 170.9h0M538.2 163.6h0M531.6 155.1h0M548.2 177.1h0M557.4 157.7h0M553.3 177.9h0M592.3 158.6h0M554.1 168.9h0M520.3 169.0h0M507.6 151.7h0M579.6 170.8h0M671.5 87.4h0M517.4 158.2h0M675.3 93.7h0M661.0 128.3h0M676.7 94.9h0M646.8 123.2h0M601.7 168.4h0M674.1 81.6h0M666.9 121.9h0M624.0 120.2h0M470.5 158.4h0M525.2 174.6h0M499.1 148.8h0M644.6 119.4h0M675.0 96.7h0M527.8 148.6h0M521.2 147.2h0M533.9 161.1h0M582.6 141.7h0M640.2 119.9h0M534.8 160.5h0M651.3 134.1h0M529.5 150.7h0M575.2 147.9h0M515.0 161.8h0M573.4 175.1h0M546.5 157.8h0M551.1 126.3h0M559.9 161.0h0M652.3 122.5h0M623.9 121.0h0M663.4 124.0h0M590.8 158.2h0M664.7 111.7h0M494.6 166.8h0M526.8 168.7h0M653.4 105.3h0M598.1 113.9h0M526.9 148.6h0M539.8 129.4h0M673.0 73.7h0M639.0 144.8h0M478.5 160.2h0M495.2 147.4h0M596.9 172.4h0M501.0 164.7h0M677.6 99.6h0M556.9 158.7h0M462.9 152.6h0M480.2 161.7h0M514.3 169.5h0M535.0 143.7h0M595.7 172.8h0M533.9 169.5h0M579.7 143.6h0M507.2 150.1h0M600.5 167.5h0M631.9 133.6h0M521.1 176.1h0M640.9 105.2h0M536.4 180.3h0M667.9 99.5h0M641.8 133.6h0M651.5 134.2h0M552.2 176.4h0M510.6 162.2h0M594.2 91.7h0M565.1 178.3h0M640.8 135.2h0M449.7 160.6h0M562.1 176.7h0M633.7 116.3h0M629.7 127.8h0M533.3 170.2h0M501.8 176.5h0M539.7 165.8h0M639.2 122.3h0M601.3 148.5h0M600.8 141.1h0M525.0 179.7h0M514.4 147.1h0M571.8 169.6h0M654.0 105.4h0M639.4 120.9h0M660.7 128.5h0M636.0 133.0h0M558.5 155.8h0M597.4 114.0h0M509.6 148.4h0M672.9 84.1h0M647.5 145.2h0M518.4 148.1h0M585.0 154.2h0M532.5 154.9h0M581.0 172.6h0M560.5 161.0h0M637.4 118.4h0M478.0 160.1h0M594.6 177.1h0M676.0 61.5h0M503.6 151.2h0M667.9 74.5h0M523.0 150.5h0M637.3 143.1h0M528.2 159.9h0M519.1 171.4h0M526.4 144.9h0M534.6 144.6h0M686.1 97.1h0M513.9 148.7h0M587.3 141.1h0M655.6 136.3h0M522.7 145.7h0M578.6 178.6h0M585.4 144.9h0M534.2 155.3h0M668.2 101.0h0M517.9 148.6h0M650.6 138.2h0M498.5 156.1h0M478.2 163.3h0M606.6 158.1h0M588.0 154.5h0M497.5 154.9h0M496.5 153.1h0M477.6 161.5h0M570.0 176.4h0M672.2 82.6h0M518.8 147.5h0M534.6 176.6h0M528.7 170.3h0M669.4 85.6h0M518.4 176.9h0M514.2 169.6h0M657.8 122.2h0M579.6 163.4h0M504.1 161.4h0M577.6 112.2h0M647.2 141.6h0M673.1 106.8h0M539.3 166.2h0M605.8 154.3h0M650.8 81.1h0M621.7 134.9h0M577.4 146.9h0M597.7 91.2h0M680.1 95.3h0M650.4 138.1h0M626.5 127.8h0M656.5 105.1h0M604.6 165.8h0" stroke="#000004" stroke-opacity="0.76" stroke-width="2.6" stroke-linecap="round" fill="none"/>
<path d="M527.4 179.6h0M598.8 172.6h0M522.3 172.0h0M649.3 128.1h0M523.9 149.7h0M574.7 162.3h0M645.7 139.2h0M506.8 153.5h0M669.3 81.7h0M653.6 137.0h0M669.9 85.0h0M581.3 160.9h0M658.7 117.2h0M584.1 179.6h0M521.6 148.7h0M635.5 147.3h0M640.8 107.1h0M534.0 154.6h0M543.8 158.9h0M602.8 143.5h0M603.9 167.6h0M546.4 116.4h0M534.0 177.7h0M651.6 134.3h0M646.0 121.0h0M498.3 156.1h0M495.2 155.2h0M499.0 149.8h0M633.1 118.8h0M533.4 180.4h0M525.5 145.5h0M663.0 121.8h0M643.7 137.6h0M512.0 147.1h0M633.3 147.0h0M554.7 170.0h0M573.2 172.1h0M676.0 78.5h0M517.2 157.8h0M564.1 164.8h0M587.4 91.8h0M596.9 172.7h0M603.7 156.1h0M667.4 112.8h0M534.2 169.7h0M533.5 130.4h0M668.2 98.7h0M671.3 77.8h0M638.2 132.7h0M574.9 176.8h0M523.1 149.9h0M655.9 111.4h0M665.1 98.0h0M666.2 87.1h0M634.1 116.7h0M674.3 74.7h0M650.3 127.2h0M587.4 156.5h0M477.7 161.7h0M666.5 73.9h0M533.2 171.4h0M671.5 99.8h0M663.4 85.7h0M669.5 74.8h0M677.8 92.7h0M589.6 141.9h0M651.3 122.2h0M669.2 118.2h0M631.0 116.4h0M670.3 118.9h0M641.3 124.2h0M511.9 160.1h0M499.9 175.6h0M660.5 124.5h0M526.6 146.4h0M568.0 97.1h0M496.4 153.5h0M500.3 151.3h0M678.1 100.5h0M461.6 158.2h0M591.6 162.7h0M515.8 148.7h0M636.0 107.0h0M556.0 159.0h0M675.7 83.9h0M533.7 143.1h0M633.7 150.4h0M674.6 71.1h0M623.1 129.7h0M534.1 178.7h0M645.0 114.8h0M651.1 122.1h0M673.6 85.1h0M509.1 167.5h0M530.4 146.2h0M498.9 153.3h0M520.3 170.6h0M518.3 170.1h0M539.5 162.4h0M633.4 145.9h0M532.2 176.8h0M588.7 170.5h0M542.5 157.9h0M584.8 145.5h0M654.7 114.0h0M513.6 146.9h0M672.7 100.4h0M661.2 126.9h0M661.7 124.6h0M582.0 171.8h0M496.6 166.4h0M675.5 85.6h0M657.6 115.8h0M531.9 174.0h0M581.3 162.8h0M638.5 143.0h0M489.0 167.4h0M520.1 166.5h0M535.8 150.6h0M586.8 140.6h0M558.2 162.0h0M647.1 125.8h0M552.3 157.7h0M581.4 172.5h0M675.6 74.6h0M665.8 84.3h0M534.0 147.5h0M518.1 169.5h0M624.2 128.8h0M527.7 150.2h0M503.2 150.9h0M636.1 151.5h0M595.7 178.0h0M513.4 166.3h0M557.0 167.6h0M678.9 92.8h0M575.1 178.5h0M534.5 154.2h0M654.2 117.9h0M524.9 175.7h0M679.8 92.8h0M645.5 138.8h0M667.0 82.9h0M635.3 135.0h0M666.5 121.6h0M662.3 128.9h0M534.8 174.1h0M649.1 124.9h0M595.4 153.5h0M620.4 133.5h0M601.5 149.8h0M504.8 151.5h0M518.7 170.9h0M536.5 180.1h0M523.7 165.7h0M516.7 149.2h0M667.3 85.5h0M665.0 99.5h0M528.6 149.5h0M651.1 117.3h0M537.1 168.8h0M515.7 170.5h0M523.7 165.1h0M463.8 160.1h0M642.1 125.8h0M514.4 173.5h0M585.1 179.1h0M622.3 136.9h0M666.5 73.6h0M538.2 167.9h0M626.6 137.8h0M628.9 129.2h0M563.3 164.8h0M516.6 148.0h0M484.3 166.0h0M664.5 127.3h0M585.5 153.0h0M649.7 137.4h0M525.8 170.2h0M662.8 85.0h0M672.4 87.2h0M596.4 139.2h0M675.0 77.4h0M511.9 163.2h0M538.3 166.1h0M515.2 161.6h0M660.8 120.3h0M634.8 116.1h0M676.2 57.8h0M666.2 113.2h0M672.8 71.1h0M516.3 169.6h0M516.4 178.0h0M637.6 121.8h0M509.4 160.3h0M524.1 144.3h0M529.0 160.8h0M674.7 83.7h0M580.7 162.3h0M547.5 171.6h0M663.3 100.7h0M538.6 168.1h0M592.8 142.5h0M533.7 167.7h0M659.2 119.6h0M594.5 153.6h0M582.6 179.2h0M669.9 81.0h0M485.3 164.7h0M520.6 173.7h0M668.1 105.9h0M579.1 147.3h0M649.3 113.1h0M596.6 90.3h0M596.7 173.5h0M587.7 144.3h0M653.9 106.2h0M582.5 172.7h0M540.1 166.8h0" stroke="#000004" stroke-opacity="0.76" stroke-width="2.6" stroke-linecap="round" fill="none"/>
<path d="M562.4 178.0h0M631.0 135.7h0M576.4 176.2h0M531.2 172.4h0M597.9 155.8h0M656.2 112.5h0M501.0 179.9h0M670.2 74.0h0M527.0 174.2h0M469.2 164.4h0M579.6 171.2h0M658.3 118.7h0M643.0 139.1h0M514.6 172.7h0M581.6 143.4h0M657.5 105.2h0M670.1 97.7h0M650.0 136.4h0M515.4 169.9h0M588.6 157.3h0M651.8 137.3h0M629.3 149.1h0M671.1 101.2h0M569.4 169.2h0M601.4 141.1h0M685.5 100.6h0M555.2 158.9h0M509.2 161.0h0M563.5 175.1h0M606.1 166.4h0M594.7 140.3h0M655.2 107.5h0M525.2 176.5h0M652.0 125.3h0M665.2 128.8h0M632.7 148.5h0M557.4 167.5h0M681.4 93.4h0M670.0 75.2h0M546.7 177.0h0M533.7 161.4h0M682.7 99.9h0M547.0 111.3h0M495.7 155.6h0M627.9 138.2h0M477.9 161.5h0M641.1 143.5h0M584.0 143.3h0M647.5 113.3h0M579.3 170.8h0M529.0 175.4h0M533.9 162.5h0M570.3 145.9h0M580.4 145.9h0M511.5 164.0h0M553.8 158.0h0M523.8 174.8h0M545.7 176.4h0M534.8 178.9h0M672.5 102.3h0M608.2 165.3h0M512.5 164.3h0M679.3 103.4h0M589.2 146.4h0M533.4 170.2h0M676.9 99.0h0M600.4 173.2h0M664.0 100.5h0M600.4 148.7h0M625.6 136.6h0M623.7 138.9h0M682.3 100.6h0M528.1 146.6h0M566.5 177.9h0M515.0 162.8h0M584.0 179.2h0M578.8 176.6h0M489.6 166.6h0M677.3 77.4h0M526.0 167.0h0M515.8 171.0h0M583.1 143.0h0M623.0 128.4h0M527.8 159.2h0M665.4 100.1h0M608.3 165.6h0M564.2 163.5h0M485.4 164.8h0M649.6 116.6h0M586.8 155.7h0M570.5 167.7h0M605.9 161.2h0M665.2 105.5h0M525.3 144.6h0M588.1 90.9h0M534.6 171.2h0M521.6 178.7h0M659.8 121.7h0M578.2 161.9h0M613.2 86.6h0M611.0 164.1h0M528.7 165.7h0M618.1 153.4h0M636.2 108.2h0M674.7 78.0h0M625.0 139.4h0M656.3 137.6h0M636.1 107.5h0M583.5 143.4h0M610.7 138.2h0M631.9 147.6h0M628.6 150.2h0M664.9 99.9h0M595.9 158.5h0M532.9 172.1h0M595.0 142.5h0M540.0 162.8h0M597.5 157.6h0M602.3 151.1h0M662.2 129.2h0M679.4 93.4h0M524.1 164.3h0M533.3 156.3h0M631.2 135.0h0M521.6 147.1h0M522.5 162.4h0M582.8 146.4h0M611.2 162.8h0M645.6 143.4h0M671.3 100.5h0M527.8 169.2h0M663.7 85.6h0M582.3 177.5h0M667.7 87.2h0M642.4 143.9h0M550.6 171.6h0M600.9 145.5h0M650.7 127.9h0M617.9 136.5h0M619.9 117.3h0M535.3 152.3h0M522.8 179.6h0M548.3 178.3h0M545.7 175.5h0M504.7 178.7h0M541.6 156.5h0M516.9 146.0h0M498.6 175.0h0M541.6 167.0h0M572.3 177.8h0M524.1 162.1h0M532.1 162.8h0M490.0 167.4h0M533.1 179.2h0M669.2 87.4h0M630.7 145.4h0M498.9 166.7h0M664.6 112.4h0M514.2 167.7h0M588.9 154.2h0M531.5 179.8h0M644.6 140.3h0M658.6 104.9h0M678.3 80.0h0M502.7 151.4h0M494.6 167.8h0M573.7 160.8h0M521.7 145.5h0M549.5 156.3h0M650.1 108.0h0M625.0 130.6h0M566.0 176.5h0M592.0 174.8h0M603.1 150.0h0M617.0 137.3h0M633.8 118.9h0M529.0 173.6h0M623.7 123.3h0M608.3 162.4h0M574.4 158.6h0M604.8 151.7h0M593.5 176.8h0M679.4 103.7h0M571.6 162.3h0M635.3 115.8h0M568.3 173.3h0M532.3 179.2h0M468.2 163.7h0M530.4 166.1h0M495.6 167.7h0M534.1 154.6h0M514.8 161.0h0M579.3 115.8h0M622.0 118.7h0M525.1 148.3h0M616.4 134.7h0M563.0 161.9h0M601.5 152.3h0M610.4 136.8h0M532.0 148.9h0M540.2 130.7h0M620.8 118.6h0M685.2 97.5h0M684.0 95.8h0M464.1 159.5h0M676.3 85.2h0M519.2 169.5h0M536.0 129.8h0M645.9 118.9h0M593.2 93.3h0M515.2 148.4h0M618.1 154.2h0M640.0 118.6h0M529.8 143.2h0M571.3 175.2h0M561.7 163.9h0M487.3 164.5h0M469.3 157.7h0M597.3 173.5h0" stroke="#000004" stroke-opacity="0.76" stroke-width="2.6" stroke-linecap="round" fill="none"/>
<path d="M673.0 69.7h0M673.5 67.3h0M575.4 45.0h0M568.5 90.4h0M615.2 49.6h0M628.2 69.6h0M604.1 47.2h0M636.1 84.0h0M578.3 55.8h0M608.8 85.2h0M585.6 68.0h0M590.0 69.6h0M612.6 49.8h0M576.0 39.9h0M573.6 53.5h0M637.2 66.7h0M669.9 66.0h0M647.4 67.8h0M579.3 57.9h0M613.1 73.7h0M662.2 69.5h0M515.9 91.5h0M592.9 86.3h0M576.2 94.5h0M600.0 105.8h0M591.8 86.1h0M530.4 122.4h0M612.0 50.9h0M593.2 87.4h0M563.5 54.6h0M635.0 67.7h0M662.0 57.3h0M611.6 76.0h0M604.9 107.2h0M565.4 36.0h0M574.8 115.2h0M597.1 87.0h0M568.0 91.0h0M608.6 83.9h0M660.8 57.9h0M596.6 108.0h0M611.4 48.6h0M646.3 65.1h0M610.5 83.9h0M570.4 92.9h0M519.0 54.3h0M583.5 49.8h0M572.8 36.8h0M575.4 93.2h0M580.4 52.4h0M640.9 70.4h0M577.3 44.1h0M639.5 76.1h0M674.6 60.6h0M613.6 50.1h0M459.3 38.7h0M586.3 90.1h0M632.8 87.6h0M674.2 70.8h0M614.5 47.9h0M615.3 48.6h0M667.5 56.1h0M605.3 51.4h0M638.0 67.3h0M614.7 53.5h0M573.6 38.1h0M618.4 50.8h0M679.7 77.5h0M573.8 43.3h0M608.8 55.4h0M597.2 70.9h0M666.8 59.6h0M603.5 105.6h0M589.9 75.1h0M660.3 68.4h0M586.5 53.8h0M593.4 86.6h0M634.2 69.0h0M562.1 50.3h0M635.7 78.2h0M582.3 53.3h0M549.9 93.6h0M586.8 52.5h0M605.3 51.5h0M615.9 53.3h0M459.4 38.8h0M606.3 53.7h0M613.8 54.2h0M572.5 37.7h0M616.0 51.4h0" stroke="#3b0f70" stroke-opacity="0.76" stroke-width="2.6" stroke-linecap="round" fill="none"/>
<path d="M574.8 91.8h0M570.0 94.1h0M668.9 96.0h0M669.8 60.9h0M595.7 68.3h0M594.0 85.5h0M615.7 74.1h0M533.0 92.1h0M611.4 83.1h0M654.0 73.7h0M629.0 75.1h0M612.2 49.9h0M562.9 92.9h0M605.7 50.9h0M668.9 67.1h0M558.6 57.2h0M611.6 55.0h0M567.6 91.4h0M580.2 32.0h0M629.6 70.7h0M577.7 51.6h0M547.6 94.2h0M578.3 45.0h0M631.6 68.7h0M635.3 67.4h0M612.4 75.5h0M612.8 47.5h0M540.6 89.6h0M612.1 80.4h0M582.5 67.6h0M663.5 69.5h0M617.7 52.1h0M590.1 36.6h0M569.6 92.8h0M575.7 57.6h0M583.8 92.0h0M593.6 88.2h0M618.8 75.7h0M633.5 77.0h0M617.9 75.3h0M615.6 51.8h0M643.6 65.6h0M571.2 90.4h0M471.2 33.1h0M660.5 71.2h0M515.3 89.7h0M607.0 85.9h0M595.6 108.0h0M613.2 74.5h0M672.3 65.9h0M576.5 43.6h0M612.4 49.9h0M556.9 58.5h0M575.7 41.2h0M562.2 47.6h0M607.9 55.5h0M615.1 74.2h0M607.4 52.3h0M661.0 59.0h0M631.3 76.2h0M668.5 58.2h0M615.8 51.8h0M610.4 48.8h0M660.8 64.1h0M613.2 58.9h0M546.0 90.6h0M665.2 59.2h0M619.0 76.7h0M660.8 67.6h0M576.6 93.6h0M580.6 84.5h0M537.0 76.4h0M642.8 67.5h0M573.3 35.2h0M538.5 91.0h0M591.5 69.1h0M616.4 52.5h0M635.2 85.8h0M550.2 93.4h0M487.7 45.3h0M584.7 89.1h0M610.6 50.0h0M577.9 58.6h0M613.8 75.4h0M592.2 87.4h0M600.2 86.3h0M576.5 94.4h0M672.2 60.0h0M561.8 48.2h0M579.9 51.7h0" stroke="#3b0f70" stroke-opacity="0.76" stroke-width="2.6" stroke-linecap="round" fill="none"/>
<path d="M604.4 58.5h0M610.4 53.8h0M558.7 49.9h0M600.7 49.4h0M524.6 57.4h0M657.5 64.0h0M613.3 58.9h0M578.5 42.5h0M590.6 86.7h0M615.5 52.5h0M587.6 36.6h0M600.4 32.8h0M650.8 66.7h0M564.3 91.7h0M574.8 93.5h0M657.9 64.5h0M668.7 65.8h0M638.5 66.0h0M607.9 85.0h0M570.3 93.6h0M583.4 53.4h0M603.6 105.5h0M635.6 67.4h0M616.2 80.0h0M664.1 59.1h0M607.0 50.0h0M666.7 58.5h0M666.3 65.8h0M598.5 45.8h0M543.6 90.4h0M574.0 57.7h0M668.6 66.7h0M575.5 59.4h0M642.2 68.9h0M606.4 55.0h0M670.2 61.7h0M571.0 39.8h0M599.8 87.2h0M605.5 106.1h0M475.5 39.8h0M597.0 106.2h0M578.1 60.2h0M596.4 87.5h0M603.0 49.3h0M666.5 59.6h0M598.6 46.5h0M620.0 75.1h0M589.5 37.1h0M487.8 44.7h0M584.0 52.1h0M661.9 69.6h0M580.7 63.5h0M570.9 92.4h0M571.1 53.8h0M671.0 58.9h0M580.6 48.2h0M584.1 84.0h0M635.5 67.7h0M588.5 35.4h0M577.1 43.2h0M583.4 68.6h0M641.8 68.6h0M541.4 93.2h0M592.6 86.9h0M489.8 46.7h0M609.0 84.3h0M674.1 59.8h0M582.5 58.5h0M630.3 73.1h0M586.7 55.1h0M561.8 49.3h0M579.7 63.4h0M627.4 73.6h0M567.7 91.2h0M561.6 50.1h0M626.5 73.4h0M613.9 76.9h0M672.6 60.1h0M619.6 77.8h0M613.9 48.0h0M616.6 50.1h0M594.8 55.0h0M621.7 93.2h0M613.3 77.2h0M594.0 87.5h0M608.1 54.1h0M601.6 32.3h0M667.8 62.7h0M637.2 68.6h0M595.2 54.6h0" stroke="#3b0f70" stroke-opacity="0.76" stroke-width="2.6" stroke-linecap="round" fill="none"/>
<path d="M662.1 69.6h0M598.3 106.3h0M620.8 79.3h0M608.9 52.7h0M670.0 68.3h0M598.0 84.9h0M610.9 47.3h0M559.9 48.0h0M614.9 48.9h0M544.1 92.4h0M595.5 85.6h0M661.8 70.8h0M631.7 67.7h0M558.8 49.5h0M645.5 66.5h0M584.9 84.2h0M586.2 68.6h0M628.1 74.2h0M617.5 51.1h0M603.5 49.4h0M631.6 77.5h0M628.8 68.7h0M576.6 45.9h0M528.1 58.4h0M603.7 47.8h0M542.6 93.1h0M643.7 67.9h0M577.6 46.1h0M567.4 36.3h0M632.6 83.5h0M603.8 50.0h0M558.8 50.5h0M654.7 67.3h0M577.2 29.7h0M640.2 76.1h0M659.8 62.6h0M581.5 59.1h0M642.3 68.6h0M628.2 77.1h0M582.0 48.0h0M630.3 77.4h0M664.2 75.0h0M674.5 70.2h0M613.6 81.0h0M586.9 68.6h0M584.6 50.5h0M593.2 87.6h0M616.2 48.9h0M637.5 69.2h0M581.4 57.3h0M561.9 51.5h0M655.5 75.0h0M599.1 48.0h0M636.0 67.0h0M581.8 50.6h0M585.5 52.2h0M631.4 77.1h0M666.4 59.8h0M575.7 44.1h0M616.2 82.1h0M562.6 57.7h0M664.3 72.5h0M666.9 66.7h0M668.7 58.3h0M605.9 51.5h0M591.8 37.2h0M640.8 68.5h0M657.7 63.9h0M579.4 51.9h0M646.9 68.5h0M594.3 69.9h0M613.0 82.2h0M572.0 38.7h0M542.7 92.2h0M616.8 54.0h0M609.6 49.1h0M642.6 65.2h0M631.1 85.3h0M633.8 76.1h0M580.2 66.7h0M634.0 83.2h0M669.0 85.0h0M635.2 68.3h0M601.6 46.1h0M572.7 53.2h0M610.9 104.9h0M613.6 51.9h0M674.3 60.4h0M595.1 70.9h0" stroke="#3b0f70" stroke-opacity="0.76" stroke-width="2.6" stroke-linecap="round" fill="none"/>
<path d="M653.5 81.4h0M631.6 84.3h0M605.8 53.6h0M613.7 74.9h0M612.5 79.5h0M540.5 89.8h0M640.2 76.8h0M560.9 49.2h0M581.1 85.5h0M612.3 74.6h0M640.8 69.3h0M574.4 59.4h0M666.8 61.9h0M610.8 75.2h0M597.5 106.7h0M573.5 38.6h0M526.0 58.6h0M581.5 58.8h0M578.0 60.0h0M596.5 69.8h0M615.2 53.6h0M613.8 52.9h0M665.3 74.2h0M661.2 71.0h0M644.5 69.4h0M635.5 77.5h0M612.9 54.1h0M604.6 51.2h0M579.8 31.4h0M613.3 47.5h0M633.5 70.4h0M665.9 55.3h0M663.5 74.3h0M675.5 59.6h0M601.5 33.6h0M580.3 68.4h0M618.4 74.8h0M613.7 78.8h0M581.0 48.5h0M586.5 51.6h0M629.7 71.2h0M592.8 70.5h0M586.4 90.7h0M526.7 58.0h0M572.1 38.9h0M613.7 53.5h0M626.3 69.6h0M618.5 79.5h0M613.4 50.2h0M509.8 59.8h0M612.7 51.7h0M586.9 35.2h0M660.1 67.7h0M590.3 35.0h0M596.9 48.8h0M612.6 48.6h0M600.9 32.6h0M664.5 59.4h0M541.4 91.9h0M613.9 55.1h0M626.6 70.3h0M580.3 30.6h0M659.0 65.7h0M591.7 37.4h0M585.9 50.6h0M597.6 46.9h0M576.7 49.6h0M579.5 66.3h0M542.3 92.0h0M565.1 92.6h0M587.4 50.1h0M675.6 60.6h0M582.4 48.1h0M612.0 51.8h0M624.4 72.8h0M581.0 32.9h0M540.9 84.0h0M598.0 106.9h0M487.3 45.5h0M610.2 48.8h0M563.2 53.8h0M651.9 66.1h0M618.1 79.0h0M605.6 52.0h0M594.2 67.3h0M587.7 50.4h0M630.0 72.3h0M663.3 69.7h0M625.9 70.4h0" stroke="#3b0f70" stroke-opacity="0.76" stroke-width="2.6" stroke-linecap="round" fill="none"/>
<path d="M664.2 75.0h0M581.4 47.5h0M614.5 75.6h0M538.4 90.0h0M605.2 90.9h0M566.4 35.9h0M661.6 60.1h0M594.2 70.9h0M597.7 46.2h0M648.2 68.1h0M632.5 85.1h0M611.0 76.8h0M653.8 82.6h0M646.4 68.7h0M558.3 57.8h0M571.9 40.3h0M630.0 73.2h0M629.9 69.0h0M601.4 46.4h0M661.0 57.7h0M569.6 92.8h0M614.3 73.6h0M616.1 51.9h0M611.4 73.9h0M532.3 91.5h0M593.1 70.0h0M610.2 76.6h0M597.9 48.6h0M616.0 51.7h0M574.1 56.6h0M602.2 34.2h0M671.9 67.7h0M581.9 57.7h0M599.1 106.8h0M663.5 70.1h0M630.0 71.4h0M642.4 66.3h0M563.1 92.9h0M596.1 47.8h0M634.6 68.3h0M582.5 92.4h0M467.3 39.8h0M631.5 71.5h0M612.0 48.7h0M636.4 69.3h0M668.9 58.5h0M590.1 67.6h0M660.7 72.7h0M588.0 53.3h0M627.8 71.7h0M644.8 64.9h0M579.1 30.6h0M660.9 59.9h0M611.5 51.8h0M617.1 52.6h0M610.0 47.3h0M668.3 85.0h0M598.7 85.1h0M629.8 75.6h0M566.2 62.4h0M646.2 68.1h0M585.7 49.6h0M661.1 60.4h0M584.9 67.8h0M613.9 81.7h0M658.0 64.7h0M646.8 69.3h0M616.0 52.4h0M621.6 76.7h0M608.0 54.1h0M594.6 67.6h0M592.1 70.7h0M563.6 49.0h0M610.5 75.9h0M660.5 59.3h0M609.2 85.2h0M616.4 73.7h0M585.6 91.2h0M582.2 49.8h0M584.2 89.4h0M573.3 39.5h0M614.1 81.6h0M579.9 57.9h0M637.7 84.5h0M588.0 36.8h0M585.7 90.7h0M614.5 57.3h0M620.5 77.9h0M620.8 78.5h0" stroke="#3b0f70" stroke-opacity="0.76" stroke-width="2.6" stroke-linecap="round" fill="none"/>
<path d="M562.8 81.3h0M590.2 35.1h0M659.6 66.0h0M575.7 41.6h0M615.4 53.6h0M650.7 66.7h0M672.6 61.8h0M563.4 79.6h0M607.4 51.2h0M612.1 50.8h0M666.2 65.3h0M613.6 49.1h0M578.3 58.5h0M580.9 67.6h0M613.6 73.8h0M578.2 91.8h0M668.8 67.6h0M605.8 47.9h0M571.5 91.7h0M569.0 90.5h0M574.8 39.7h0M612.0 48.2h0M619.3 76.8h0M585.1 47.3h0M671.8 66.3h0M577.4 96.8h0M611.7 53.8h0M609.6 75.0h0M603.2 106.6h0M631.8 67.8h0M526.8 59.1h0M584.0 83.2h0M617.0 51.7h0M591.7 88.1h0M629.1 70.4h0M597.6 106.0h0M576.4 37.0h0M597.8 68.0h0M591.1 75.4h0M641.5 66.4h0M606.0 49.7h0M637.8 83.3h0M672.1 60.7h0M576.7 46.1h0M666.0 55.4h0M654.5 67.0h0M673.4 66.4h0M631.1 75.1h0M612.1 49.8h0M659.6 57.2h0M612.3 50.3h0M560.6 57.8h0M614.8 83.0h0M581.6 56.6h0M634.1 71.6h0M609.1 55.0h0M615.4 52.8h0M613.2 49.5h0M595.1 108.4h0M674.2 67.5h0M670.5 67.9h0M549.0 94.3h0M632.3 85.7h0M576.8 42.2h0M586.3 90.1h0M659.4 60.8h0M647.5 68.6h0M673.5 60.6h0M579.6 46.7h0M580.2 51.5h0M525.6 59.3h0M613.7 58.3h0M641.9 68.1h0M667.4 59.5h0M559.0 49.0h0M646.0 67.9h0M656.5 65.9h0M612.8 48.5h0M609.7 80.5h0M606.6 83.4h0M557.8 58.4h0M609.3 80.5h0M577.2 43.1h0M595.8 87.0h0M614.1 78.8h0M642.2 65.6h0M667.5 65.7h0M663.8 71.5h0M610.0 83.8h0" stroke="#3b0f70" stroke-opacity="0.76" stroke-width="2.6" stroke-linecap="round" fill="none"/>
<path d="M609.1 49.4h0M625.9 71.3h0M569.1 91.3h0M644.3 69.7h0M637.3 70.0h0M582.9 85.4h0M594.7 86.9h0M667.6 59.8h0M576.8 41.2h0M578.7 30.3h0M542.3 90.1h0M573.6 118.8h0M586.1 45.9h0M577.7 50.1h0M598.3 77.6h0M630.3 83.7h0M634.9 84.0h0M608.6 50.2h0M612.1 51.8h0M575.6 43.6h0M560.8 59.5h0M608.4 49.3h0M595.6 71.1h0M648.9 67.5h0M640.8 76.3h0M561.3 59.4h0M528.4 58.6h0M612.5 59.1h0M617.8 73.8h0M578.3 46.9h0M543.2 92.0h0M667.6 62.7h0M616.7 53.8h0M578.6 31.4h0M612.9 83.4h0M633.1 68.7h0M584.3 90.5h0M602.2 34.2h0M617.1 76.7h0M613.1 84.7h0M612.6 50.1h0M640.6 79.3h0M558.8 50.3h0M580.7 68.2h0M565.0 92.0h0M605.0 47.1h0M544.3 92.5h0M587.7 35.7h0M608.0 50.9h0M655.2 67.2h0M612.1 49.8h0M578.1 91.2h0M666.2 65.9h0M592.1 74.2h0M568.2 90.6h0M575.8 56.9h0M637.9 83.8h0M596.6 48.6h0M502.5 62.2h0M615.4 83.0h0M642.8 69.3h0M647.0 66.5h0M575.7 40.0h0M592.4 68.5h0M590.1 75.3h0M611.9 75.1h0M564.3 90.8h0M619.6 77.8h0M563.5 91.0h0M614.2 75.8h0M633.0 68.6h0M610.3 53.8h0M597.3 49.4h0M563.6 48.4h0M642.1 66.2h0M614.8 80.3h0M577.4 58.5h0M625.7 72.1h0M611.8 49.3h0M674.0 60.9h0M667.8 58.9h0M605.5 48.4h0M612.3 76.7h0M579.4 49.1h0M578.5 40.9h0M584.9 54.7h0M575.7 45.5h0M667.5 62.5h0M619.8 79.7h0" stroke="#3b0f70" stroke-opacity="0.76" stroke-width="2.6" stroke-linecap="round" fill="none"/>
<path d="M533.8 17.4h0M563.5 18.6h0M532.1 20.9h0M495.9 21.7h0M488.3 21.8h0M498.5 19.8h0M560.2 16.3h0M550.3 13.8h0M563.0 17.8h0M477.1 27.3h0M536.5 12.8h0M507.2 17.7h0M552.6 17.6h0M535.2 13.5h0M484.2 35.4h0M524.1 19.8h0M555.4 19.2h0M523.9 15.5h0M552.3 13.9h0M513.5 27.6h0M505.9 17.7h0M561.9 17.5h0M479.7 27.0h0M548.1 11.4h0M548.5 16.5h0M507.6 15.5h0M522.1 17.3h0M482.4 27.0h0M496.0 20.4h0M533.9 24.2h0M476.5 30.1h0M572.1 32.2h0M539.9 20.3h0M544.5 11.3h0M469.7 32.3h0M564.7 43.6h0M490.7 19.9h0M485.8 22.4h0M542.0 13.3h0M555.7 18.2h0M564.5 22.6h0M467.9 28.6h0M510.4 24.7h0M486.2 26.6h0M483.4 35.8h0M524.0 18.6h0M545.5 16.8h0M617.7 50.3h0M504.2 26.8h0M531.5 17.7h0M578.3 23.4h0M559.4 19.1h0M501.4 25.4h0M481.7 25.2h0M572.0 31.5h0M547.2 12.7h0M563.5 15.8h0M550.0 12.2h0M548.2 18.9h0M508.3 16.6h0M503.6 25.9h0M508.5 19.5h0M552.5 49.1h0M467.3 27.7h0M524.3 17.4h0M570.6 23.4h0" stroke="#8c2981" stroke-opacity="0.76" stroke-width="2.6" stroke-linecap="round" fill="none"/>
<path d="M502.3 17.4h0M517.0 13.7h0M552.7 44.6h0M532.7 13.8h0M517.7 22.0h0M502.5 19.7h0M560.4 20.8h0M528.1 20.1h0M495.4 17.1h0M559.0 21.0h0M555.2 19.9h0M507.3 18.0h0M487.1 22.5h0M507.0 27.4h0M508.7 26.8h0M565.8 19.2h0M540.0 12.7h0M477.3 27.1h0M493.7 24.2h0M530.2 15.5h0M530.0 20.5h0M491.7 21.0h0M531.0 22.8h0M517.6 19.3h0M477.0 27.3h0M554.6 13.4h0M568.5 28.8h0M499.7 17.9h0M504.1 18.9h0M576.9 24.4h0M498.8 20.9h0M514.4 26.8h0M555.0 18.0h0M534.7 22.5h0M560.5 21.5h0M485.4 25.3h0M485.0 26.0h0M496.7 21.1h0M492.1 20.0h0M567.3 19.5h0M497.2 22.4h0M544.1 11.3h0M519.0 18.9h0M499.1 16.7h0M504.2 18.6h0M542.8 41.4h0M554.4 47.5h0M557.9 14.8h0M519.7 24.3h0M536.1 16.7h0M516.8 15.3h0M482.6 23.1h0M517.6 12.9h0M468.1 27.8h0M534.6 22.1h0M493.1 20.3h0M500.7 15.2h0M564.3 27.7h0M520.1 17.7h0M562.0 25.1h0M537.9 17.6h0M529.3 15.9h0M561.1 20.5h0M521.9 15.8h0M511.1 19.5h0M527.3 17.4h0" stroke="#8c2981" stroke-opacity="0.76" stroke-width="2.6" stroke-linecap="round" fill="none"/>
<path d="M536.0 12.0h0M516.4 19.2h0M550.6 17.2h0M503.7 14.9h0M485.6 26.0h0M480.9 23.0h0M487.8 25.0h0M486.0 25.0h0M507.9 15.0h0M508.9 16.1h0M524.3 19.6h0M491.5 24.9h0M578.3 25.0h0M543.4 12.2h0M546.3 14.2h0M484.0 20.6h0M544.5 14.8h0M508.1 20.1h0M575.2 21.4h0M527.1 13.4h0M569.0 24.0h0M479.6 25.8h0M534.1 22.7h0M525.7 16.6h0M537.2 16.0h0M494.2 20.9h0M535.4 16.3h0M485.0 21.9h0M576.7 24.0h0M566.5 22.5h0M510.0 18.2h0M566.2 27.5h0M521.4 19.6h0M486.8 22.9h0M537.8 13.5h0M503.5 26.5h0M526.3 19.5h0M568.2 20.1h0M501.5 26.6h0M563.0 26.7h0M483.3 35.9h0M536.0 14.7h0M536.1 15.0h0M562.6 18.2h0M533.7 14.2h0M529.0 23.1h0M545.5 16.1h0M539.9 17.1h0M519.3 23.4h0M531.9 12.9h0M532.8 17.1h0M507.8 25.4h0M519.1 22.8h0M494.4 18.0h0M542.2 11.5h0M556.4 14.8h0M535.2 14.8h0M525.6 22.4h0M566.2 28.0h0M520.5 18.6h0M566.9 24.4h0M489.4 25.9h0M498.9 15.6h0M548.5 11.3h0M560.4 17.3h0M495.4 19.3h0" stroke="#8c2981" stroke-opacity="0.76" stroke-width="2.6" stroke-linecap="round" fill="none"/>
<path d="M561.0 26.0h0M486.7 21.4h0M538.1 21.1h0M515.5 21.9h0M539.0 19.8h0M516.2 23.4h0M551.6 13.4h0M517.1 19.3h0M468.5 29.8h0M553.0 47.3h0M549.5 14.1h0M528.7 17.9h0M481.7 28.1h0M511.9 14.2h0M521.4 13.8h0M518.3 16.0h0M493.3 19.3h0M522.0 15.0h0M478.0 25.8h0M533.1 15.7h0M554.0 47.1h0M485.0 21.4h0M573.0 31.6h0M515.3 16.4h0M519.8 23.5h0M500.7 29.3h0M570.7 23.7h0M509.1 15.2h0M565.6 43.8h0M544.3 13.8h0M593.6 35.0h0M528.4 19.9h0M561.3 26.8h0M525.2 17.4h0M532.8 12.0h0M533.4 18.1h0M479.4 23.5h0M560.6 19.1h0M470.7 30.5h0M542.5 42.1h0M489.2 21.6h0M534.2 21.1h0M522.1 19.9h0M544.7 11.6h0M565.1 21.5h0M565.6 19.0h0M538.3 20.4h0M561.8 20.2h0M497.6 16.4h0M509.5 16.9h0M546.0 14.9h0M565.3 25.4h0M494.9 19.9h0M513.7 22.6h0M536.7 15.0h0M484.9 23.9h0M493.8 18.9h0M532.1 14.0h0M618.7 50.7h0M544.9 16.1h0M539.7 17.3h0M516.9 19.4h0M580.8 26.0h0M570.4 24.6h0M490.2 21.0h0M515.7 15.8h0" stroke="#8c2981" stroke-opacity="0.76" stroke-width="2.6" stroke-linecap="round" fill="none"/>
<path d="M561.7 18.5h0M563.2 19.9h0M551.6 13.2h0M567.8 24.5h0M501.2 26.6h0M544.7 14.0h0M534.0 22.3h0M533.3 19.6h0M500.9 20.1h0M549.0 15.1h0M537.1 15.6h0M571.9 30.0h0M534.0 21.6h0M531.0 21.0h0M508.3 27.8h0M567.2 20.4h0M521.6 15.8h0M531.8 11.4h0M535.7 11.4h0M579.4 24.0h0M515.1 19.2h0M489.7 20.1h0M484.1 25.4h0M481.5 22.6h0M534.1 14.9h0M569.1 27.8h0M518.4 22.5h0M535.4 16.0h0M514.2 19.6h0M501.9 28.6h0M507.3 16.5h0M500.8 28.6h0M470.8 33.5h0M511.6 19.9h0M516.2 24.3h0M519.1 22.8h0M501.2 30.6h0M556.7 15.5h0M562.8 27.5h0M570.0 28.8h0M485.1 27.6h0M512.3 16.4h0M541.8 15.0h0M507.6 14.2h0M567.4 19.1h0M488.0 22.1h0M479.8 23.2h0M481.9 22.7h0M536.1 15.8h0M555.3 51.5h0M493.0 24.0h0M519.3 15.6h0M517.5 18.4h0M560.1 17.9h0M535.6 16.8h0M476.1 27.5h0M580.5 24.6h0M515.0 22.9h0M554.0 15.7h0M547.2 10.2h0M553.5 15.4h0M529.0 18.0h0M524.4 15.3h0M567.8 29.3h0M538.3 13.0h0M494.5 20.0h0" stroke="#8c2981" stroke-opacity="0.76" stroke-width="2.6" stroke-linecap="round" fill="none"/>
<path d="M499.8 19.9h0M485.4 24.2h0M516.2 21.8h0M571.0 27.2h0M594.9 35.3h0M538.8 15.1h0M554.7 19.6h0M551.9 48.8h0M508.6 14.8h0M533.4 12.7h0M556.6 14.6h0M483.3 25.6h0M512.9 22.4h0M467.6 28.6h0M535.1 18.7h0M470.5 34.2h0M514.1 21.2h0M495.8 23.0h0M481.7 21.7h0M540.9 12.8h0M515.5 15.5h0M574.7 27.1h0M539.8 14.9h0M533.4 19.7h0M595.9 38.9h0M579.6 25.2h0M480.0 24.9h0M545.4 16.0h0M519.6 15.1h0M482.0 22.1h0M544.2 16.1h0M500.2 30.4h0M479.2 23.4h0M535.7 16.3h0M553.7 12.9h0M504.5 14.5h0M597.0 39.1h0M543.8 15.3h0M570.5 25.1h0M545.8 13.3h0M493.4 22.1h0M476.3 29.8h0M550.1 14.0h0M516.1 16.1h0M562.6 19.5h0M567.1 24.9h0M533.7 15.9h0M513.1 26.4h0M504.1 17.0h0M501.3 18.6h0M496.3 19.4h0M535.1 11.0h0M496.9 18.0h0M510.3 17.2h0M533.0 14.0h0M518.2 14.4h0M554.8 51.4h0M496.8 16.7h0M485.7 23.7h0M503.9 25.4h0M517.7 12.9h0M563.9 18.9h0M488.6 23.8h0M566.3 26.6h0M536.8 18.3h0M569.5 27.5h0" stroke="#8c2981" stroke-opacity="0.76" stroke-width="2.6" stroke-linecap="round" fill="none"/>
<path d="M558.2 20.1h0M504.6 25.3h0M534.4 22.7h0M493.3 20.6h0M501.4 20.6h0M493.3 18.7h0M561.8 17.7h0M500.3 16.4h0M537.3 12.2h0M502.0 25.7h0M536.1 60.3h0M516.1 24.2h0M547.2 14.3h0M482.0 24.7h0M537.3 17.8h0M557.5 17.6h0M517.5 16.3h0M536.5 10.9h0M483.9 23.0h0M509.0 14.8h0M531.9 19.5h0M534.6 16.2h0M514.3 15.4h0M504.4 14.2h0M568.6 21.5h0M443.4 60.5h0M533.3 14.0h0M544.7 12.7h0M494.3 20.4h0M537.1 12.8h0M504.7 14.6h0M551.8 14.7h0M544.4 10.4h0M486.6 26.1h0M497.5 20.5h0M486.6 25.1h0M516.0 17.8h0M546.0 12.7h0M543.4 18.3h0M531.6 14.1h0M511.2 25.0h0M514.0 14.1h0M554.6 52.2h0M511.5 19.3h0M542.5 15.4h0M503.9 26.8h0M561.1 19.3h0M543.1 17.2h0M562.1 27.4h0M512.5 15.7h0M544.0 14.1h0M512.1 15.6h0M516.4 18.7h0M490.9 20.2h0M558.3 16.5h0M479.2 28.7h0M517.3 24.3h0M595.3 35.1h0M528.4 15.1h0M526.7 15.1h0M565.5 23.9h0M492.6 20.5h0M565.2 19.8h0M578.3 25.6h0M518.5 22.6h0M493.2 19.0h0" stroke="#8c2981" stroke-opacity="0.76" stroke-width="2.6" stroke-linecap="round" fill="none"/>
<path d="M578.8 23.2h0M511.2 16.6h0M577.5 25.4h0M595.7 39.4h0M543.1 12.4h0M553.4 18.6h0M562.4 27.5h0M538.5 19.6h0M501.1 25.1h0M481.5 26.8h0M531.9 12.7h0M540.5 18.4h0M550.9 12.3h0M503.5 18.6h0M543.1 43.1h0M517.3 18.9h0M508.9 28.0h0M536.8 10.8h0M535.2 23.8h0M553.0 18.0h0M502.7 27.2h0M547.8 11.3h0M531.3 23.5h0M513.0 18.9h0M500.4 19.8h0M544.3 15.7h0M544.4 10.1h0M559.9 14.9h0M473.1 27.4h0M570.4 32.0h0M523.9 20.4h0M525.6 16.8h0M566.6 21.7h0M502.0 27.1h0M565.6 24.6h0M532.0 12.4h0M548.8 17.5h0M527.5 21.0h0M541.4 14.6h0M521.1 23.2h0M498.8 27.2h0M548.6 16.1h0M552.1 47.7h0M555.7 16.1h0M534.2 21.0h0M541.1 18.3h0M596.4 37.5h0M538.6 14.7h0M555.2 20.2h0M493.7 19.5h0M529.5 11.7h0M561.5 15.9h0M522.1 12.6h0M514.8 21.2h0M522.9 19.2h0M536.5 19.7h0M507.8 29.6h0M496.3 21.7h0M532.5 17.5h0M482.9 27.6h0M539.8 16.7h0M534.9 13.8h0M551.0 12.2h0M574.0 27.6h0M517.2 16.9h0" stroke="#8c2981" stroke-opacity="0.76" stroke-width="2.6" stroke-linecap="round" fill="none"/>
<path d="M474.1 148.2h0M446.2 149.7h0M379.7 97.9h0M432.7 145.9h0M388.8 100.7h0M382.0 74.3h0M449.3 100.8h0M397.8 78.5h0M391.3 78.0h0M471.5 151.8h0M379.7 102.3h0M403.3 81.3h0M407.9 96.7h0M392.4 122.9h0M399.8 58.8h0M444.4 39.7h0M450.2 101.7h0M389.6 124.4h0M449.4 74.4h0M386.6 95.1h0M387.5 98.4h0M481.1 110.5h0M454.1 160.4h0M481.3 139.1h0M507.5 80.8h0M422.3 136.1h0M395.5 84.7h0M397.2 50.3h0M410.1 81.0h0M413.6 129.1h0M450.8 74.6h0M446.9 96.0h0M403.0 58.0h0M490.2 157.7h0M430.8 99.0h0M459.1 81.6h0M395.6 65.1h0M394.4 53.3h0M457.3 42.4h0M386.3 95.0h0M433.5 147.3h0M427.3 73.6h0M391.9 94.2h0M481.1 139.1h0M479.7 161.8h0M420.8 74.8h0M425.8 93.0h0M404.0 70.8h0M406.7 96.2h0M392.4 77.2h0M402.2 92.5h0M425.0 38.7h0M469.1 151.2h0M446.2 149.3h0M390.0 121.0h0M405.5 83.5h0M377.7 65.8h0M442.9 99.2h0M434.1 145.7h0M496.8 147.4h0M463.5 108.7h0M471.6 69.1h0M498.4 179.6h0M479.6 164.0h0M433.3 131.4h0M392.9 63.1h0M391.4 93.2h0M445.6 96.4h0M405.0 74.0h0M473.9 109.4h0M460.4 36.8h0M405.9 130.3h0M425.6 35.0h0M387.4 122.8h0M473.0 141.0h0M377.9 69.2h0M392.4 102.4h0M462.2 58.9h0M395.8 129.1h0M415.6 133.5h0M422.5 81.8h0M439.3 63.4h0M547.4 170.9h0M393.8 63.0h0M428.4 135.6h0M472.8 27.6h0M453.9 135.2h0M386.0 87.9h0M460.3 69.1h0M456.3 68.1h0M459.4 92.7h0M380.0 74.0h0M454.5 144.6h0M467.6 38.1h0M389.0 71.6h0M396.7 124.3h0M473.6 145.4h0M398.4 83.0h0M382.8 79.2h0M412.0 131.8h0M414.4 87.7h0M519.3 145.6h0M471.5 75.2h0M430.2 142.8h0M451.2 161.4h0M471.0 155.0h0M425.9 124.2h0M444.8 59.0h0M403.9 72.4h0M393.3 60.3h0M427.6 74.5h0M409.3 125.5h0M383.6 102.0h0M407.2 90.3h0M384.0 67.3h0M454.8 71.5h0M442.2 97.2h0M482.8 78.0h0M473.8 138.7h0M388.0 123.3h0M463.1 136.6h0M492.5 141.9h0M404.9 85.6h0M502.9 143.0h0M397.4 120.0h0M441.8 99.7h0M411.1 125.7h0M429.8 72.8h0M481.0 166.0h0M452.3 39.3h0M409.7 61.4h0M454.1 144.2h0M452.7 80.3h0M386.2 71.5h0M454.7 80.1h0M444.4 96.0h0M431.5 42.1h0M424.9 46.5h0M490.2 158.0h0M387.5 93.6h0M383.3 72.3h0M395.5 93.2h0M390.2 117.9h0M439.4 32.4h0M453.0 142.4h0M388.6 120.2h0M490.1 142.1h0M426.4 66.2h0M418.1 49.2h0M399.0 53.2h0M399.2 75.6h0M435.0 43.3h0M449.2 139.0h0M459.5 32.9h0M409.1 66.5h0M423.6 54.2h0M380.9 95.2h0M460.3 42.7h0M493.1 27.3h0M597.0 39.5h0M405.9 133.2h0M434.6 63.5h0M404.5 57.0h0M431.6 98.4h0M425.9 95.2h0M435.9 147.4h0M408.0 80.0h0M492.8 147.2h0M441.8 97.8h0M470.3 75.7h0M412.3 53.8h0M398.2 98.2h0M392.4 61.2h0M443.6 57.9h0M474.8 156.5h0M497.6 177.4h0M397.5 79.3h0M410.3 98.0h0M416.8 91.9h0M378.6 64.7h0M411.1 64.0h0M442.7 38.8h0M425.2 71.6h0M438.7 57.1h0M418.8 63.5h0M427.0 35.2h0M428.0 151.5h0M414.9 102.0h0M437.5 149.8h0M392.5 96.6h0M469.3 151.1h0M418.4 71.0h0M460.9 91.2h0M400.4 127.7h0M414.0 64.8h0M421.4 39.6h0M398.1 61.0h0M493.9 152.5h0M380.1 82.9h0M450.5 52.3h0M417.8 137.7h0M458.4 84.2h0M430.7 97.9h0M383.7 79.4h0M406.5 134.3h0M448.9 57.1h0M405.7 87.1h0M410.3 80.4h0M392.4 92.8h0M394.9 101.2h0M469.2 147.7h0M537.1 160.6h0M389.4 116.3h0M435.8 32.9h0M430.7 46.9h0M410.1 103.9h0M430.9 156.0h0M434.9 159.3h0M485.6 46.8h0M518.6 118.8h0M377.6 65.1h0M446.9 103.2h0M471.2 97.1h0M391.1 93.3h0M471.7 37.5h0M470.4 38.3h0M419.2 47.9h0M436.6 152.1h0M449.1 74.7h0M393.2 56.9h0M458.9 135.4h0M399.4 58.3h0M429.6 143.2h0M385.3 120.9h0M391.8 75.4h0M387.0 99.7h0M447.8 158.6h0M393.3 124.0h0M493.5 27.6h0M468.5 107.6h0M426.4 80.7h0M433.3 39.5h0M468.2 153.7h0M391.8 95.2h0M418.6 38.9h0M464.2 37.4h0M418.0 50.4h0M483.0 85.2h0M440.7 56.1h0M428.6 149.0h0M501.6 141.0h0M446.9 135.5h0M448.6 54.4h0M492.5 149.4h0M377.9 69.7h0M450.9 75.5h0M407.6 62.9h0M470.9 68.0h0M460.7 31.6h0M465.2 57.1h0M401.3 95.0h0M400.2 79.0h0M393.5 100.3h0M388.1 85.1h0M401.2 50.1h0M422.1 71.0h0M433.1 71.9h0M464.5 134.9h0M473.2 69.2h0M424.2 54.2h0M469.5 66.9h0M475.1 100.1h0M385.7 116.4h0M404.6 98.4h0M385.7 115.8h0" stroke="#de4968" stroke-opacity="0.76" stroke-width="2.6" stroke-linecap="round" fill="none"/>
<path d="M442.4 98.4h0M398.8 55.3h0M383.9 118.1h0M444.5 59.8h0M487.1 45.9h0M406.2 96.6h0M390.6 100.7h0M438.0 101.5h0M491.1 162.0h0M413.8 64.8h0M436.6 33.8h0M463.3 68.9h0M577.0 150.1h0M465.8 67.7h0M407.2 100.3h0M437.2 33.6h0M570.8 153.0h0M455.6 158.5h0M435.1 44.0h0M457.0 100.3h0M385.0 112.7h0M408.1 84.7h0M396.5 82.1h0M421.0 137.5h0M431.8 151.4h0M433.0 93.5h0M393.8 125.8h0M396.1 130.4h0M446.5 98.9h0M405.5 86.3h0M385.1 102.3h0M451.1 37.3h0M419.3 62.6h0M463.2 139.1h0M386.5 118.5h0M437.0 151.0h0M438.0 35.0h0M440.6 60.5h0M391.0 70.5h0M392.4 99.9h0M448.0 55.6h0M460.4 91.5h0M425.1 124.9h0M445.1 80.5h0M429.1 54.1h0M431.8 88.7h0M420.7 38.6h0M468.7 37.9h0M438.4 48.0h0M454.6 74.2h0M395.6 63.2h0M437.0 144.0h0M463.6 45.5h0M429.0 45.7h0M428.0 67.2h0M400.9 49.6h0M461.1 43.1h0M480.9 165.1h0M390.9 119.7h0M413.6 143.5h0M387.3 101.7h0M466.3 85.0h0M432.7 154.9h0M434.4 87.8h0M448.4 77.8h0M577.4 152.2h0M388.8 64.5h0M447.1 104.2h0M423.6 146.6h0M428.1 69.4h0M400.4 57.8h0M432.3 157.7h0M409.9 130.9h0M442.1 58.6h0M488.7 157.2h0M455.2 40.8h0M445.2 57.7h0M431.3 36.5h0M381.8 74.6h0M388.9 68.1h0M432.1 161.2h0M401.0 124.9h0M421.6 133.7h0M476.9 100.7h0M400.1 80.2h0M537.6 160.5h0M411.3 127.5h0M419.5 61.8h0M395.9 102.7h0M442.5 48.2h0M381.4 102.5h0M439.4 44.2h0M460.9 84.0h0M392.9 118.0h0M431.3 43.3h0M435.3 129.4h0M441.7 48.3h0M504.6 108.5h0M431.1 139.6h0M395.4 126.9h0M424.8 71.9h0M412.0 144.6h0M490.5 161.9h0M397.9 81.2h0M381.5 79.7h0M408.9 103.9h0M435.7 48.4h0M391.7 62.6h0M414.7 63.1h0M489.1 117.2h0M393.9 121.4h0M464.3 48.7h0M467.1 145.8h0M448.8 39.7h0M408.6 125.1h0M450.8 57.8h0M380.1 73.9h0M425.6 53.0h0M409.5 77.9h0M429.3 154.2h0M440.4 63.2h0M450.3 161.4h0M390.9 97.8h0M466.1 36.5h0M462.4 139.6h0M403.5 94.2h0M546.4 167.9h0M464.1 58.8h0M435.5 98.4h0M397.6 118.7h0M409.3 61.6h0M390.9 61.6h0M463.3 60.7h0M410.1 47.4h0M503.0 140.5h0M442.0 41.6h0M383.0 114.7h0M407.0 90.2h0M413.3 128.3h0M395.3 81.6h0M432.3 66.0h0M414.0 141.1h0M446.5 40.1h0M383.4 102.9h0M408.4 50.1h0M414.4 131.0h0M429.8 138.4h0M424.7 95.3h0M380.5 88.9h0M378.9 65.7h0M456.1 40.2h0M389.2 62.4h0M379.8 82.8h0M394.7 59.3h0M395.8 77.7h0M494.0 143.2h0M419.0 70.4h0M392.3 119.9h0M441.5 158.5h0M407.7 126.5h0M400.1 77.4h0M422.3 95.3h0M413.5 133.1h0M431.2 84.6h0M484.4 37.4h0M442.4 61.8h0M441.7 158.5h0M457.8 83.7h0M492.6 141.1h0M487.5 46.7h0M427.2 125.7h0M382.0 93.9h0M410.9 129.8h0M469.3 154.1h0M502.0 143.0h0M432.0 35.7h0M387.5 70.9h0M458.3 34.0h0M523.1 145.7h0M420.9 39.9h0M436.0 36.6h0M378.1 89.8h0M474.8 156.8h0M377.6 65.2h0M395.5 100.9h0M385.2 115.9h0M413.3 89.0h0M479.7 39.5h0M435.3 39.6h0M428.4 139.1h0M385.4 115.7h0M435.5 82.2h0M390.9 93.7h0M407.7 126.7h0M466.0 103.6h0M412.9 101.6h0M457.8 82.0h0M476.0 36.6h0M403.2 133.5h0M431.3 44.2h0M452.2 73.3h0M428.0 81.0h0M403.4 88.3h0M419.8 48.2h0M482.8 138.0h0M383.8 66.4h0M408.9 103.5h0M469.3 68.4h0M455.6 154.7h0M435.1 128.4h0M437.9 58.9h0M578.0 150.4h0M444.4 148.5h0M394.1 59.2h0M381.2 114.9h0M425.1 52.1h0M477.1 138.4h0M427.1 124.0h0M410.6 75.4h0M436.4 145.7h0M379.8 68.1h0M407.6 128.6h0M397.1 97.1h0M420.8 41.3h0M389.0 63.0h0M476.0 39.1h0M456.2 74.4h0M403.7 89.7h0M466.3 162.2h0M429.0 66.2h0M387.9 123.1h0M487.8 156.8h0M441.5 100.4h0M480.3 38.7h0M491.2 161.8h0M423.9 146.9h0M377.8 65.8h0M414.3 40.4h0M459.2 42.6h0M420.2 63.8h0M407.1 87.8h0M435.3 44.4h0M387.2 87.1h0M450.0 56.3h0M393.4 120.4h0M378.3 91.4h0M487.0 138.5h0M458.8 32.5h0M409.8 54.3h0M418.4 64.3h0M444.8 155.2h0M398.0 74.4h0M394.3 102.1h0M455.5 81.3h0M429.2 81.6h0M377.9 91.2h0M404.3 86.5h0M427.6 65.9h0M461.2 84.1h0M443.5 100.9h0M403.6 86.6h0M448.2 52.2h0M455.4 136.6h0M448.4 58.5h0M385.7 103.8h0M460.6 107.5h0M431.4 72.3h0M387.6 87.2h0M493.9 153.9h0M391.6 97.6h0M448.3 161.5h0M488.1 114.2h0M406.5 72.0h0M398.5 121.8h0M378.1 95.9h0" stroke="#de4968" stroke-opacity="0.76" stroke-width="2.6" stroke-linecap="round" fill="none"/>
<path d="M443.5 101.1h0M378.0 65.4h0M431.7 138.0h0M381.6 112.1h0M433.7 160.6h0M404.3 84.3h0M401.8 86.6h0M407.8 103.9h0M431.9 44.2h0M443.0 62.9h0M383.1 115.7h0M457.5 136.1h0M439.9 47.8h0M432.2 87.7h0M399.2 75.4h0M426.6 124.1h0M382.0 69.3h0M444.6 103.8h0M488.8 160.6h0M391.0 119.3h0M407.4 90.6h0M401.4 95.7h0M428.6 151.2h0M442.3 41.2h0M401.2 78.7h0M459.2 44.0h0M408.4 103.7h0M389.7 93.7h0M459.9 73.9h0M413.1 140.9h0M472.9 147.2h0M450.4 39.7h0M393.3 83.2h0M459.3 135.7h0M412.9 129.1h0M451.0 136.6h0M460.1 104.8h0M403.7 84.2h0M424.2 137.5h0M445.8 103.2h0M447.1 79.6h0M451.2 137.0h0M412.2 98.2h0M447.1 150.5h0M387.8 62.7h0M462.5 140.2h0M408.0 91.4h0M446.4 58.0h0M411.6 141.2h0M381.7 71.7h0M443.9 54.5h0M446.2 96.8h0M468.0 75.5h0M423.8 92.6h0M456.2 160.3h0M500.8 143.2h0M382.9 114.0h0M464.5 37.4h0M392.4 75.2h0M386.2 115.9h0M467.7 41.3h0M396.7 64.2h0M411.9 61.9h0M545.7 169.1h0M388.1 98.0h0M467.2 135.6h0M454.5 161.4h0M613.6 138.0h0M439.9 62.5h0M450.1 51.5h0M460.7 92.4h0M425.5 52.6h0M440.2 59.0h0M464.0 67.8h0M394.5 53.0h0M408.7 48.6h0M445.7 41.4h0M386.1 88.9h0M480.6 37.6h0M405.6 86.7h0M425.7 95.2h0M377.9 76.7h0M445.8 56.4h0M473.1 38.0h0M442.1 103.6h0M440.4 61.7h0M405.3 132.7h0M383.6 118.7h0M434.9 147.7h0M451.8 51.0h0M391.2 125.3h0M405.8 81.2h0M384.3 88.3h0M388.5 121.6h0M468.5 149.9h0M427.7 125.1h0M469.8 147.8h0M455.1 40.2h0M446.5 97.1h0M460.2 139.5h0M405.9 126.3h0M419.1 93.2h0M438.1 148.4h0M450.6 149.1h0M504.5 143.4h0M446.7 158.6h0M508.9 20.8h0M378.2 68.0h0M455.4 153.7h0M406.9 94.9h0M383.8 74.6h0M381.7 79.4h0M437.1 35.0h0M468.9 38.2h0M463.4 44.7h0M402.4 125.3h0M407.3 129.7h0M476.4 154.2h0M438.5 152.9h0M405.4 87.4h0M541.5 172.2h0M455.4 40.2h0M424.1 146.5h0M404.7 83.7h0M487.4 140.7h0M493.2 141.7h0M545.7 171.2h0M480.3 138.2h0M469.5 96.8h0M447.2 100.9h0M410.0 92.9h0M461.6 101.3h0M492.8 148.8h0M469.6 38.6h0M400.5 133.2h0M419.6 63.5h0M465.5 57.1h0M412.5 141.7h0M423.1 63.5h0M445.7 78.7h0M384.5 88.3h0M450.3 40.4h0M522.2 145.6h0M385.5 120.4h0M409.3 126.0h0M455.0 79.8h0M441.1 102.2h0M473.0 69.3h0M378.1 68.3h0M409.6 48.1h0M426.1 94.3h0M461.1 31.3h0M385.1 116.5h0M427.1 74.0h0M418.9 48.8h0M459.8 35.1h0M396.6 95.5h0M397.4 95.3h0M473.2 147.5h0M448.3 99.2h0M468.5 73.4h0M381.5 98.8h0M378.9 80.6h0M438.5 151.1h0M505.4 142.4h0M401.3 95.3h0M467.9 39.7h0M433.1 32.2h0M395.5 119.1h0M461.6 107.1h0M426.6 43.0h0M431.7 34.8h0M428.8 152.5h0M387.7 93.1h0M390.6 75.5h0M381.8 103.4h0M475.6 100.0h0M422.7 39.3h0M439.4 39.2h0M476.6 98.5h0M450.2 100.8h0M398.8 121.7h0M427.4 95.2h0M406.8 84.8h0M424.6 52.3h0M462.8 60.3h0M440.3 97.5h0M459.4 84.2h0M416.7 77.4h0M439.3 61.8h0M423.0 70.8h0M446.0 155.1h0M466.8 135.4h0M423.9 41.2h0M473.8 100.7h0M446.2 156.8h0M485.0 47.0h0M444.8 77.3h0M443.3 44.6h0M413.2 44.9h0M470.0 152.2h0M377.9 74.7h0M445.5 77.2h0M455.5 76.8h0M487.0 113.2h0M457.6 80.4h0M377.7 68.0h0M577.4 150.9h0M451.5 99.3h0M415.0 42.6h0M442.9 102.1h0M422.6 52.4h0M465.3 44.4h0M475.6 109.3h0M383.6 94.5h0M444.0 42.9h0M466.6 135.4h0M486.3 139.0h0M449.5 77.7h0M463.7 32.9h0M406.2 96.0h0M490.1 141.2h0M451.6 101.5h0M407.5 97.7h0M467.8 147.2h0M386.6 63.1h0M405.8 104.0h0M415.7 134.5h0M430.2 41.8h0M514.3 154.2h0M462.5 34.2h0M459.6 90.0h0M407.8 99.7h0M406.6 99.9h0M475.3 39.5h0M386.7 89.7h0M474.3 28.2h0M396.0 123.4h0M446.9 40.4h0M421.7 61.7h0M401.9 83.3h0M411.1 103.0h0M469.6 140.1h0M479.6 139.3h0M422.9 136.4h0M433.4 98.8h0M470.7 68.7h0M413.4 131.9h0M429.5 151.5h0M448.8 137.1h0M466.0 39.2h0M444.2 146.7h0M427.7 54.0h0M388.4 99.0h0M462.1 33.0h0M473.4 148.9h0M454.7 81.7h0M494.4 147.2h0M416.8 94.2h0M458.8 137.3h0M459.6 134.9h0M420.5 94.6h0M404.6 85.2h0M449.2 139.2h0M387.1 117.1h0M494.7 146.9h0M443.1 59.8h0M434.7 97.6h0M431.4 157.1h0M439.5 102.2h0M460.1 42.4h0M381.5 95.2h0M381.4 65.1h0M397.7 61.0h0M458.1 39.5h0" stroke="#de4968" stroke-opacity="0.76" stroke-width="2.6" stroke-linecap="round" fill="none"/>
<path d="M468.2 97.9h0M446.3 80.4h0M459.3 70.7h0M419.3 134.4h0M466.4 109.5h0M414.6 93.7h0M404.4 131.2h0M421.6 40.0h0M382.5 95.5h0M385.5 116.5h0M396.7 128.2h0M420.4 139.0h0M464.8 105.6h0M441.4 40.2h0M436.5 32.4h0M414.7 64.4h0M434.7 32.4h0M448.7 161.6h0M461.4 137.1h0M472.2 110.0h0M488.1 45.6h0M393.1 100.1h0M434.4 128.9h0M469.7 109.2h0M408.1 64.2h0M380.5 95.4h0M444.8 96.2h0M468.0 145.3h0M546.4 167.8h0M380.3 81.4h0M427.9 36.8h0M383.0 115.1h0M537.3 170.2h0M454.9 144.8h0M448.6 155.7h0M413.7 81.8h0M436.5 128.8h0M428.7 43.6h0M448.0 60.2h0M426.4 66.1h0M466.5 58.8h0M388.5 87.7h0M456.4 68.0h0M463.3 33.0h0M441.6 98.4h0M453.7 79.6h0M440.5 97.0h0M392.3 99.0h0M451.4 160.7h0M380.1 94.2h0M459.9 74.1h0M412.4 127.8h0M429.6 44.9h0M502.2 175.8h0M388.9 72.2h0M448.5 157.6h0M440.0 60.5h0M438.0 128.3h0M412.9 141.1h0M434.5 145.1h0M427.0 82.3h0M382.5 71.9h0M398.8 121.4h0M408.9 133.3h0M402.4 70.5h0M486.4 140.8h0M435.2 160.2h0M414.5 101.9h0M409.2 75.7h0M490.2 117.8h0M395.3 52.4h0M448.1 51.8h0M453.3 159.7h0M490.1 117.2h0M399.7 51.2h0M456.2 42.8h0M453.4 70.0h0M378.1 72.9h0M447.5 60.3h0M432.6 35.5h0M402.0 124.1h0M458.3 148.2h0M520.1 145.0h0M446.8 43.3h0M461.0 46.1h0M414.9 103.3h0M467.7 39.6h0M408.1 88.2h0M429.9 93.3h0M452.6 98.2h0M488.9 140.3h0M380.6 111.9h0M398.8 81.2h0M453.8 134.0h0M494.9 141.9h0M431.1 137.5h0M434.6 87.8h0M452.7 143.8h0M386.5 96.4h0M386.7 70.5h0M436.8 43.1h0M420.3 52.3h0M408.9 73.9h0M397.7 60.0h0M464.5 135.5h0M458.7 80.7h0M449.9 148.3h0M386.1 87.7h0M401.7 48.1h0M468.2 136.7h0M489.6 156.1h0M436.9 97.3h0M427.2 42.7h0M453.8 144.3h0M464.9 139.3h0M441.4 148.7h0M409.8 54.3h0M431.4 153.5h0M409.7 89.8h0M401.0 62.0h0M448.1 79.4h0M450.9 98.9h0M453.1 142.7h0M429.8 138.6h0M460.0 32.9h0M456.5 156.9h0M385.9 99.4h0M475.5 156.8h0M411.0 131.0h0M455.4 73.3h0M404.3 134.5h0M414.5 98.3h0M421.4 131.0h0M474.9 100.8h0M383.1 98.9h0M386.0 114.0h0M423.9 95.4h0M474.1 156.4h0M426.6 92.0h0M434.2 64.0h0M456.1 135.9h0M398.8 57.9h0M433.4 95.4h0M433.7 45.3h0M420.0 73.2h0M491.6 149.2h0M465.9 45.5h0M380.9 94.6h0M392.3 95.4h0M576.3 69.8h0M389.8 119.9h0M409.4 50.0h0M408.5 135.7h0M461.4 37.8h0M458.6 47.5h0M382.3 92.4h0M478.9 94.5h0M484.1 37.9h0M396.0 74.3h0M388.0 122.0h0M421.7 53.9h0M413.0 88.6h0M396.9 120.0h0M388.1 83.9h0M486.4 141.5h0M481.6 165.0h0M395.4 63.6h0M463.8 106.0h0M468.1 108.2h0M410.5 88.4h0M393.9 124.0h0M466.2 46.9h0M392.1 74.1h0M578.2 150.6h0M446.5 42.5h0M413.8 147.0h0M472.6 140.6h0M450.0 138.1h0M423.4 71.8h0M433.9 92.7h0M420.9 38.3h0M436.1 84.4h0M468.5 75.9h0M387.9 73.2h0M445.1 98.5h0M402.4 55.5h0M457.2 133.3h0M389.4 64.8h0M462.8 41.7h0M427.0 151.8h0M469.0 67.8h0M397.8 104.3h0M381.4 117.8h0M415.8 77.3h0M449.8 58.9h0M429.0 41.9h0M403.3 127.0h0M402.8 81.0h0M422.7 63.0h0M392.0 96.3h0M391.5 71.2h0M455.0 78.2h0M399.2 98.8h0M432.6 72.1h0M466.5 39.8h0M380.5 68.5h0M418.7 72.7h0M386.9 95.7h0M384.2 93.0h0M403.6 47.8h0M478.2 140.0h0M464.7 84.1h0M464.2 107.1h0M414.8 77.6h0M399.9 77.3h0M438.5 96.9h0M463.6 109.0h0M457.4 30.8h0M443.6 54.0h0M436.3 34.3h0M403.0 49.2h0M489.0 156.4h0M464.5 101.8h0M423.4 64.1h0M458.6 42.8h0M382.5 119.4h0M425.5 72.6h0M427.6 74.4h0M470.8 41.5h0M380.1 79.3h0M399.3 126.7h0M435.8 61.4h0M454.2 75.9h0M394.1 65.4h0M427.6 149.7h0M422.5 94.3h0M441.1 43.0h0M398.0 93.6h0M444.4 148.8h0M535.6 145.6h0M385.0 113.2h0M464.1 45.4h0M400.2 80.2h0M428.6 144.6h0M466.1 85.7h0M545.7 168.8h0M482.0 109.3h0M442.1 47.8h0M468.6 144.0h0M381.0 96.2h0M449.6 51.4h0M434.3 130.3h0M454.7 75.1h0M588.1 151.3h0M471.4 155.6h0M524.5 144.8h0M473.6 98.6h0M456.4 48.3h0M428.7 51.4h0M411.3 132.0h0M427.2 149.0h0M391.5 74.7h0M446.9 52.7h0M380.9 69.9h0M399.9 96.8h0M430.9 140.8h0M397.1 77.3h0M417.1 39.6h0M452.2 139.1h0M395.0 60.1h0M461.6 81.9h0M393.0 124.0h0M461.4 44.6h0M414.4 141.6h0M391.1 100.0h0" stroke="#de4968" stroke-opacity="0.76" stroke-width="2.6" stroke-linecap="round" fill="none"/>
<path d="M493.2 153.4h0M394.9 65.5h0M442.8 58.1h0M447.6 96.9h0M405.7 131.4h0M395.7 63.3h0M451.6 161.2h0M394.7 61.5h0M425.4 44.4h0M407.1 66.3h0M481.8 38.2h0M408.3 76.4h0M468.3 67.0h0M439.0 99.9h0M391.2 100.7h0M440.4 41.3h0M458.6 28.9h0M489.2 46.7h0M433.9 88.2h0M377.7 72.6h0M473.0 29.2h0M447.1 96.1h0M423.4 135.1h0M440.5 48.7h0M449.9 98.4h0M471.9 138.1h0M444.0 153.7h0M422.5 49.0h0M425.8 150.2h0M431.3 83.8h0M448.9 40.5h0M425.4 126.6h0M406.1 75.1h0M475.4 156.6h0M380.0 67.5h0M385.4 101.8h0M467.6 147.0h0M387.3 85.6h0M473.4 142.1h0M437.3 148.7h0M470.9 152.5h0M461.1 101.8h0M428.5 37.9h0M404.9 130.2h0M388.0 72.4h0M430.6 41.9h0M456.8 42.1h0M463.6 41.4h0M462.0 46.3h0M400.3 62.8h0M432.5 37.7h0M395.7 68.2h0M401.7 99.7h0M448.2 55.1h0M481.8 140.8h0M394.2 83.4h0M425.3 80.8h0M487.6 142.3h0M400.8 63.7h0M443.6 54.2h0M494.5 154.8h0M395.4 125.5h0M468.7 151.3h0M439.8 151.7h0M409.3 128.0h0M435.7 59.8h0M402.2 72.9h0M388.8 121.0h0M471.1 39.8h0M469.7 140.4h0M439.2 152.6h0M421.9 70.2h0M437.6 98.8h0M438.0 42.3h0M473.2 37.1h0M403.3 83.6h0M432.5 34.7h0M454.3 136.8h0M443.6 101.9h0M477.2 145.8h0M396.8 57.0h0M490.0 116.3h0M428.8 74.6h0M444.3 58.7h0M432.3 62.8h0M446.1 40.8h0M387.7 87.7h0M399.4 55.6h0M438.1 126.4h0M406.8 63.2h0M441.4 95.9h0M529.2 80.7h0M459.8 89.8h0M444.4 42.4h0M471.7 38.4h0M426.3 134.7h0M445.5 41.4h0M424.5 47.0h0M394.1 54.6h0M428.1 51.8h0M440.3 42.8h0M411.8 93.0h0M454.4 80.8h0M447.2 151.8h0M421.1 93.7h0M480.5 37.6h0M410.6 99.3h0M402.8 90.3h0M401.9 135.1h0M389.9 99.2h0M391.6 95.0h0M407.1 64.8h0M493.7 140.8h0M450.1 100.1h0M451.4 101.0h0M397.8 128.1h0M380.7 92.9h0M456.2 82.3h0M429.1 46.3h0M463.0 41.1h0M419.2 63.3h0M411.5 129.4h0M378.2 67.4h0M439.4 41.8h0M419.6 72.1h0M401.7 95.9h0M429.4 73.3h0M457.4 133.4h0M410.4 135.8h0M426.5 93.5h0M427.6 65.6h0M446.3 98.0h0M475.5 157.2h0M434.5 99.7h0M426.0 47.0h0M560.2 159.8h0M418.0 61.4h0M436.0 35.1h0M401.2 136.1h0M400.9 48.0h0M434.5 59.5h0M386.8 122.8h0M477.6 139.6h0M441.7 100.6h0M487.0 48.5h0M409.2 61.3h0M423.8 48.3h0M412.8 83.3h0M465.6 110.0h0M427.1 146.6h0M385.2 92.6h0M460.6 32.7h0M455.9 80.4h0M435.4 97.3h0M405.0 71.0h0M456.7 134.5h0M395.8 52.3h0M445.8 146.5h0M380.3 83.0h0M462.6 49.3h0M455.6 68.6h0M413.4 128.5h0M389.8 101.1h0M410.4 130.0h0M437.6 60.5h0M450.5 161.8h0M432.2 72.5h0M459.0 46.4h0M427.1 36.4h0M406.0 132.8h0M384.0 117.1h0M462.4 137.1h0M468.8 40.5h0M419.3 133.9h0M451.4 137.0h0M421.8 62.0h0M477.6 39.4h0M397.1 127.0h0M430.7 144.8h0M382.4 67.1h0M443.0 94.8h0M459.8 108.0h0M470.3 138.7h0M443.0 98.4h0M386.8 117.0h0M403.6 100.2h0M388.1 65.8h0M411.9 98.8h0M432.0 44.3h0M386.7 119.9h0M491.8 141.4h0M451.0 73.4h0M445.3 77.2h0M468.7 141.1h0M423.8 84.5h0M468.9 96.3h0M407.9 97.5h0M462.0 139.4h0M393.6 117.0h0M433.4 73.5h0M457.1 101.1h0M407.6 103.6h0M426.9 71.4h0M479.9 38.4h0M447.7 95.8h0M411.5 64.9h0M442.9 59.1h0M430.1 150.7h0M434.8 147.8h0M455.6 85.6h0M433.9 142.8h0M464.1 137.4h0M394.1 64.9h0M389.4 92.2h0M390.4 93.1h0M409.8 80.7h0M395.1 55.2h0M406.5 93.6h0M455.7 79.6h0M401.5 120.5h0M403.4 100.0h0M401.3 72.1h0M446.9 161.2h0M472.5 40.2h0M489.1 45.8h0M480.1 139.2h0M378.2 73.6h0M390.0 86.2h0M437.8 59.5h0M391.7 120.2h0M421.3 137.1h0M430.9 65.3h0M397.3 65.1h0M390.2 96.1h0M405.6 85.9h0M415.6 133.2h0M435.8 128.7h0M479.5 140.3h0M382.6 119.7h0M440.6 98.0h0M437.6 101.4h0M418.2 43.0h0M459.1 47.6h0M394.2 99.1h0M491.6 45.7h0M424.3 126.7h0M411.7 80.1h0M468.2 74.9h0M386.4 85.9h0M388.9 64.2h0M379.8 81.4h0M415.5 102.9h0M470.6 37.8h0M388.0 94.9h0M424.0 137.3h0M431.1 35.9h0M384.8 95.7h0M463.3 138.0h0M479.6 164.9h0M466.8 37.5h0M472.4 151.4h0M461.5 32.3h0M396.4 82.6h0M422.9 41.9h0M388.3 72.7h0M549.1 166.3h0M394.4 129.5h0M449.3 137.4h0M425.5 47.6h0M481.5 164.0h0M430.4 94.5h0M426.9 81.6h0M426.7 73.7h0M425.1 82.9h0M457.4 42.2h0" stroke="#de4968" stroke-opacity="0.76" stroke-width="2.6" stroke-linecap="round" fill="none"/>
<path d="M426.6 152.3h0M383.3 94.5h0M461.9 32.8h0M394.6 60.1h0M475.2 97.8h0M472.0 150.8h0M396.7 78.8h0M452.6 136.2h0M431.5 153.5h0M462.8 138.2h0M387.9 95.2h0M409.1 66.7h0M420.0 48.0h0M403.0 86.3h0M399.3 83.0h0M384.8 119.1h0M401.5 79.0h0M451.8 57.9h0M389.6 124.0h0M438.1 56.5h0M520.7 145.8h0M425.1 145.8h0M442.8 151.5h0M412.2 92.7h0M456.0 74.2h0M480.0 108.6h0M424.4 92.7h0M427.0 138.6h0M408.7 90.7h0M462.8 38.2h0M429.1 53.9h0M491.4 162.9h0M428.5 65.8h0M387.0 65.2h0M464.4 33.8h0M437.6 61.1h0M429.7 150.8h0M399.8 50.3h0M428.9 93.0h0M426.1 66.4h0M478.9 38.7h0M377.8 75.8h0M391.8 102.9h0M440.7 41.6h0M411.2 80.2h0M411.4 98.9h0M432.9 156.3h0M409.7 129.6h0M427.2 152.2h0M403.0 88.8h0M420.5 73.0h0M424.7 72.6h0M396.4 62.1h0M388.6 99.2h0M430.2 138.7h0M448.2 86.4h0M455.6 38.2h0M428.1 92.0h0M408.9 99.9h0M456.5 78.7h0M495.7 154.5h0M517.8 114.2h0M486.2 140.1h0M422.6 93.7h0M426.1 69.4h0M425.9 53.0h0M455.2 158.4h0M462.6 101.9h0M446.4 161.8h0M400.8 51.8h0M408.7 98.4h0M384.4 104.0h0M454.0 69.4h0M481.5 37.9h0M387.2 93.3h0M424.1 93.2h0M418.8 62.9h0M410.8 53.5h0M393.7 58.4h0M452.9 72.9h0M392.6 102.7h0M426.6 67.8h0M477.0 110.1h0M468.9 153.8h0M449.2 38.5h0M394.5 93.3h0M410.5 49.8h0M425.4 35.1h0M403.3 83.4h0M393.3 120.1h0M432.7 142.7h0M385.6 104.1h0M422.0 136.5h0M464.5 108.4h0M386.4 118.3h0M427.3 91.6h0M397.8 58.7h0M425.1 68.8h0M409.5 135.5h0M436.6 147.6h0M384.9 96.4h0M394.5 94.7h0M453.7 138.5h0M422.6 51.2h0M445.5 55.6h0M410.9 83.5h0M434.5 98.1h0M382.2 93.3h0M425.0 83.1h0M467.6 68.1h0M406.0 132.6h0M403.8 134.8h0M426.5 95.1h0M465.1 103.1h0M395.9 96.1h0M380.9 116.6h0M381.4 98.9h0M385.7 116.8h0M409.8 63.6h0M453.2 81.7h0M467.9 153.4h0M452.0 57.5h0M476.6 37.7h0M462.4 44.2h0M455.2 134.6h0M401.7 54.7h0M395.9 76.7h0M407.4 103.1h0M414.5 45.2h0M492.9 150.0h0M450.7 100.4h0M380.6 115.7h0M445.5 152.9h0M427.5 69.6h0M407.8 133.7h0M441.8 39.4h0M385.6 119.7h0M451.5 50.0h0M474.3 97.6h0M449.7 77.5h0M450.1 104.2h0M403.8 54.5h0M393.6 82.7h0M443.5 44.3h0M452.1 99.8h0M459.3 83.7h0M423.3 92.8h0M482.2 40.7h0M447.9 96.0h0M418.8 48.9h0M412.5 53.7h0M401.1 121.2h0M389.3 63.5h0M425.5 137.7h0M449.4 37.9h0M472.4 36.5h0M431.9 153.9h0M427.3 69.5h0M416.1 75.5h0M444.9 60.4h0M406.6 63.3h0M438.7 33.6h0M438.7 48.0h0M437.1 31.5h0M424.5 144.9h0M422.4 135.8h0M488.9 44.7h0M424.5 82.1h0M384.0 113.3h0M461.8 43.5h0M459.7 73.3h0M431.3 99.3h0M454.7 43.1h0M425.4 53.3h0M405.2 72.7h0M429.3 124.2h0M444.0 148.3h0M424.9 84.1h0M377.5 68.0h0M445.9 40.0h0M444.3 38.7h0M443.6 42.0h0M453.8 82.4h0M497.3 178.1h0M458.9 81.5h0M495.4 163.0h0M479.6 41.0h0M379.7 94.0h0M434.0 145.8h0M431.3 141.1h0M415.1 134.7h0M467.8 138.2h0M389.5 120.7h0M465.4 138.8h0M422.9 95.1h0M451.2 74.2h0M445.4 104.0h0M463.6 38.0h0M447.8 79.6h0M457.9 68.1h0M429.2 94.2h0M408.6 65.2h0M434.8 58.7h0M386.6 103.4h0M399.1 103.7h0M490.5 159.4h0M452.7 161.1h0M495.5 142.2h0M447.0 152.5h0M432.2 85.3h0M441.1 48.0h0M426.1 39.8h0M478.2 37.4h0M431.6 159.9h0M394.6 119.9h0M426.8 91.8h0M390.2 96.9h0M401.1 125.0h0M396.2 59.1h0M433.8 34.0h0M440.6 62.5h0M463.7 43.4h0M455.4 80.1h0M421.4 133.8h0M427.6 148.1h0M385.2 118.6h0M451.9 98.6h0M446.5 102.2h0M409.3 74.5h0M426.2 124.1h0M434.0 96.7h0M410.4 133.4h0M462.6 47.1h0M478.3 108.1h0M429.2 34.9h0M399.3 121.9h0M409.0 98.2h0M416.6 138.1h0M400.9 76.8h0M447.8 58.7h0M379.8 92.0h0M429.5 156.6h0M418.2 50.9h0M390.5 118.3h0M404.2 75.0h0M382.5 73.3h0M386.7 81.8h0M415.8 63.9h0M411.6 97.6h0M403.1 125.1h0M378.1 95.7h0M392.0 103.4h0M386.9 97.9h0M473.1 98.2h0M442.2 151.7h0M455.0 73.9h0M405.6 74.6h0M407.1 90.7h0M414.8 46.3h0M492.5 148.9h0M455.6 42.0h0M487.4 116.2h0M467.5 68.6h0M407.3 131.9h0M436.5 38.5h0M396.9 93.4h0M477.1 98.5h0M418.3 74.5h0M421.5 63.5h0M455.1 40.7h0M380.6 72.6h0M434.6 65.0h0M435.6 150.6h0M439.2 61.8h0M391.7 77.5h0" stroke="#de4968" stroke-opacity="0.76" stroke-width="2.6" stroke-linecap="round" fill="none"/>
<path d="M460.0 42.1h0M546.3 167.9h0M401.2 126.2h0M402.3 87.6h0M448.5 159.3h0M419.1 137.1h0M449.9 100.1h0M400.2 64.3h0M450.5 98.9h0M462.0 59.4h0M378.8 89.2h0M446.3 79.5h0M445.8 43.1h0M416.0 133.2h0M400.6 58.2h0M395.1 124.5h0M467.6 145.2h0M406.0 86.1h0M426.1 74.6h0M395.8 82.3h0M451.7 80.3h0M453.7 161.6h0M398.7 51.0h0M395.2 101.7h0M449.6 101.3h0M390.1 120.2h0M502.2 141.7h0M577.6 151.4h0M405.6 76.1h0M397.8 56.8h0M474.0 146.0h0M449.2 60.1h0M399.6 96.0h0M395.6 77.8h0M418.2 47.3h0M412.1 102.3h0M423.1 40.6h0M432.2 131.1h0M383.7 113.6h0M399.8 63.4h0M412.9 64.4h0M404.9 94.3h0M494.4 140.8h0M424.3 93.2h0M419.6 45.7h0M463.3 108.7h0M452.6 38.2h0M460.7 93.0h0M434.2 44.6h0M394.5 103.4h0M423.9 71.4h0M466.0 36.4h0M381.8 102.4h0M454.4 81.0h0M412.1 61.4h0M378.1 91.4h0M406.7 89.2h0M407.1 103.0h0M412.0 97.8h0M440.0 96.8h0M451.4 101.1h0M437.9 33.1h0M426.3 35.6h0M384.8 86.8h0M431.9 41.6h0M424.5 40.0h0M469.1 138.3h0M576.8 151.1h0M404.1 85.7h0M440.7 99.8h0M428.2 41.2h0M443.6 41.7h0M432.6 45.6h0M382.3 98.1h0M395.9 82.6h0M432.8 41.2h0M463.2 139.3h0M411.2 133.9h0M395.2 100.0h0M437.0 35.0h0M392.2 126.2h0M388.8 100.8h0M397.7 63.2h0M428.0 34.4h0M381.6 111.5h0M496.0 147.1h0M404.9 134.1h0M433.1 157.6h0M435.6 145.7h0M457.3 38.6h0M425.8 51.6h0M486.4 47.7h0M383.4 92.5h0M478.0 109.6h0M461.3 157.8h0M432.5 89.2h0M440.4 100.3h0M400.8 120.0h0M522.4 145.6h0M400.1 55.2h0M442.0 98.8h0M451.3 98.2h0M496.0 155.2h0M417.7 71.3h0M453.1 136.1h0M425.3 68.3h0M433.0 71.7h0M407.3 65.8h0M402.0 71.3h0M409.6 125.4h0M463.9 44.2h0M420.7 47.2h0M396.1 118.0h0M413.0 64.7h0M383.9 68.0h0M449.6 101.1h0M451.4 99.6h0M458.2 49.5h0M398.9 97.6h0M383.8 80.8h0M419.9 93.2h0M419.4 70.0h0M446.4 159.5h0M522.4 146.4h0M472.6 145.9h0M420.6 135.7h0M456.6 155.7h0M457.6 74.0h0M493.8 28.1h0M471.9 110.8h0M413.0 129.1h0M486.7 44.8h0M403.9 55.0h0M412.7 130.6h0M432.4 45.3h0M425.2 147.6h0M387.0 117.0h0M437.8 148.7h0M458.0 83.0h0M475.2 108.5h0M380.1 112.8h0M420.5 93.5h0M433.2 39.0h0M404.8 94.5h0M397.2 63.0h0M409.0 93.0h0M471.4 108.7h0M386.9 122.0h0M465.5 47.7h0M415.3 40.8h0M423.6 44.8h0M439.7 45.2h0M460.3 106.2h0M401.8 87.5h0M414.0 134.0h0M401.7 131.3h0M387.6 69.9h0M478.2 110.0h0M396.4 100.2h0M436.8 148.3h0M423.5 53.2h0M409.2 62.6h0M436.4 144.4h0M436.1 61.8h0M478.1 107.9h0M459.7 39.3h0M400.3 78.3h0M427.0 45.6h0M407.1 94.1h0M446.1 55.4h0M426.2 55.0h0M473.1 69.6h0M433.7 38.4h0M485.0 139.5h0M432.2 42.9h0M436.3 34.4h0M430.6 47.6h0M389.5 75.4h0M419.6 139.8h0M388.8 87.8h0M399.2 104.0h0M407.3 127.5h0M380.4 79.0h0M451.2 140.6h0M414.5 134.8h0M409.6 88.2h0M458.4 48.7h0M472.3 151.1h0M419.4 48.5h0M439.0 61.8h0M443.4 61.7h0M381.0 94.5h0M429.8 35.3h0M380.5 92.3h0M471.7 75.0h0M434.7 100.8h0M382.3 111.6h0M448.9 40.9h0M405.3 97.4h0M431.8 70.9h0M402.9 72.6h0M409.7 103.8h0M480.9 139.8h0M535.4 19.9h0M383.0 86.8h0M444.5 100.1h0M423.9 126.3h0M421.6 93.8h0M381.7 119.2h0M446.8 102.0h0M393.5 73.7h0M417.0 40.8h0M462.8 137.6h0M460.5 33.6h0M415.7 93.8h0M386.4 87.5h0M451.8 98.1h0M408.4 79.9h0M424.9 95.4h0M494.9 142.6h0M427.0 95.5h0M414.9 63.9h0M438.4 48.3h0M381.9 93.0h0M386.8 72.6h0M398.5 53.7h0M382.4 71.7h0M437.3 98.8h0M427.1 81.7h0M442.0 98.2h0M424.3 144.5h0M422.5 72.2h0M474.5 99.3h0M457.1 136.2h0M389.1 71.6h0M394.8 127.9h0M457.8 29.4h0M401.0 126.9h0M418.4 137.6h0M390.6 76.2h0M425.3 46.3h0M436.1 32.8h0M440.0 148.9h0M416.7 76.4h0M405.2 133.8h0M439.4 46.3h0M451.4 57.0h0M457.9 67.7h0M386.7 62.9h0M410.0 76.9h0M411.1 49.2h0M462.4 66.5h0M428.8 94.0h0M384.3 110.5h0M403.9 81.2h0M440.4 61.9h0M401.7 124.6h0M397.9 121.6h0M468.4 136.2h0M436.5 147.7h0M490.0 48.1h0M429.7 157.7h0M481.4 110.6h0M406.6 65.0h0M432.1 130.3h0M395.3 72.9h0M417.6 136.1h0M380.2 83.2h0M446.0 155.8h0M546.3 169.8h0M405.7 125.6h0M438.2 151.0h0M450.8 137.5h0M389.1 69.6h0M436.1 57.7h0" stroke="#de4968" stroke-opacity="0.76" stroke-width="2.6" stroke-linecap="round" fill="none"/>
<path d="M449.2 101.5h0M473.1 147.4h0M430.2 64.4h0M415.1 129.5h0M456.0 78.6h0M461.7 68.1h0M440.0 45.7h0M491.0 44.3h0M456.4 68.6h0M440.9 39.5h0M428.2 82.4h0M389.1 94.8h0M456.1 69.0h0M425.1 66.2h0M394.6 77.6h0M411.4 93.4h0M457.4 70.2h0M388.5 102.7h0M435.0 43.2h0M397.2 84.1h0M397.6 80.5h0M433.8 96.5h0M433.7 129.0h0M393.0 75.1h0M398.7 98.1h0M443.7 77.9h0M547.6 164.9h0M444.6 59.1h0M386.3 116.2h0M406.6 67.2h0M390.3 96.8h0M402.7 136.5h0M459.8 49.3h0M437.1 35.3h0M443.7 40.2h0M437.1 144.5h0M411.3 134.9h0M484.1 38.5h0M434.1 130.2h0M383.3 97.2h0M387.1 83.6h0M412.5 101.6h0M514.6 166.7h0M417.2 42.4h0M456.7 135.2h0M401.9 48.6h0M392.9 101.3h0M433.0 71.0h0M472.9 98.5h0M390.0 98.5h0M411.7 144.4h0M462.8 83.5h0M405.8 101.1h0M541.4 173.2h0M438.0 61.3h0M393.4 103.4h0M466.5 103.2h0M389.8 69.4h0M431.3 66.5h0M401.3 93.1h0M468.6 137.3h0M515.2 27.3h0M496.3 155.8h0M431.2 45.8h0M422.5 136.1h0M378.0 68.0h0M587.2 151.3h0M436.6 32.0h0M400.1 55.5h0M425.5 68.1h0M399.2 64.3h0M454.6 40.5h0M422.0 53.3h0M486.4 89.3h0M474.9 108.7h0M456.0 144.9h0M405.4 82.9h0M381.1 94.6h0M472.1 40.7h0M390.3 72.5h0M377.5 66.9h0M429.7 154.3h0M393.2 97.7h0M398.0 128.5h0M453.7 160.2h0M380.8 66.2h0M496.7 176.8h0M456.0 42.0h0M472.8 41.6h0M435.6 34.5h0M399.5 51.1h0M456.1 156.5h0M392.3 118.9h0M439.4 41.0h0M450.6 138.6h0M396.9 75.3h0M446.2 146.2h0M431.0 143.3h0M462.5 35.7h0M457.0 155.0h0M446.5 158.3h0M442.5 101.2h0M468.0 146.4h0M426.6 53.8h0M415.8 40.7h0M504.0 143.2h0M446.7 59.9h0M471.6 76.8h0M399.9 56.4h0M411.7 46.8h0M377.5 74.0h0M422.2 70.3h0M437.3 37.3h0M438.6 31.9h0M419.5 51.6h0M490.6 161.6h0M472.7 145.3h0M384.0 117.1h0M417.3 135.5h0M404.0 134.9h0M413.1 53.6h0M542.6 131.1h0M399.8 51.2h0M378.0 68.8h0M403.4 49.0h0M467.2 139.2h0M399.3 61.2h0M439.5 43.3h0M427.3 137.0h0M438.1 45.1h0M445.2 155.4h0M462.9 107.4h0M463.6 38.6h0M427.2 81.2h0M452.5 39.3h0M472.3 76.9h0M459.8 29.2h0M424.9 38.0h0M380.9 92.3h0M457.7 69.1h0M420.8 62.6h0M442.5 43.7h0M431.4 36.1h0M423.4 44.6h0M389.0 61.2h0M429.8 94.9h0M471.1 41.4h0M381.5 92.6h0M433.4 143.6h0M386.6 67.1h0M385.6 84.5h0M393.4 77.3h0M480.3 40.2h0M447.5 161.1h0M397.8 76.7h0M462.5 32.8h0M408.7 100.7h0M401.9 69.2h0M390.8 125.8h0M428.1 148.0h0M436.0 44.3h0M409.9 50.5h0M393.7 66.0h0M456.4 160.3h0M441.0 97.9h0M381.8 68.9h0M382.1 86.4h0M466.2 138.5h0M418.5 133.0h0M503.3 151.7h0M424.0 45.1h0M442.5 40.5h0M407.2 62.0h0M453.6 76.3h0M463.5 45.7h0M420.1 62.4h0M446.2 147.8h0M396.8 79.1h0M465.3 138.3h0M425.3 40.9h0M415.4 146.9h0M431.0 35.8h0M414.5 131.8h0M438.3 126.4h0M462.0 67.0h0M438.4 150.1h0M377.9 65.0h0M408.0 80.1h0M445.6 40.0h0M417.5 48.1h0M458.0 39.3h0M457.7 138.1h0M420.8 69.8h0M405.7 73.9h0M433.0 154.4h0M386.7 96.7h0M385.9 89.0h0M479.8 41.0h0M397.1 78.0h0M471.4 109.7h0M459.1 135.3h0M476.3 101.1h0M462.9 136.8h0M439.7 153.4h0M390.3 72.9h0M419.5 71.0h0M472.9 37.1h0M441.0 39.7h0M428.4 149.8h0M439.1 127.3h0M409.9 74.2h0M452.3 52.0h0M428.9 45.6h0M445.1 40.2h0M402.9 128.5h0M456.6 155.6h0M467.1 140.2h0M392.5 101.2h0M470.7 97.9h0M409.7 63.8h0M403.7 127.5h0M441.7 96.5h0M457.0 48.1h0M489.3 116.6h0M431.4 71.4h0M463.5 108.2h0M448.1 78.2h0M482.4 40.9h0M514.5 167.1h0M432.6 141.4h0M393.9 63.2h0M409.3 100.6h0M414.1 83.0h0M470.9 150.2h0M388.9 115.2h0M401.5 123.7h0M478.9 144.9h0M388.4 100.1h0M424.8 47.2h0M452.4 80.3h0M425.5 38.1h0M411.7 82.1h0M393.6 101.3h0M469.6 97.7h0M440.8 145.2h0M456.0 73.4h0M442.1 96.6h0M448.7 155.4h0M386.7 68.6h0M379.6 93.9h0M461.9 47.8h0M401.6 125.1h0M447.4 161.9h0M485.8 142.4h0M433.0 88.2h0M435.1 160.8h0M434.1 145.7h0M440.9 103.8h0M433.8 72.7h0M469.4 147.4h0M461.6 46.4h0M599.8 63.4h0M462.8 44.7h0M434.5 100.9h0M385.2 93.6h0M383.4 92.4h0M475.3 37.1h0M460.3 70.6h0M428.4 151.7h0M397.9 82.7h0M423.9 135.2h0M404.1 95.4h0M406.5 130.6h0M458.5 29.9h0" stroke="#de4968" stroke-opacity="0.76" stroke-width="2.6" stroke-linecap="round" fill="none"/>
<path d="M467.6 102.9h0M510.9 65.2h0M542.0 100.5h0M492.3 116.3h0M501.6 102.5h0M565.6 110.5h0M578.6 88.0h0M514.8 112.0h0M484.2 82.7h0M555.1 86.1h0M562.1 117.6h0M570.8 86.1h0M508.3 99.0h0M542.7 79.3h0M539.9 51.3h0M526.2 110.7h0M533.5 106.8h0M568.9 34.3h0M597.4 39.7h0M581.7 97.6h0M485.7 77.9h0M529.2 64.2h0M556.7 61.6h0M497.9 77.2h0M498.6 107.7h0M522.5 84.6h0M535.0 68.0h0M529.9 122.2h0M484.1 80.8h0M585.5 41.0h0M583.9 41.5h0M491.4 75.2h0M582.3 35.2h0M570.4 114.4h0M489.2 88.0h0M533.8 95.6h0M499.4 111.6h0M497.6 94.9h0M543.5 46.0h0M562.4 117.4h0M543.9 122.1h0M557.0 70.0h0M500.0 112.2h0M497.0 111.3h0M511.3 63.4h0M525.7 28.5h0M493.5 75.9h0M508.7 69.6h0M559.1 102.3h0M587.6 39.1h0M580.6 54.8h0M558.3 118.0h0M577.3 83.6h0M515.0 74.7h0M498.8 111.0h0M538.3 101.2h0M531.2 46.3h0M487.9 91.8h0M508.4 64.0h0M498.7 106.9h0M557.9 103.1h0M530.9 63.0h0M486.5 79.7h0M526.4 108.7h0M538.8 59.8h0M498.6 76.6h0M521.1 75.5h0M495.4 103.1h0M496.8 111.1h0M585.4 64.5h0M508.9 59.7h0M517.7 99.6h0M549.0 121.1h0M541.2 125.8h0M556.4 59.6h0M515.4 97.7h0M590.8 76.3h0M587.7 83.0h0M549.0 64.7h0M490.6 94.6h0M494.8 81.1h0M527.2 68.3h0M589.7 112.0h0M573.4 83.0h0M504.1 65.6h0M503.7 105.5h0M558.6 84.9h0M533.1 97.5h0M481.7 84.9h0M568.6 113.8h0M594.7 94.0h0M516.9 97.9h0M629.5 85.8h0M575.9 107.4h0M540.0 121.9h0M538.8 119.7h0M491.3 85.5h0M591.9 75.1h0M528.6 120.1h0M560.6 81.6h0M608.6 82.3h0M526.2 86.3h0M537.8 65.1h0M597.0 96.0h0M594.3 74.4h0M582.6 85.8h0M495.3 34.2h0M500.1 104.8h0M572.9 99.9h0M563.7 117.3h0M515.3 64.2h0M472.7 52.4h0M488.1 82.0h0M537.9 47.3h0M587.7 54.8h0M509.2 63.2h0M536.2 46.0h0M588.4 76.2h0M500.4 107.5h0M530.3 110.4h0M499.2 81.9h0M485.5 98.8h0M548.8 89.3h0M580.9 85.5h0M567.1 88.7h0M543.8 115.4h0M527.9 112.5h0M529.5 123.0h0M533.0 124.3h0M587.4 38.3h0M535.5 105.4h0M590.1 70.3h0M498.3 104.0h0M554.3 87.5h0M542.0 108.4h0M493.0 80.4h0M557.1 102.4h0M568.4 112.4h0M522.2 65.1h0M558.7 117.6h0M535.7 60.7h0M511.9 92.6h0M546.8 45.7h0M597.4 101.2h0M532.1 116.2h0M583.8 83.2h0M593.1 76.5h0M521.9 102.8h0M493.6 81.3h0M507.2 71.7h0M609.1 83.4h0M509.7 92.5h0M515.8 100.7h0M539.1 47.6h0M556.0 102.4h0M553.1 63.3h0M548.3 76.4h0M516.7 100.0h0M498.8 33.4h0M536.1 96.8h0M512.4 110.6h0M534.4 108.2h0M508.0 65.6h0M490.5 92.9h0M551.2 84.9h0M531.9 49.5h0M524.0 76.9h0M530.1 123.5h0M547.3 74.1h0M493.1 105.4h0M558.3 60.4h0M667.2 63.6h0M594.8 83.5h0M507.8 63.2h0M576.1 84.5h0M548.2 53.5h0M479.1 96.4h0M474.0 97.3h0M489.9 76.5h0M546.3 52.5h0M536.1 108.5h0M585.6 60.9h0" stroke="#fe9f6d" stroke-opacity="0.76" stroke-width="2.6" stroke-linecap="round" fill="none"/>
<path d="M488.6 98.7h0M485.2 79.7h0M474.2 46.0h0M480.0 93.8h0M538.4 69.9h0M536.0 106.0h0M549.4 44.3h0M540.5 98.7h0M530.6 112.6h0M512.1 97.1h0M511.2 67.8h0M606.1 101.8h0M609.8 98.1h0M535.7 98.8h0M565.1 110.8h0M542.3 106.8h0M582.2 40.9h0M520.6 93.1h0M486.5 79.9h0M600.8 100.4h0M530.7 69.3h0M557.7 74.3h0M556.2 72.3h0M621.4 86.7h0M593.7 59.6h0M598.5 44.8h0M536.9 97.9h0M526.4 111.8h0M561.4 116.5h0M507.9 59.1h0M592.4 76.9h0M537.8 47.3h0M610.8 82.9h0M548.6 49.9h0M535.1 108.9h0M631.0 125.2h0M531.0 123.5h0M529.9 124.5h0M561.9 60.5h0M531.4 96.5h0M504.1 110.4h0M515.8 67.7h0M597.5 94.9h0M473.2 52.9h0M599.1 94.9h0M563.6 93.5h0M547.6 123.3h0M533.0 107.8h0M591.6 111.6h0M532.4 47.8h0M509.8 66.5h0M536.5 115.8h0M505.6 66.8h0M532.2 104.0h0M519.3 85.3h0M515.8 67.6h0M479.8 94.3h0M501.7 77.4h0M533.9 45.5h0M587.4 61.0h0M576.4 89.4h0M564.2 112.4h0M493.4 103.1h0M501.6 110.1h0M598.4 97.1h0M549.9 75.4h0M483.1 93.2h0M538.2 119.9h0M509.3 89.1h0M540.5 54.1h0M570.7 114.0h0M510.5 96.5h0M512.4 72.0h0M559.1 59.7h0M581.6 85.8h0M493.5 36.6h0M532.2 53.0h0M540.8 112.8h0M538.7 45.3h0M526.5 66.5h0M534.9 47.2h0M536.4 63.3h0M516.5 99.5h0M593.7 114.8h0M512.6 92.8h0M590.8 110.6h0M634.8 84.0h0M561.8 60.9h0M526.1 67.3h0M535.9 69.4h0M537.3 115.6h0M538.2 47.2h0M495.3 103.0h0M515.9 77.9h0M490.0 87.4h0M552.2 85.5h0M534.1 115.0h0M536.4 64.9h0M507.6 63.3h0M537.2 95.5h0M485.9 79.5h0M538.1 53.7h0M535.1 50.7h0M547.3 126.8h0M562.7 116.3h0M531.4 124.0h0M501.5 102.8h0M502.2 114.5h0M493.2 117.3h0M518.9 86.5h0M534.6 116.4h0M528.1 86.9h0M476.6 96.2h0M595.6 48.5h0M536.2 70.7h0M564.3 46.4h0M532.7 50.9h0M578.1 89.2h0M611.5 74.7h0M492.7 116.7h0M555.0 89.3h0M572.1 60.1h0M576.5 107.4h0M519.9 85.6h0M518.7 93.8h0M525.2 85.3h0M626.4 86.1h0M534.5 47.5h0M530.7 95.6h0M531.5 45.7h0M473.1 51.8h0M537.4 98.5h0M611.3 100.9h0M580.6 82.0h0M554.0 83.4h0M584.8 41.7h0M588.6 112.7h0M619.0 94.1h0M514.6 114.4h0M533.6 47.5h0M576.6 113.6h0M510.6 81.4h0M576.5 86.2h0M565.8 111.6h0M534.1 106.0h0M584.6 110.5h0M497.9 103.2h0M539.0 121.8h0M574.4 112.4h0M515.8 62.5h0M497.9 83.8h0M560.7 63.1h0M579.5 82.9h0M568.6 62.5h0M558.3 100.5h0M548.0 75.1h0M508.0 66.4h0M525.2 111.1h0M540.0 120.9h0M531.4 53.3h0M547.1 44.7h0M576.1 89.2h0M551.4 52.3h0M535.6 46.0h0M543.4 113.5h0M558.4 53.8h0M589.6 59.2h0M492.6 104.6h0M569.5 85.2h0M510.5 71.2h0M534.1 50.7h0M561.7 60.6h0M652.3 84.1h0M553.2 66.7h0M538.5 54.5h0M491.9 95.6h0M534.5 49.7h0M550.5 51.4h0M590.2 59.0h0M544.0 114.5h0M538.0 62.2h0" stroke="#fe9f6d" stroke-opacity="0.76" stroke-width="2.6" stroke-linecap="round" fill="none"/>
<path d="M585.0 87.2h0M516.0 76.0h0M514.8 63.6h0M550.4 45.4h0M570.0 87.1h0M576.4 106.6h0M557.3 82.4h0M582.8 97.3h0M565.9 117.4h0M574.6 87.2h0M532.0 104.5h0M585.2 65.0h0M563.4 114.7h0M581.5 96.4h0M536.3 107.9h0M522.1 64.9h0M521.9 102.6h0M517.8 66.0h0M495.1 79.5h0M516.5 101.6h0M518.7 77.3h0M510.0 93.4h0M520.7 87.2h0M527.0 121.3h0M491.3 78.0h0M568.8 114.3h0M592.7 94.9h0M562.5 82.8h0M492.9 118.2h0M585.9 38.0h0M596.1 107.1h0M553.1 61.6h0M537.7 99.5h0M576.7 113.6h0M576.8 107.4h0M576.2 86.4h0M521.2 117.6h0M514.4 71.4h0M481.8 96.7h0M550.0 85.7h0M493.9 117.2h0M553.7 68.0h0M493.3 91.9h0M494.0 85.7h0M542.8 79.6h0M614.8 48.3h0M507.6 67.6h0M496.7 112.7h0M524.8 60.3h0M490.8 88.0h0M577.0 106.8h0M546.8 87.2h0M516.9 85.9h0M500.4 77.8h0M534.0 46.7h0M564.4 116.8h0M603.2 102.5h0M541.4 108.5h0M551.7 85.2h0M639.0 70.5h0M498.1 35.5h0M540.6 108.3h0M556.8 72.5h0M488.7 92.3h0M524.6 117.7h0M538.3 95.6h0M524.6 66.9h0M528.9 67.8h0M507.9 108.8h0M561.1 45.4h0M611.4 101.4h0M632.4 124.3h0M592.4 94.4h0M540.7 60.8h0M499.7 80.2h0M487.2 98.2h0M584.6 87.4h0M531.1 117.2h0M550.3 89.0h0M541.0 44.0h0M562.3 117.3h0M541.8 107.2h0M537.1 66.3h0M496.3 36.5h0M502.6 101.2h0M518.5 95.9h0M521.1 75.8h0M623.7 73.9h0M507.5 57.9h0M517.0 67.7h0M524.3 123.3h0M548.2 75.4h0M549.1 44.7h0M569.3 117.1h0M535.3 52.9h0M540.1 85.3h0M566.0 103.2h0M533.2 52.0h0M554.7 46.7h0M547.8 90.8h0M569.4 112.9h0M608.2 83.5h0M549.1 99.7h0M509.5 62.6h0M530.6 54.3h0M561.3 115.6h0M570.7 45.7h0M610.0 101.2h0M548.7 127.2h0M511.3 71.3h0M602.5 99.3h0M505.1 70.5h0M486.5 84.1h0M495.5 82.8h0M520.0 118.8h0M533.5 109.3h0M475.0 85.3h0M544.1 114.3h0M609.2 100.0h0M608.1 81.0h0M498.0 33.2h0M559.6 88.7h0M540.2 99.3h0M498.0 84.3h0M632.4 125.0h0M537.0 96.4h0M588.0 100.4h0M540.2 52.1h0M596.9 96.2h0M497.9 87.4h0M535.4 109.8h0M522.4 101.4h0M610.1 100.7h0M552.9 72.4h0M488.5 83.9h0M514.2 80.8h0M584.5 111.5h0M600.0 96.1h0M533.7 113.3h0M532.4 116.0h0M621.4 86.0h0M489.8 107.4h0M535.2 97.4h0M647.6 108.9h0M549.5 87.0h0M542.0 52.7h0M505.3 97.9h0M516.6 99.4h0M562.8 83.6h0M570.0 115.7h0M493.3 76.1h0M487.4 78.1h0M601.9 99.9h0M481.8 105.0h0M517.4 98.1h0M587.5 48.9h0M496.9 79.6h0M567.6 114.5h0M592.2 75.6h0M538.3 60.8h0M511.1 72.2h0M538.6 44.5h0M567.4 88.1h0M541.9 71.1h0M582.3 106.6h0M577.5 113.6h0M533.9 113.3h0M535.3 106.6h0M514.2 116.0h0M556.0 46.2h0M484.6 95.2h0M607.9 99.8h0M525.0 113.1h0M541.6 83.7h0M499.6 34.0h0M587.1 83.0h0M484.8 111.0h0M551.4 61.1h0M556.8 117.3h0M582.4 106.0h0M539.7 60.0h0" stroke="#fe9f6d" stroke-opacity="0.76" stroke-width="2.6" stroke-linecap="round" fill="none"/>
<path d="M586.7 60.4h0M470.3 45.0h0M562.9 83.1h0M558.6 47.7h0M533.1 48.9h0M575.0 74.5h0M606.3 102.3h0M549.8 86.4h0M492.0 103.5h0M513.7 66.4h0M555.5 69.8h0M467.7 103.3h0M520.4 91.8h0M521.8 103.5h0M515.0 69.5h0M504.7 105.4h0M586.0 87.7h0M489.3 84.6h0M497.9 109.3h0M514.9 96.8h0M513.6 110.2h0M516.5 71.3h0M533.5 66.4h0M629.6 85.5h0M516.6 65.1h0M511.8 99.6h0M586.1 38.1h0M527.5 121.5h0M531.2 48.4h0M515.3 75.8h0M575.2 85.9h0M552.5 67.5h0M530.1 49.9h0M595.3 49.2h0M521.8 76.5h0M514.3 94.2h0M493.7 112.0h0M538.7 99.2h0M581.3 35.6h0M507.8 66.8h0M523.5 66.4h0M501.6 103.0h0M487.1 76.8h0M565.2 110.3h0M524.0 116.6h0M549.4 51.5h0M525.3 122.3h0M598.5 78.0h0M521.2 86.6h0M517.5 65.8h0M608.4 98.5h0M532.0 105.0h0M571.1 59.4h0M594.8 76.6h0M531.2 117.2h0M490.3 94.0h0M597.9 61.6h0M549.7 49.9h0M525.3 84.6h0M578.7 82.5h0M556.8 87.4h0M540.3 125.0h0M585.8 105.3h0M569.9 34.7h0M476.9 97.2h0M589.1 54.0h0M552.8 61.0h0M572.0 85.6h0M517.8 100.6h0M510.3 66.4h0M546.0 86.3h0M511.2 100.2h0M504.2 64.4h0M561.8 44.9h0M640.5 69.9h0M494.2 94.0h0M549.2 122.5h0M594.0 84.2h0M588.8 60.6h0M532.0 116.1h0M513.8 67.8h0M581.5 97.6h0M484.9 98.4h0M553.7 75.6h0M492.4 36.7h0M503.0 78.6h0M547.9 74.6h0M547.2 45.9h0M535.2 108.0h0M548.4 86.5h0M498.3 107.4h0M512.1 67.3h0M535.5 110.0h0M487.4 81.2h0M531.8 68.1h0M539.2 107.6h0M586.8 38.4h0M525.1 60.4h0M538.3 109.6h0M497.5 112.4h0M595.0 59.4h0M534.1 95.1h0M545.5 128.6h0M551.5 66.7h0M620.5 93.8h0M528.9 108.3h0M509.7 96.4h0M497.0 113.0h0M546.1 89.7h0M577.8 84.6h0M482.7 92.2h0M537.1 44.5h0M584.2 40.1h0M504.9 103.0h0M496.7 108.1h0M562.3 46.4h0M482.5 96.1h0M611.2 88.5h0M501.7 79.0h0M537.4 60.2h0M517.8 102.3h0M543.9 120.9h0M556.6 115.7h0M514.2 77.5h0M530.0 108.7h0M511.1 93.9h0M522.1 117.9h0M536.4 46.0h0M559.6 82.0h0M496.1 111.7h0M550.0 62.9h0M614.6 49.4h0M595.1 106.8h0M560.1 88.1h0M548.5 92.9h0M534.7 100.2h0M572.3 100.7h0M537.4 106.0h0M549.9 86.1h0M536.2 100.6h0M493.1 37.0h0M507.7 105.5h0M602.0 96.0h0M517.8 63.9h0M492.7 91.4h0M536.4 47.1h0M499.7 113.7h0M537.9 101.4h0M527.7 60.9h0M601.7 97.5h0M557.7 51.7h0M513.6 113.2h0M607.2 102.7h0M528.0 96.5h0M526.3 122.8h0M495.6 83.0h0M501.5 78.6h0M592.8 94.9h0M574.5 88.2h0M508.0 99.0h0M608.2 99.1h0M527.6 65.9h0M487.8 99.9h0M548.1 63.3h0M492.1 105.2h0M510.0 97.8h0M508.9 107.8h0M473.6 96.8h0M495.0 86.9h0M539.5 105.0h0M532.1 110.4h0M535.3 68.4h0M547.1 74.2h0M521.5 76.4h0M592.4 111.0h0M551.7 60.6h0M568.8 44.2h0M526.4 118.3h0M601.4 97.0h0M509.0 69.9h0M499.2 84.1h0" stroke="#fe9f6d" stroke-opacity="0.76" stroke-width="2.6" stroke-linecap="round" fill="none"/>
<path d="M513.0 95.3h0M542.0 71.9h0M587.1 88.1h0M548.8 74.5h0M607.0 59.0h0M559.7 87.5h0M557.0 69.5h0M510.5 62.3h0M512.3 71.6h0M540.6 115.5h0M624.3 73.7h0M514.6 80.7h0M526.9 63.1h0M514.8 68.5h0M494.6 85.5h0M525.6 68.7h0M485.8 91.9h0M535.2 87.3h0M518.5 87.4h0M648.7 110.1h0M593.3 48.7h0M525.1 66.4h0M501.8 78.7h0M586.3 112.2h0M511.8 69.2h0M533.9 53.4h0M501.6 110.3h0M497.7 86.9h0M591.8 112.4h0M530.3 116.3h0M544.8 125.4h0M507.4 110.0h0M535.0 112.7h0M488.5 98.0h0M538.9 113.2h0M600.1 96.9h0M518.0 77.4h0M560.5 61.4h0M536.4 68.4h0M536.6 50.5h0M565.8 102.2h0M541.3 112.4h0M566.1 53.0h0M549.3 53.3h0M469.3 111.3h0M585.5 61.6h0M568.1 40.3h0M543.8 114.3h0M555.0 62.9h0M558.1 47.5h0M547.6 128.7h0M534.6 46.8h0M537.3 109.0h0M507.5 101.1h0M562.7 114.4h0M561.4 86.1h0M564.2 111.8h0M512.1 111.2h0M502.4 108.2h0M548.8 61.3h0M558.3 117.5h0M563.2 86.1h0M531.2 63.3h0M619.0 94.4h0M601.3 102.7h0M503.0 111.4h0M549.4 85.0h0M535.0 46.7h0M517.8 95.5h0M512.2 112.5h0M555.8 85.6h0M508.8 64.5h0M597.5 98.9h0M528.1 60.0h0M524.4 84.0h0M600.4 29.9h0M530.5 52.0h0M575.9 83.0h0M507.1 97.7h0M585.7 110.0h0M492.3 77.9h0M580.2 66.7h0M516.3 62.3h0M532.3 109.2h0M532.2 94.7h0M513.7 96.0h0M528.1 97.1h0M525.2 61.7h0M597.5 96.1h0M527.8 109.0h0M484.1 79.1h0M494.2 82.4h0M570.0 39.9h0M557.1 101.0h0M521.1 118.1h0M464.4 95.5h0M495.2 82.2h0M523.2 66.8h0M564.2 46.5h0M583.0 95.5h0M542.9 114.2h0M464.5 96.4h0M529.1 122.1h0M517.9 96.4h0M516.3 85.4h0M542.1 112.7h0M573.9 88.6h0M563.3 114.0h0M551.6 92.2h0M585.4 39.2h0M523.4 65.2h0M540.1 45.3h0M510.9 81.5h0M480.6 94.8h0M547.3 93.8h0M554.6 72.7h0M535.3 114.6h0M524.6 112.7h0M529.9 112.7h0M533.6 54.2h0M492.3 106.2h0M574.8 84.7h0M496.6 101.5h0M473.1 45.1h0M599.0 39.4h0M502.6 80.8h0M579.8 41.1h0M498.3 87.3h0M528.3 48.8h0M485.5 99.4h0M485.6 81.4h0M474.2 47.1h0M550.6 50.2h0M545.2 125.2h0M565.9 52.5h0M503.2 107.8h0M558.1 114.6h0M566.6 114.2h0M474.4 86.5h0M519.9 100.5h0M496.7 36.3h0M576.4 74.1h0M560.0 45.4h0M531.3 104.9h0M489.3 100.0h0M493.5 34.0h0M505.1 69.2h0M515.3 66.7h0M540.8 100.0h0M513.4 80.2h0M632.9 79.1h0M531.6 48.2h0M538.1 70.5h0M518.5 100.4h0M489.9 107.2h0M507.9 108.2h0M520.4 76.7h0M541.4 53.4h0M496.2 33.1h0M545.3 125.3h0M584.7 86.9h0M522.7 86.0h0M544.8 86.0h0M553.7 62.4h0M525.6 62.3h0M563.1 111.5h0M505.5 71.5h0M491.7 93.9h0M564.6 93.2h0M485.4 83.9h0M610.2 80.5h0M494.3 112.1h0M514.3 96.1h0M505.3 68.4h0M534.5 48.5h0M605.0 98.3h0M575.5 111.7h0M518.2 97.5h0M517.6 100.9h0M512.8 107.8h0M468.9 82.3h0" stroke="#fe9f6d" stroke-opacity="0.76" stroke-width="2.6" stroke-linecap="round" fill="none"/>
<path d="M535.1 68.4h0M529.9 47.2h0M581.1 36.0h0M564.8 118.6h0M519.1 77.1h0M485.2 109.5h0M578.1 89.3h0M556.4 88.8h0M496.8 112.6h0M498.7 83.7h0M498.8 104.1h0M503.6 103.1h0M486.6 111.5h0M592.5 59.6h0M569.9 85.7h0M538.9 85.7h0M564.5 119.8h0M492.4 87.3h0M569.6 43.8h0M530.2 115.3h0M493.6 102.8h0M515.1 100.3h0M524.2 124.2h0M580.4 41.9h0M548.6 128.4h0M497.1 80.2h0M490.7 75.6h0M519.8 86.0h0M568.1 41.2h0M603.6 102.0h0M575.8 87.3h0M596.0 95.1h0M525.4 104.2h0M525.7 60.9h0M612.0 75.8h0M546.5 44.1h0M571.5 59.8h0M553.5 85.4h0M541.0 115.4h0M521.0 84.5h0M567.7 62.6h0M534.5 100.3h0M517.1 66.5h0M569.9 43.2h0M511.9 99.7h0M519.5 84.7h0M547.6 63.2h0M550.3 50.9h0M497.4 103.0h0M497.6 35.7h0M499.9 109.5h0M494.7 107.2h0M540.9 98.6h0M493.1 109.4h0M539.5 123.9h0M528.3 60.7h0M539.8 100.7h0M534.2 86.6h0M609.5 83.0h0M527.2 110.4h0M541.0 115.0h0M514.7 76.1h0M480.8 84.7h0M494.4 104.4h0M549.5 98.9h0M593.7 58.9h0M540.2 85.4h0M563.9 86.0h0M576.6 87.4h0M536.2 60.1h0M501.2 81.4h0M535.6 116.4h0M534.4 52.6h0M538.0 75.6h0M462.7 95.2h0M561.7 85.3h0M503.2 102.4h0M577.2 76.5h0M582.8 96.5h0M578.5 84.7h0M498.5 85.7h0M559.4 89.5h0M525.6 65.1h0M544.5 128.5h0M553.7 74.2h0M480.8 95.4h0M501.1 111.9h0M553.1 61.3h0M534.1 108.1h0M497.4 35.5h0M534.4 105.7h0M516.9 100.6h0M495.7 86.0h0M536.2 52.7h0M485.3 78.8h0M512.2 98.2h0M498.5 81.7h0M524.2 123.1h0M587.5 86.8h0M610.9 99.1h0M531.7 67.9h0M538.2 101.6h0M568.8 62.1h0M548.7 64.6h0M557.7 90.0h0M545.2 127.9h0M539.5 113.0h0M518.3 77.6h0M564.7 112.4h0M545.9 85.3h0M541.3 43.3h0M487.4 83.3h0M508.2 97.2h0M490.7 84.9h0M490.9 113.3h0M496.7 94.4h0M594.9 74.4h0M560.2 82.5h0M495.1 34.4h0M564.0 112.9h0M484.3 108.1h0M505.4 105.1h0M485.3 92.5h0M522.6 77.3h0M535.1 61.1h0M535.2 96.2h0M542.8 82.6h0M558.2 45.8h0M542.0 126.6h0M584.6 39.7h0M499.5 85.3h0M538.5 83.8h0M484.0 81.2h0M576.0 113.1h0M495.0 81.3h0M570.2 117.0h0M582.9 41.1h0M500.2 103.8h0M532.3 48.8h0M495.8 105.5h0M547.3 86.9h0M583.1 36.6h0M514.4 86.1h0M489.4 76.9h0M523.1 80.6h0M582.3 98.8h0M559.4 83.5h0M574.4 89.9h0M544.1 100.1h0M511.3 94.2h0M500.7 101.4h0M550.2 86.9h0M510.8 95.4h0M485.9 79.0h0M610.2 101.2h0M601.7 100.5h0M507.0 104.2h0M530.9 105.0h0M608.6 86.2h0M507.5 110.2h0M547.7 93.5h0M551.6 44.4h0M598.3 101.7h0M529.8 67.6h0M516.5 101.7h0M583.7 77.2h0M522.8 59.9h0M558.8 117.4h0M618.9 92.8h0M500.5 108.7h0M538.7 98.3h0M496.4 32.9h0M528.3 64.1h0M518.8 94.3h0M589.8 112.1h0M576.7 85.5h0M491.0 85.9h0M549.9 124.5h0M543.4 114.6h0M523.0 103.6h0M494.7 117.8h0" stroke="#fe9f6d" stroke-opacity="0.76" stroke-width="2.6" stroke-linecap="round" fill="none"/>
<path d="M486.9 92.4h0M509.8 101.4h0M536.3 64.0h0M536.4 109.1h0M532.1 52.6h0M599.3 94.5h0M592.3 113.7h0M570.1 35.9h0M503.0 105.1h0M541.7 108.3h0M541.2 43.5h0M532.1 115.8h0M596.5 101.5h0M564.1 45.8h0M610.7 98.5h0M612.6 76.1h0M524.6 122.4h0M589.2 76.2h0M530.2 104.3h0M523.2 123.1h0M527.9 62.8h0M553.8 88.3h0M514.8 88.8h0M524.0 110.1h0M530.2 111.1h0M524.1 61.5h0M499.5 34.8h0M529.4 125.2h0M584.8 98.9h0M595.1 114.9h0M510.2 107.4h0M592.2 77.7h0M538.3 121.0h0M485.4 94.5h0M528.6 125.3h0M553.3 68.5h0M547.6 63.1h0M549.2 75.9h0M610.9 88.4h0M564.4 114.4h0M559.3 102.5h0M559.1 60.0h0M545.7 91.0h0M486.1 82.5h0M490.9 91.6h0M536.2 66.8h0M535.2 51.0h0M563.6 118.5h0M581.1 85.0h0M524.0 64.7h0M541.2 125.6h0M508.9 68.2h0M541.2 112.8h0M524.2 102.1h0M577.9 86.8h0M538.4 44.4h0M494.6 110.3h0M569.0 62.1h0M593.9 95.3h0M575.2 106.4h0M495.7 107.1h0M567.6 61.4h0M514.7 62.7h0M537.7 98.8h0M522.3 60.3h0M495.8 103.0h0M543.9 107.4h0M544.7 86.4h0M468.8 71.1h0M569.1 60.1h0M551.9 86.7h0M504.2 103.9h0M508.9 71.6h0M559.4 86.8h0M568.5 89.5h0M551.6 86.9h0M517.0 87.8h0M557.4 70.3h0M539.3 105.7h0M577.1 107.9h0M588.1 48.4h0M501.9 108.6h0M535.3 67.2h0M518.6 96.5h0M513.2 66.7h0M524.4 112.2h0M608.3 102.4h0M528.5 119.7h0M569.1 85.5h0M492.2 107.4h0M576.6 77.6h0M530.6 119.8h0M549.3 52.7h0M535.6 85.9h0M602.4 102.9h0M510.0 98.3h0M511.0 108.1h0M491.7 114.0h0M468.7 82.3h0M536.5 73.8h0M506.7 71.6h0M559.2 114.7h0M571.9 114.9h0M540.0 108.4h0M533.5 64.5h0M548.0 45.6h0M517.1 97.4h0M535.7 99.8h0M559.0 60.2h0M534.7 45.2h0M474.1 95.9h0M534.2 45.7h0M626.5 86.3h0M581.3 83.7h0M508.5 109.5h0M496.2 108.5h0M604.2 101.7h0M588.2 111.1h0M605.4 100.9h0M533.5 123.6h0M499.8 86.4h0M607.7 85.1h0M548.0 123.6h0M532.6 46.9h0M578.9 85.8h0M516.0 67.3h0M519.8 88.1h0M538.8 47.3h0M527.0 111.9h0M522.5 65.1h0M588.2 60.9h0M534.1 99.6h0M525.7 101.9h0M488.8 98.8h0M524.4 27.6h0M540.5 99.8h0M583.6 39.6h0M507.3 99.9h0M573.5 83.9h0M523.7 28.6h0M545.3 125.8h0M533.6 95.8h0M580.4 87.9h0M521.2 120.6h0M552.0 72.8h0M537.3 122.1h0M604.8 99.6h0M526.5 112.6h0M567.1 116.4h0M531.0 53.3h0M499.5 84.7h0M557.8 115.5h0M566.6 118.1h0M505.2 66.0h0M544.0 128.4h0M493.9 87.5h0M529.9 117.2h0M474.7 96.8h0M525.3 65.0h0M527.3 66.3h0M561.0 117.0h0M486.5 78.7h0M500.1 103.8h0M598.4 102.8h0M608.4 58.1h0M605.4 82.4h0M550.2 104.2h0M585.6 86.7h0M537.5 52.3h0M589.8 61.0h0M523.0 65.4h0M508.9 97.1h0M499.0 107.6h0M537.9 99.7h0M557.1 69.5h0M551.1 73.9h0M537.8 69.8h0M577.7 111.8h0M522.1 117.7h0M551.3 61.4h0M557.4 59.8h0" stroke="#fe9f6d" stroke-opacity="0.76" stroke-width="2.6" stroke-linecap="round" fill="none"/>
<path d="M504.4 98.3h0M534.2 49.1h0M500.9 108.3h0M569.0 35.0h0M595.3 95.8h0M522.3 117.5h0M592.7 58.9h0M551.1 85.2h0M514.5 67.7h0M500.6 104.6h0M496.2 85.9h0M557.3 52.3h0M514.2 71.6h0M592.2 77.5h0M498.8 35.4h0M517.2 97.6h0M531.6 80.8h0M493.5 112.7h0M592.3 58.3h0M555.2 110.4h0M575.7 76.0h0M536.6 100.2h0M546.1 91.7h0M521.2 101.5h0M550.0 99.4h0M555.8 45.7h0M519.5 78.3h0M487.2 85.3h0M529.7 66.6h0M486.9 111.1h0M494.6 83.4h0M512.6 63.8h0M560.4 119.0h0M590.6 112.8h0M494.7 84.1h0M559.8 82.9h0M592.9 94.7h0M556.2 73.8h0M486.1 80.0h0M522.5 91.7h0M533.2 94.4h0M618.3 93.5h0M569.4 39.5h0M493.5 87.8h0M558.9 51.6h0M512.1 93.5h0M541.3 46.2h0M511.0 97.3h0M576.0 75.9h0M581.8 42.8h0M514.7 67.9h0M526.2 111.3h0M580.7 106.9h0M538.2 46.6h0M590.1 112.0h0M578.7 111.6h0M530.5 65.4h0M560.7 62.7h0M631.8 77.7h0M518.0 77.4h0M542.3 126.0h0M539.6 45.5h0M581.9 95.9h0M559.1 45.8h0M582.0 85.7h0M582.5 106.1h0M595.9 100.3h0M565.6 154.5h0M499.7 107.0h0M502.5 78.5h0M489.5 92.6h0M532.8 98.1h0M524.3 62.8h0M483.0 95.4h0M614.7 48.2h0M491.1 107.3h0M507.3 59.0h0M532.8 68.3h0M549.0 92.3h0M609.1 100.6h0M550.6 84.5h0M528.9 68.9h0M531.5 109.6h0M543.7 44.5h0M536.3 66.2h0M514.7 113.3h0M581.6 83.2h0M493.7 118.5h0M568.4 39.7h0M540.5 123.6h0M495.0 75.4h0M500.6 111.3h0M492.6 93.7h0M483.6 80.8h0M558.0 86.6h0M550.4 45.8h0M600.6 100.5h0M539.8 106.0h0M485.3 108.3h0M625.3 83.2h0M536.3 66.9h0M536.0 62.3h0M578.3 111.6h0M574.6 83.3h0M491.1 109.2h0M585.7 106.9h0M579.4 108.2h0M486.3 108.1h0M511.6 96.8h0M508.1 71.7h0M533.6 54.2h0M556.2 69.6h0M579.8 82.1h0M536.1 106.3h0M581.7 41.2h0M598.4 110.1h0M498.1 106.2h0M485.0 77.6h0M607.7 83.6h0M582.0 35.6h0M562.7 111.0h0M509.3 96.1h0M531.5 95.1h0M524.7 64.2h0M555.7 73.7h0M584.5 66.3h0M590.6 110.7h0M583.5 77.1h0M541.9 46.6h0M532.4 65.1h0M531.1 112.3h0M528.4 63.6h0M568.9 42.7h0M530.4 63.0h0M610.1 81.5h0M516.4 114.8h0M631.7 78.0h0M508.0 70.8h0M485.2 95.8h0M573.0 89.3h0M580.3 114.1h0M519.1 87.6h0M515.9 64.7h0M607.4 86.5h0M582.2 37.3h0M486.9 81.3h0M539.1 98.4h0M508.6 99.1h0M489.6 77.1h0M502.6 77.7h0M517.0 70.4h0M536.6 99.8h0M536.5 48.3h0M535.3 47.4h0M490.3 113.2h0M513.3 95.4h0M524.4 28.6h0M538.6 83.7h0M510.7 89.9h0M517.8 62.9h0M604.7 102.5h0M556.8 109.3h0M534.6 108.6h0M520.9 118.7h0M500.2 78.2h0M531.8 105.0h0M536.2 52.5h0M531.5 67.9h0M594.6 48.5h0M508.3 70.2h0M557.4 46.6h0M564.8 115.4h0M490.1 95.1h0M483.7 94.6h0M598.2 61.3h0M545.9 93.0h0M554.1 60.2h0M595.6 76.8h0M563.7 112.3h0M519.6 87.4h0M559.7 101.9h0" stroke="#fe9f6d" stroke-opacity="0.76" stroke-width="2.6" stroke-linecap="round" fill="none"/>
<path d="M29.0 10.6V182.3H337.9" fill="none" stroke="#c9d3db" stroke-width="1.1"/>
<text x="32.05" y="190.9" font-size="7.45" text-anchor="middle">−80</text>
<text x="68.73" y="190.9" font-size="7.45" text-anchor="middle">−60</text>
<text x="105.4" y="190.9" font-size="7.45" text-anchor="middle">−40</text>
<text x="142.08" y="190.9" font-size="7.45" text-anchor="middle">−20</text>
<text x="178.75" y="190.9" font-size="7.45" text-anchor="middle">0</text>
<text x="215.43" y="190.9" font-size="7.45" text-anchor="middle">20</text>
<text x="252.11" y="190.9" font-size="7.45" text-anchor="middle">40</text>
<text x="288.78" y="190.9" font-size="7.45" text-anchor="middle">60</text>
<text x="325.46" y="190.9" font-size="7.45" text-anchor="middle">80</text>
<text x="26.2" y="168.49" font-size="7.45" text-anchor="end">−60</text>
<text x="26.2" y="145.81" font-size="7.45" text-anchor="end">−40</text>
<text x="26.2" y="123.13" font-size="7.45" text-anchor="end">−20</text>
<text x="26.2" y="100.45" font-size="7.45" text-anchor="end">0</text>
<text x="26.2" y="77.77" font-size="7.45" text-anchor="end">20</text>
<text x="26.2" y="55.09" font-size="7.45" text-anchor="end">40</text>
<text x="26.2" y="32.41" font-size="7.45" text-anchor="end">60</text>
<path d="M32.05 182.3v-2.2M68.73 182.3v-2.2M105.40 182.3v-2.2M142.08 182.3v-2.2M178.75 182.3v-2.2M215.43 182.3v-2.2M252.11 182.3v-2.2M288.78 182.3v-2.2M325.46 182.3v-2.2M29.0 165.29h2.3M29.0 142.61h2.3M29.0 119.93h2.3M29.0 97.25h2.3M29.0 74.57h2.3M29.0 51.89h2.3M29.0 29.21h2.3" stroke="#bcc8d1" stroke-width="0.9" fill="none"/>
<text x="183.45" y="201.2" font-size="8.25" text-anchor="middle">t-SNE Component 1</text>
<text x="7.3" y="96.45" font-size="8.25" text-anchor="middle" transform="rotate(-90 7.3 96.45)">t-SNE Component 2</text>
<text x="183.45" y="6.8" font-size="9.0" text-anchor="middle">Random Split</text>
<circle cx="279.6" cy="5.80" r="1.55" fill="#000004" fill-opacity="0.62"/>
<text x="293.7" y="8.4" font-size="7.45" text-anchor="start">Fold 1</text>
<circle cx="279.6" cy="16.68" r="1.55" fill="#3b0f70" fill-opacity="0.62"/>
<text x="293.7" y="19.28" font-size="7.45" text-anchor="start">Fold 2</text>
<circle cx="279.6" cy="27.56" r="1.55" fill="#8c2981" fill-opacity="0.62"/>
<text x="293.7" y="30.16" font-size="7.45" text-anchor="start">Fold 3</text>
<circle cx="279.6" cy="38.44" r="1.55" fill="#de4968" fill-opacity="0.62"/>
<text x="293.7" y="41.04" font-size="7.45" text-anchor="start">Fold 4</text>
<circle cx="279.6" cy="49.32" r="1.55" fill="#fe9f6d" fill-opacity="0.62"/>
<text x="293.7" y="51.92" font-size="7.45" text-anchor="start">Fold 5</text>
<path d="M375.8 10.6V182.3H684.7" fill="none" stroke="#c9d3db" stroke-width="1.1"/>
<text x="378.85" y="190.9" font-size="7.45" text-anchor="middle">−80</text>
<text x="415.53" y="190.9" font-size="7.45" text-anchor="middle">−60</text>
<text x="452.2" y="190.9" font-size="7.45" text-anchor="middle">−40</text>
<text x="488.88" y="190.9" font-size="7.45" text-anchor="middle">−20</text>
<text x="525.55" y="190.9" font-size="7.45" text-anchor="middle">0</text>
<text x="562.23" y="190.9" font-size="7.45" text-anchor="middle">20</text>
<text x="598.91" y="190.9" font-size="7.45" text-anchor="middle">40</text>
<text x="635.58" y="190.9" font-size="7.45" text-anchor="middle">60</text>
<text x="672.26" y="190.9" font-size="7.45" text-anchor="middle">80</text>
<text x="373.0" y="168.49" font-size="7.45" text-anchor="end">−60</text>
<text x="373.0" y="145.81" font-size="7.45" text-anchor="end">−40</text>
<text x="373.0" y="123.13" font-size="7.45" text-anchor="end">−20</text>
<text x="373.0" y="100.45" font-size="7.45" text-anchor="end">0</text>
<text x="373.0" y="77.77" font-size="7.45" text-anchor="end">20</text>
<text x="373.0" y="55.09" font-size="7.45" text-anchor="end">40</text>
<text x="373.0" y="32.41" font-size="7.45" text-anchor="end">60</text>
<path d="M378.85 182.3v-2.2M415.53 182.3v-2.2M452.20 182.3v-2.2M488.88 182.3v-2.2M525.55 182.3v-2.2M562.23 182.3v-2.2M598.91 182.3v-2.2M635.58 182.3v-2.2M672.26 182.3v-2.2M375.8 165.29h2.3M375.8 142.61h2.3M375.8 119.93h2.3M375.8 97.25h2.3M375.8 74.57h2.3M375.8 51.89h2.3M375.8 29.21h2.3" stroke="#bcc8d1" stroke-width="0.9" fill="none"/>
<text x="530.25" y="201.2" font-size="8.25" text-anchor="middle">t-SNE Component 1</text>
<text x="354.1" y="96.45" font-size="8.25" text-anchor="middle" transform="rotate(-90 354.1 96.45)">t-SNE Component 2</text>
<text x="530.25" y="6.8" font-size="9.0" text-anchor="middle">LOCOCV Split</text>
<circle cx="630.7" cy="5.80" r="1.55" fill="#000004" fill-opacity="0.62"/>
<text x="643.9" y="8.4" font-size="7.45" text-anchor="start">Cluster 1</text>
<circle cx="630.7" cy="16.68" r="1.55" fill="#3b0f70" fill-opacity="0.62"/>
<text x="643.9" y="19.28" font-size="7.45" text-anchor="start">Cluster 2</text>
<circle cx="630.7" cy="27.56" r="1.55" fill="#8c2981" fill-opacity="0.62"/>
<text x="643.9" y="30.16" font-size="7.45" text-anchor="start">Cluster 3</text>
<circle cx="630.7" cy="38.44" r="1.55" fill="#de4968" fill-opacity="0.62"/>
<text x="643.9" y="41.04" font-size="7.45" text-anchor="start">Cluster 4</text>
<circle cx="630.7" cy="49.32" r="1.55" fill="#fe9f6d" fill-opacity="0.62"/>
<text x="643.9" y="51.92" font-size="7.45" text-anchor="start">Cluster 5</text>
<path d="M29.10 394.0V393.25H33.57V392.50H38.04V389.51H42.51V388.77H46.98V389.51H51.45V381.29H55.92V361.86H60.39V350.64H64.86V352.14H69.33V338.69H73.80V339.43H78.27V339.43H82.74V334.95H87.21V330.46H91.68V317.75H96.15V325.23H100.62V304.30H105.09V275.15H109.56V261.69H114.03V237.77H118.50V394.0Z" fill="#666668"/>
<path d="M118.50 394.0V325.23H119.98V334.20H121.46V327.47H122.94V331.21H124.42V315.51H125.90V321.49H127.38V341.68H128.86V341.68H130.34V353.63H131.82V327.47H133.30V328.97H134.78V342.42H136.26V355.88H137.74V352.89H139.22V340.18H140.70V344.67H142.18V352.14H143.66V344.67H145.14V358.12H146.62V337.94H148.10V394.0Z" fill="#896fa9"/>
<path d="M148.10 394.0V335.69H149.90V321.49H151.70V336.44H153.50V342.42H155.30V333.45H157.10V329.71H158.90V346.16H160.70V327.47H162.50V336.44H164.30V358.12H166.10V326.73H167.90V324.48H169.70V343.17H171.50V345.41H173.30V340.18H175.10V342.42H176.90V343.92H178.70V352.89H180.50V355.13H182.30V350.64H184.10V394.0Z" fill="#ba7fb3"/>
<path d="M184.10 394.0V320.00H185.95V360.36H187.80V360.36H189.65V348.40H191.50V343.92H193.35V355.88H195.20V322.99H197.05V347.65H198.90V349.15H200.75V336.44H202.60V336.44H204.45V337.94H206.30V343.17H208.15V334.95H210.00V328.97H211.85V325.98H213.70V337.19H215.55V342.42H217.40V340.18H219.25V319.25H221.10V394.0Z" fill="#eb92a4"/>
<path d="M221.10 394.0V223.57H226.94V225.06H232.78V246.74H238.62V271.41H244.46V286.36H250.30V305.05H256.14V325.98H261.98V340.93H267.82V355.88H273.66V351.39H279.50V370.08H285.34V372.32H291.18V373.82H297.02V386.52H302.86V382.04H308.70V393.25H314.54V394.00H320.38V392.50H326.22V394.00H332.06V393.25H337.90V394.0Z" fill="#fec5a7"/>
<path d="M29.3 223.0V394.4H337.9" fill="none" stroke="#c9d3db" stroke-width="1.1"/>
<text x="61.4" y="402.9" font-size="7.45" text-anchor="middle">200</text>
<text x="110.6" y="402.9" font-size="7.45" text-anchor="middle">300</text>
<text x="159.8" y="402.9" font-size="7.45" text-anchor="middle">400</text>
<text x="209.0" y="402.9" font-size="7.45" text-anchor="middle">500</text>
<text x="258.2" y="402.9" font-size="7.45" text-anchor="middle">600</text>
<text x="307.4" y="402.9" font-size="7.45" text-anchor="middle">700</text>
<text x="26.5" y="397.1" font-size="7.45" text-anchor="end">0</text>
<text x="26.5" y="359.73" font-size="7.45" text-anchor="end">50</text>
<text x="26.5" y="322.35" font-size="7.45" text-anchor="end">100</text>
<text x="26.5" y="284.98" font-size="7.45" text-anchor="end">150</text>
<text x="26.5" y="247.6" font-size="7.45" text-anchor="end">200</text>
<path d="M61.40 394.0v-2.3M110.60 394.0v-2.3M159.80 394.0v-2.3M209.00 394.0v-2.3M258.20 394.0v-2.3M307.40 394.0v-2.3M29.3 394.00h2.3M29.3 356.62h2.3M29.3 319.25h2.3M29.3 281.88h2.3M29.3 244.50h2.3" stroke="#bcc8d1" stroke-width="0.9" fill="none"/>
<text x="183.4" y="413.0" font-size="8.25" text-anchor="middle">Experimental Tg \ K</text>
<text x="7.6" y="308.4" font-size="8.25" text-anchor="middle" transform="rotate(-90 7.6 308.4)">Frequency</text>
<text x="183.4" y="219.0" font-size="9.0" text-anchor="middle">Tg property based split</text>
<rect x="255.9" y="215.20" width="15" height="5.2" fill="#666668"/>
<text x="277.5" y="220.4" font-size="7.45" text-anchor="start">Quantile 1</text>
<rect x="255.9" y="226.08" width="15" height="5.2" fill="#896fa9"/>
<text x="277.5" y="231.28" font-size="7.45" text-anchor="start">Quantile 2</text>
<rect x="255.9" y="236.96" width="15" height="5.2" fill="#ba7fb3"/>
<text x="277.5" y="242.16" font-size="7.45" text-anchor="start">Quantile 3</text>
<rect x="255.9" y="247.84" width="15" height="5.2" fill="#eb92a4"/>
<text x="277.5" y="253.04" font-size="7.45" text-anchor="start">Quantile 4</text>
<rect x="255.9" y="258.72" width="15" height="5.2" fill="#fec5a7"/>
<text x="277.5" y="263.92" font-size="7.45" text-anchor="start">Quantile 5</text>
</svg>
</body></html>
